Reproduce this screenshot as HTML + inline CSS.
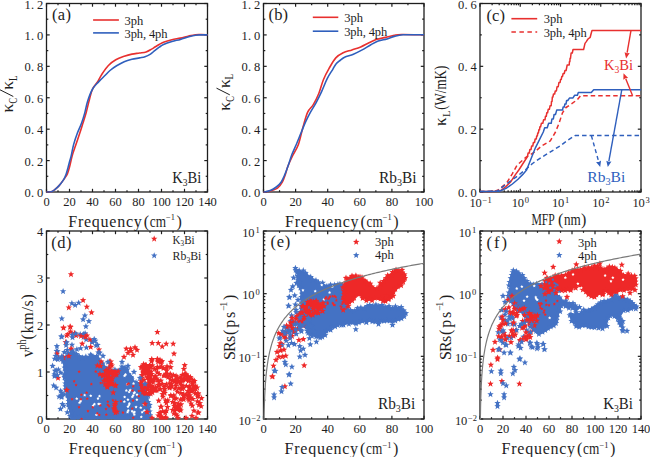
<!DOCTYPE html>
<html><head><meta charset="utf-8"><style>
html,body{margin:0;padding:0;background:#fff;overflow:hidden;}
svg{display:block;font-family:'Liberation Serif', serif;}
</style></head><body>
<svg width="650" height="457" viewBox="0 0 650 457">
<rect width="650" height="457" fill="#fff"/>
<defs>
<clipPath id="c00"><rect x="45.8" y="2.8" width="162.4" height="189.9"/></clipPath>
<clipPath id="c01"><rect x="45.8" y="230.3" width="162.4" height="189.4"/></clipPath>
<clipPath id="c10"><rect x="262.8" y="2.8" width="161.9" height="189.9"/></clipPath>
<clipPath id="c11"><rect x="262.8" y="230.3" width="161.9" height="189.4"/></clipPath>
<clipPath id="c20"><rect x="479.3" y="2.8" width="162.4" height="189.9"/></clipPath>
<clipPath id="c21"><rect x="479.3" y="230.3" width="162.4" height="189.4"/></clipPath>
</defs>
<rect x="46.5" y="3.5" width="161.0" height="188.5" fill="none" stroke="#1e1e1e" stroke-width="1.3"/>
<rect x="46.5" y="231.0" width="161.0" height="188.0" fill="none" stroke="#1e1e1e" stroke-width="1.3"/>
<rect x="263.5" y="3.5" width="160.5" height="188.5" fill="none" stroke="#1e1e1e" stroke-width="1.3"/>
<rect x="263.5" y="231.0" width="160.5" height="188.0" fill="none" stroke="#1e1e1e" stroke-width="1.3"/>
<rect x="480.0" y="3.5" width="161.0" height="188.5" fill="none" stroke="#1e1e1e" stroke-width="1.3"/>
<rect x="480.0" y="231.0" width="161.0" height="188.0" fill="none" stroke="#1e1e1e" stroke-width="1.3"/>
<line x1="46.50" y1="192.00" x2="46.50" y2="188.80" stroke="#1e1e1e" stroke-width="1.2" />
<line x1="46.50" y1="3.50" x2="46.50" y2="6.70" stroke="#1e1e1e" stroke-width="1.2" />
<text x="46.50" y="206.00" font-size="12.5" text-anchor="middle" fill="#1e1e1e">0</text>
<line x1="58.00" y1="192.00" x2="58.00" y2="190.20" stroke="#1e1e1e" stroke-width="1.2" />
<line x1="58.00" y1="3.50" x2="58.00" y2="5.30" stroke="#1e1e1e" stroke-width="1.2" />
<line x1="69.50" y1="192.00" x2="69.50" y2="188.80" stroke="#1e1e1e" stroke-width="1.2" />
<line x1="69.50" y1="3.50" x2="69.50" y2="6.70" stroke="#1e1e1e" stroke-width="1.2" />
<text x="66.40 72.60" y="206.00" font-size="12.5" text-anchor="middle" fill="#1e1e1e">20</text>
<line x1="81.00" y1="192.00" x2="81.00" y2="190.20" stroke="#1e1e1e" stroke-width="1.2" />
<line x1="81.00" y1="3.50" x2="81.00" y2="5.30" stroke="#1e1e1e" stroke-width="1.2" />
<line x1="92.50" y1="192.00" x2="92.50" y2="188.80" stroke="#1e1e1e" stroke-width="1.2" />
<line x1="92.50" y1="3.50" x2="92.50" y2="6.70" stroke="#1e1e1e" stroke-width="1.2" />
<text x="89.40 95.60" y="206.00" font-size="12.5" text-anchor="middle" fill="#1e1e1e">40</text>
<line x1="104.00" y1="192.00" x2="104.00" y2="190.20" stroke="#1e1e1e" stroke-width="1.2" />
<line x1="104.00" y1="3.50" x2="104.00" y2="5.30" stroke="#1e1e1e" stroke-width="1.2" />
<line x1="115.50" y1="192.00" x2="115.50" y2="188.80" stroke="#1e1e1e" stroke-width="1.2" />
<line x1="115.50" y1="3.50" x2="115.50" y2="6.70" stroke="#1e1e1e" stroke-width="1.2" />
<text x="112.40 118.60" y="206.00" font-size="12.5" text-anchor="middle" fill="#1e1e1e">60</text>
<line x1="127.00" y1="192.00" x2="127.00" y2="190.20" stroke="#1e1e1e" stroke-width="1.2" />
<line x1="127.00" y1="3.50" x2="127.00" y2="5.30" stroke="#1e1e1e" stroke-width="1.2" />
<line x1="138.50" y1="192.00" x2="138.50" y2="188.80" stroke="#1e1e1e" stroke-width="1.2" />
<line x1="138.50" y1="3.50" x2="138.50" y2="6.70" stroke="#1e1e1e" stroke-width="1.2" />
<text x="135.40 141.60" y="206.00" font-size="12.5" text-anchor="middle" fill="#1e1e1e">80</text>
<line x1="150.00" y1="192.00" x2="150.00" y2="190.20" stroke="#1e1e1e" stroke-width="1.2" />
<line x1="150.00" y1="3.50" x2="150.00" y2="5.30" stroke="#1e1e1e" stroke-width="1.2" />
<line x1="161.50" y1="192.00" x2="161.50" y2="188.80" stroke="#1e1e1e" stroke-width="1.2" />
<line x1="161.50" y1="3.50" x2="161.50" y2="6.70" stroke="#1e1e1e" stroke-width="1.2" />
<text x="155.30 161.50 167.70" y="206.00" font-size="12.5" text-anchor="middle" fill="#1e1e1e">100</text>
<line x1="173.00" y1="192.00" x2="173.00" y2="190.20" stroke="#1e1e1e" stroke-width="1.2" />
<line x1="173.00" y1="3.50" x2="173.00" y2="5.30" stroke="#1e1e1e" stroke-width="1.2" />
<line x1="184.50" y1="192.00" x2="184.50" y2="188.80" stroke="#1e1e1e" stroke-width="1.2" />
<line x1="184.50" y1="3.50" x2="184.50" y2="6.70" stroke="#1e1e1e" stroke-width="1.2" />
<text x="178.30 184.50 190.70" y="206.00" font-size="12.5" text-anchor="middle" fill="#1e1e1e">120</text>
<line x1="196.00" y1="192.00" x2="196.00" y2="190.20" stroke="#1e1e1e" stroke-width="1.2" />
<line x1="196.00" y1="3.50" x2="196.00" y2="5.30" stroke="#1e1e1e" stroke-width="1.2" />
<line x1="207.50" y1="192.00" x2="207.50" y2="188.80" stroke="#1e1e1e" stroke-width="1.2" />
<line x1="207.50" y1="3.50" x2="207.50" y2="6.70" stroke="#1e1e1e" stroke-width="1.2" />
<text x="201.30 207.50 213.70" y="206.00" font-size="12.5" text-anchor="middle" fill="#1e1e1e">140</text>
<line x1="46.50" y1="192.00" x2="49.70" y2="192.00" stroke="#1e1e1e" stroke-width="1.2" />
<line x1="207.50" y1="192.00" x2="204.30" y2="192.00" stroke="#1e1e1e" stroke-width="1.2" />
<text x="27.70 32.50 40.10" y="197.00" font-size="12.5" text-anchor="middle" fill="#1e1e1e">0.0</text>
<line x1="46.50" y1="176.29" x2="48.30" y2="176.29" stroke="#1e1e1e" stroke-width="1.2" />
<line x1="207.50" y1="176.29" x2="205.70" y2="176.29" stroke="#1e1e1e" stroke-width="1.2" />
<line x1="46.50" y1="160.58" x2="49.70" y2="160.58" stroke="#1e1e1e" stroke-width="1.2" />
<line x1="207.50" y1="160.58" x2="204.30" y2="160.58" stroke="#1e1e1e" stroke-width="1.2" />
<text x="27.70 32.50 40.10" y="165.58" font-size="12.5" text-anchor="middle" fill="#1e1e1e">0.2</text>
<line x1="46.50" y1="144.88" x2="48.30" y2="144.88" stroke="#1e1e1e" stroke-width="1.2" />
<line x1="207.50" y1="144.88" x2="205.70" y2="144.88" stroke="#1e1e1e" stroke-width="1.2" />
<line x1="46.50" y1="129.17" x2="49.70" y2="129.17" stroke="#1e1e1e" stroke-width="1.2" />
<line x1="207.50" y1="129.17" x2="204.30" y2="129.17" stroke="#1e1e1e" stroke-width="1.2" />
<text x="27.70 32.50 40.10" y="134.17" font-size="12.5" text-anchor="middle" fill="#1e1e1e">0.4</text>
<line x1="46.50" y1="113.46" x2="48.30" y2="113.46" stroke="#1e1e1e" stroke-width="1.2" />
<line x1="207.50" y1="113.46" x2="205.70" y2="113.46" stroke="#1e1e1e" stroke-width="1.2" />
<line x1="46.50" y1="97.75" x2="49.70" y2="97.75" stroke="#1e1e1e" stroke-width="1.2" />
<line x1="207.50" y1="97.75" x2="204.30" y2="97.75" stroke="#1e1e1e" stroke-width="1.2" />
<text x="27.70 32.50 40.10" y="102.75" font-size="12.5" text-anchor="middle" fill="#1e1e1e">0.6</text>
<line x1="46.50" y1="82.04" x2="48.30" y2="82.04" stroke="#1e1e1e" stroke-width="1.2" />
<line x1="207.50" y1="82.04" x2="205.70" y2="82.04" stroke="#1e1e1e" stroke-width="1.2" />
<line x1="46.50" y1="66.33" x2="49.70" y2="66.33" stroke="#1e1e1e" stroke-width="1.2" />
<line x1="207.50" y1="66.33" x2="204.30" y2="66.33" stroke="#1e1e1e" stroke-width="1.2" />
<text x="27.70 32.50 40.10" y="71.33" font-size="12.5" text-anchor="middle" fill="#1e1e1e">0.8</text>
<line x1="46.50" y1="50.62" x2="48.30" y2="50.62" stroke="#1e1e1e" stroke-width="1.2" />
<line x1="207.50" y1="50.62" x2="205.70" y2="50.62" stroke="#1e1e1e" stroke-width="1.2" />
<line x1="46.50" y1="34.92" x2="49.70" y2="34.92" stroke="#1e1e1e" stroke-width="1.2" />
<line x1="207.50" y1="34.92" x2="204.30" y2="34.92" stroke="#1e1e1e" stroke-width="1.2" />
<text x="27.70 32.50 40.10" y="39.92" font-size="12.5" text-anchor="middle" fill="#1e1e1e">1.0</text>
<line x1="46.50" y1="19.21" x2="48.30" y2="19.21" stroke="#1e1e1e" stroke-width="1.2" />
<line x1="207.50" y1="19.21" x2="205.70" y2="19.21" stroke="#1e1e1e" stroke-width="1.2" />
<line x1="46.50" y1="3.50" x2="49.70" y2="3.50" stroke="#1e1e1e" stroke-width="1.2" />
<line x1="207.50" y1="3.50" x2="204.30" y2="3.50" stroke="#1e1e1e" stroke-width="1.2" />
<text x="27.70 32.50 40.10" y="8.50" font-size="12.5" text-anchor="middle" fill="#1e1e1e">1.2</text>
<line x1="263.50" y1="192.00" x2="263.50" y2="188.80" stroke="#1e1e1e" stroke-width="1.2" />
<line x1="263.50" y1="3.50" x2="263.50" y2="6.70" stroke="#1e1e1e" stroke-width="1.2" />
<text x="263.50" y="206.00" font-size="12.5" text-anchor="middle" fill="#1e1e1e">0</text>
<line x1="279.55" y1="192.00" x2="279.55" y2="190.20" stroke="#1e1e1e" stroke-width="1.2" />
<line x1="279.55" y1="3.50" x2="279.55" y2="5.30" stroke="#1e1e1e" stroke-width="1.2" />
<line x1="295.60" y1="192.00" x2="295.60" y2="188.80" stroke="#1e1e1e" stroke-width="1.2" />
<line x1="295.60" y1="3.50" x2="295.60" y2="6.70" stroke="#1e1e1e" stroke-width="1.2" />
<text x="292.50 298.70" y="206.00" font-size="12.5" text-anchor="middle" fill="#1e1e1e">20</text>
<line x1="311.65" y1="192.00" x2="311.65" y2="190.20" stroke="#1e1e1e" stroke-width="1.2" />
<line x1="311.65" y1="3.50" x2="311.65" y2="5.30" stroke="#1e1e1e" stroke-width="1.2" />
<line x1="327.70" y1="192.00" x2="327.70" y2="188.80" stroke="#1e1e1e" stroke-width="1.2" />
<line x1="327.70" y1="3.50" x2="327.70" y2="6.70" stroke="#1e1e1e" stroke-width="1.2" />
<text x="324.60 330.80" y="206.00" font-size="12.5" text-anchor="middle" fill="#1e1e1e">40</text>
<line x1="343.75" y1="192.00" x2="343.75" y2="190.20" stroke="#1e1e1e" stroke-width="1.2" />
<line x1="343.75" y1="3.50" x2="343.75" y2="5.30" stroke="#1e1e1e" stroke-width="1.2" />
<line x1="359.80" y1="192.00" x2="359.80" y2="188.80" stroke="#1e1e1e" stroke-width="1.2" />
<line x1="359.80" y1="3.50" x2="359.80" y2="6.70" stroke="#1e1e1e" stroke-width="1.2" />
<text x="356.70 362.90" y="206.00" font-size="12.5" text-anchor="middle" fill="#1e1e1e">60</text>
<line x1="375.85" y1="192.00" x2="375.85" y2="190.20" stroke="#1e1e1e" stroke-width="1.2" />
<line x1="375.85" y1="3.50" x2="375.85" y2="5.30" stroke="#1e1e1e" stroke-width="1.2" />
<line x1="391.90" y1="192.00" x2="391.90" y2="188.80" stroke="#1e1e1e" stroke-width="1.2" />
<line x1="391.90" y1="3.50" x2="391.90" y2="6.70" stroke="#1e1e1e" stroke-width="1.2" />
<text x="388.80 395.00" y="206.00" font-size="12.5" text-anchor="middle" fill="#1e1e1e">80</text>
<line x1="407.95" y1="192.00" x2="407.95" y2="190.20" stroke="#1e1e1e" stroke-width="1.2" />
<line x1="407.95" y1="3.50" x2="407.95" y2="5.30" stroke="#1e1e1e" stroke-width="1.2" />
<line x1="424.00" y1="192.00" x2="424.00" y2="188.80" stroke="#1e1e1e" stroke-width="1.2" />
<line x1="424.00" y1="3.50" x2="424.00" y2="6.70" stroke="#1e1e1e" stroke-width="1.2" />
<text x="417.80 424.00 430.20" y="206.00" font-size="12.5" text-anchor="middle" fill="#1e1e1e">100</text>
<line x1="263.50" y1="192.00" x2="266.70" y2="192.00" stroke="#1e1e1e" stroke-width="1.2" />
<line x1="424.00" y1="192.00" x2="420.80" y2="192.00" stroke="#1e1e1e" stroke-width="1.2" />
<text x="244.70 249.50 257.10" y="197.00" font-size="12.5" text-anchor="middle" fill="#1e1e1e">0.0</text>
<line x1="263.50" y1="176.29" x2="265.30" y2="176.29" stroke="#1e1e1e" stroke-width="1.2" />
<line x1="424.00" y1="176.29" x2="422.20" y2="176.29" stroke="#1e1e1e" stroke-width="1.2" />
<line x1="263.50" y1="160.58" x2="266.70" y2="160.58" stroke="#1e1e1e" stroke-width="1.2" />
<line x1="424.00" y1="160.58" x2="420.80" y2="160.58" stroke="#1e1e1e" stroke-width="1.2" />
<text x="244.70 249.50 257.10" y="165.58" font-size="12.5" text-anchor="middle" fill="#1e1e1e">0.2</text>
<line x1="263.50" y1="144.88" x2="265.30" y2="144.88" stroke="#1e1e1e" stroke-width="1.2" />
<line x1="424.00" y1="144.88" x2="422.20" y2="144.88" stroke="#1e1e1e" stroke-width="1.2" />
<line x1="263.50" y1="129.17" x2="266.70" y2="129.17" stroke="#1e1e1e" stroke-width="1.2" />
<line x1="424.00" y1="129.17" x2="420.80" y2="129.17" stroke="#1e1e1e" stroke-width="1.2" />
<text x="244.70 249.50 257.10" y="134.17" font-size="12.5" text-anchor="middle" fill="#1e1e1e">0.4</text>
<line x1="263.50" y1="113.46" x2="265.30" y2="113.46" stroke="#1e1e1e" stroke-width="1.2" />
<line x1="424.00" y1="113.46" x2="422.20" y2="113.46" stroke="#1e1e1e" stroke-width="1.2" />
<line x1="263.50" y1="97.75" x2="266.70" y2="97.75" stroke="#1e1e1e" stroke-width="1.2" />
<line x1="424.00" y1="97.75" x2="420.80" y2="97.75" stroke="#1e1e1e" stroke-width="1.2" />
<text x="244.70 249.50 257.10" y="102.75" font-size="12.5" text-anchor="middle" fill="#1e1e1e">0.6</text>
<line x1="263.50" y1="82.04" x2="265.30" y2="82.04" stroke="#1e1e1e" stroke-width="1.2" />
<line x1="424.00" y1="82.04" x2="422.20" y2="82.04" stroke="#1e1e1e" stroke-width="1.2" />
<line x1="263.50" y1="66.33" x2="266.70" y2="66.33" stroke="#1e1e1e" stroke-width="1.2" />
<line x1="424.00" y1="66.33" x2="420.80" y2="66.33" stroke="#1e1e1e" stroke-width="1.2" />
<text x="244.70 249.50 257.10" y="71.33" font-size="12.5" text-anchor="middle" fill="#1e1e1e">0.8</text>
<line x1="263.50" y1="50.62" x2="265.30" y2="50.62" stroke="#1e1e1e" stroke-width="1.2" />
<line x1="424.00" y1="50.62" x2="422.20" y2="50.62" stroke="#1e1e1e" stroke-width="1.2" />
<line x1="263.50" y1="34.92" x2="266.70" y2="34.92" stroke="#1e1e1e" stroke-width="1.2" />
<line x1="424.00" y1="34.92" x2="420.80" y2="34.92" stroke="#1e1e1e" stroke-width="1.2" />
<text x="244.70 249.50 257.10" y="39.92" font-size="12.5" text-anchor="middle" fill="#1e1e1e">1.0</text>
<line x1="263.50" y1="19.21" x2="265.30" y2="19.21" stroke="#1e1e1e" stroke-width="1.2" />
<line x1="424.00" y1="19.21" x2="422.20" y2="19.21" stroke="#1e1e1e" stroke-width="1.2" />
<line x1="263.50" y1="3.50" x2="266.70" y2="3.50" stroke="#1e1e1e" stroke-width="1.2" />
<line x1="424.00" y1="3.50" x2="420.80" y2="3.50" stroke="#1e1e1e" stroke-width="1.2" />
<text x="244.70 249.50 257.10" y="8.50" font-size="12.5" text-anchor="middle" fill="#1e1e1e">1.2</text>
<line x1="480.00" y1="192.00" x2="480.00" y2="188.80" stroke="#1e1e1e" stroke-width="1.2" />
<line x1="480.00" y1="3.50" x2="480.00" y2="6.70" stroke="#1e1e1e" stroke-width="1.2" />
<text x="472.60 478.60" y="207.20" font-size="12.5" text-anchor="middle" fill="#1e1e1e">10</text>
<text x="482.60" y="202.80" font-size="8.5" fill="#1e1e1e">&#8722;1</text>
<line x1="492.12" y1="192.00" x2="492.12" y2="190.20" stroke="#1e1e1e" stroke-width="1.2" />
<line x1="492.12" y1="3.50" x2="492.12" y2="5.30" stroke="#1e1e1e" stroke-width="1.2" />
<line x1="499.20" y1="192.00" x2="499.20" y2="190.20" stroke="#1e1e1e" stroke-width="1.2" />
<line x1="499.20" y1="3.50" x2="499.20" y2="5.30" stroke="#1e1e1e" stroke-width="1.2" />
<line x1="504.23" y1="192.00" x2="504.23" y2="190.20" stroke="#1e1e1e" stroke-width="1.2" />
<line x1="504.23" y1="3.50" x2="504.23" y2="5.30" stroke="#1e1e1e" stroke-width="1.2" />
<line x1="508.13" y1="192.00" x2="508.13" y2="190.20" stroke="#1e1e1e" stroke-width="1.2" />
<line x1="508.13" y1="3.50" x2="508.13" y2="5.30" stroke="#1e1e1e" stroke-width="1.2" />
<line x1="511.32" y1="192.00" x2="511.32" y2="190.20" stroke="#1e1e1e" stroke-width="1.2" />
<line x1="511.32" y1="3.50" x2="511.32" y2="5.30" stroke="#1e1e1e" stroke-width="1.2" />
<line x1="514.02" y1="192.00" x2="514.02" y2="190.20" stroke="#1e1e1e" stroke-width="1.2" />
<line x1="514.02" y1="3.50" x2="514.02" y2="5.30" stroke="#1e1e1e" stroke-width="1.2" />
<line x1="516.35" y1="192.00" x2="516.35" y2="190.20" stroke="#1e1e1e" stroke-width="1.2" />
<line x1="516.35" y1="3.50" x2="516.35" y2="5.30" stroke="#1e1e1e" stroke-width="1.2" />
<line x1="518.41" y1="192.00" x2="518.41" y2="190.20" stroke="#1e1e1e" stroke-width="1.2" />
<line x1="518.41" y1="3.50" x2="518.41" y2="5.30" stroke="#1e1e1e" stroke-width="1.2" />
<line x1="520.25" y1="192.00" x2="520.25" y2="188.80" stroke="#1e1e1e" stroke-width="1.2" />
<line x1="520.25" y1="3.50" x2="520.25" y2="6.70" stroke="#1e1e1e" stroke-width="1.2" />
<text x="514.80 520.80" y="207.20" font-size="12.5" text-anchor="middle" fill="#1e1e1e">10</text>
<text x="524.80" y="202.80" font-size="8.5" fill="#1e1e1e">0</text>
<line x1="532.37" y1="192.00" x2="532.37" y2="190.20" stroke="#1e1e1e" stroke-width="1.2" />
<line x1="532.37" y1="3.50" x2="532.37" y2="5.30" stroke="#1e1e1e" stroke-width="1.2" />
<line x1="539.45" y1="192.00" x2="539.45" y2="190.20" stroke="#1e1e1e" stroke-width="1.2" />
<line x1="539.45" y1="3.50" x2="539.45" y2="5.30" stroke="#1e1e1e" stroke-width="1.2" />
<line x1="544.48" y1="192.00" x2="544.48" y2="190.20" stroke="#1e1e1e" stroke-width="1.2" />
<line x1="544.48" y1="3.50" x2="544.48" y2="5.30" stroke="#1e1e1e" stroke-width="1.2" />
<line x1="548.38" y1="192.00" x2="548.38" y2="190.20" stroke="#1e1e1e" stroke-width="1.2" />
<line x1="548.38" y1="3.50" x2="548.38" y2="5.30" stroke="#1e1e1e" stroke-width="1.2" />
<line x1="551.57" y1="192.00" x2="551.57" y2="190.20" stroke="#1e1e1e" stroke-width="1.2" />
<line x1="551.57" y1="3.50" x2="551.57" y2="5.30" stroke="#1e1e1e" stroke-width="1.2" />
<line x1="554.27" y1="192.00" x2="554.27" y2="190.20" stroke="#1e1e1e" stroke-width="1.2" />
<line x1="554.27" y1="3.50" x2="554.27" y2="5.30" stroke="#1e1e1e" stroke-width="1.2" />
<line x1="556.60" y1="192.00" x2="556.60" y2="190.20" stroke="#1e1e1e" stroke-width="1.2" />
<line x1="556.60" y1="3.50" x2="556.60" y2="5.30" stroke="#1e1e1e" stroke-width="1.2" />
<line x1="558.66" y1="192.00" x2="558.66" y2="190.20" stroke="#1e1e1e" stroke-width="1.2" />
<line x1="558.66" y1="3.50" x2="558.66" y2="5.30" stroke="#1e1e1e" stroke-width="1.2" />
<line x1="560.50" y1="192.00" x2="560.50" y2="188.80" stroke="#1e1e1e" stroke-width="1.2" />
<line x1="560.50" y1="3.50" x2="560.50" y2="6.70" stroke="#1e1e1e" stroke-width="1.2" />
<text x="555.05 561.05" y="207.20" font-size="12.5" text-anchor="middle" fill="#1e1e1e">10</text>
<text x="565.05" y="202.80" font-size="8.5" fill="#1e1e1e">1</text>
<line x1="572.62" y1="192.00" x2="572.62" y2="190.20" stroke="#1e1e1e" stroke-width="1.2" />
<line x1="572.62" y1="3.50" x2="572.62" y2="5.30" stroke="#1e1e1e" stroke-width="1.2" />
<line x1="579.70" y1="192.00" x2="579.70" y2="190.20" stroke="#1e1e1e" stroke-width="1.2" />
<line x1="579.70" y1="3.50" x2="579.70" y2="5.30" stroke="#1e1e1e" stroke-width="1.2" />
<line x1="584.73" y1="192.00" x2="584.73" y2="190.20" stroke="#1e1e1e" stroke-width="1.2" />
<line x1="584.73" y1="3.50" x2="584.73" y2="5.30" stroke="#1e1e1e" stroke-width="1.2" />
<line x1="588.63" y1="192.00" x2="588.63" y2="190.20" stroke="#1e1e1e" stroke-width="1.2" />
<line x1="588.63" y1="3.50" x2="588.63" y2="5.30" stroke="#1e1e1e" stroke-width="1.2" />
<line x1="591.82" y1="192.00" x2="591.82" y2="190.20" stroke="#1e1e1e" stroke-width="1.2" />
<line x1="591.82" y1="3.50" x2="591.82" y2="5.30" stroke="#1e1e1e" stroke-width="1.2" />
<line x1="594.52" y1="192.00" x2="594.52" y2="190.20" stroke="#1e1e1e" stroke-width="1.2" />
<line x1="594.52" y1="3.50" x2="594.52" y2="5.30" stroke="#1e1e1e" stroke-width="1.2" />
<line x1="596.85" y1="192.00" x2="596.85" y2="190.20" stroke="#1e1e1e" stroke-width="1.2" />
<line x1="596.85" y1="3.50" x2="596.85" y2="5.30" stroke="#1e1e1e" stroke-width="1.2" />
<line x1="598.91" y1="192.00" x2="598.91" y2="190.20" stroke="#1e1e1e" stroke-width="1.2" />
<line x1="598.91" y1="3.50" x2="598.91" y2="5.30" stroke="#1e1e1e" stroke-width="1.2" />
<line x1="600.75" y1="192.00" x2="600.75" y2="188.80" stroke="#1e1e1e" stroke-width="1.2" />
<line x1="600.75" y1="3.50" x2="600.75" y2="6.70" stroke="#1e1e1e" stroke-width="1.2" />
<text x="595.30 601.30" y="207.20" font-size="12.5" text-anchor="middle" fill="#1e1e1e">10</text>
<text x="605.30" y="202.80" font-size="8.5" fill="#1e1e1e">2</text>
<line x1="612.87" y1="192.00" x2="612.87" y2="190.20" stroke="#1e1e1e" stroke-width="1.2" />
<line x1="612.87" y1="3.50" x2="612.87" y2="5.30" stroke="#1e1e1e" stroke-width="1.2" />
<line x1="619.95" y1="192.00" x2="619.95" y2="190.20" stroke="#1e1e1e" stroke-width="1.2" />
<line x1="619.95" y1="3.50" x2="619.95" y2="5.30" stroke="#1e1e1e" stroke-width="1.2" />
<line x1="624.98" y1="192.00" x2="624.98" y2="190.20" stroke="#1e1e1e" stroke-width="1.2" />
<line x1="624.98" y1="3.50" x2="624.98" y2="5.30" stroke="#1e1e1e" stroke-width="1.2" />
<line x1="628.88" y1="192.00" x2="628.88" y2="190.20" stroke="#1e1e1e" stroke-width="1.2" />
<line x1="628.88" y1="3.50" x2="628.88" y2="5.30" stroke="#1e1e1e" stroke-width="1.2" />
<line x1="632.07" y1="192.00" x2="632.07" y2="190.20" stroke="#1e1e1e" stroke-width="1.2" />
<line x1="632.07" y1="3.50" x2="632.07" y2="5.30" stroke="#1e1e1e" stroke-width="1.2" />
<line x1="634.77" y1="192.00" x2="634.77" y2="190.20" stroke="#1e1e1e" stroke-width="1.2" />
<line x1="634.77" y1="3.50" x2="634.77" y2="5.30" stroke="#1e1e1e" stroke-width="1.2" />
<line x1="637.10" y1="192.00" x2="637.10" y2="190.20" stroke="#1e1e1e" stroke-width="1.2" />
<line x1="637.10" y1="3.50" x2="637.10" y2="5.30" stroke="#1e1e1e" stroke-width="1.2" />
<line x1="639.16" y1="192.00" x2="639.16" y2="190.20" stroke="#1e1e1e" stroke-width="1.2" />
<line x1="639.16" y1="3.50" x2="639.16" y2="5.30" stroke="#1e1e1e" stroke-width="1.2" />
<line x1="641.00" y1="192.00" x2="641.00" y2="188.80" stroke="#1e1e1e" stroke-width="1.2" />
<line x1="641.00" y1="3.50" x2="641.00" y2="6.70" stroke="#1e1e1e" stroke-width="1.2" />
<text x="635.55 641.55" y="207.20" font-size="12.5" text-anchor="middle" fill="#1e1e1e">10</text>
<text x="645.55" y="202.80" font-size="8.5" fill="#1e1e1e">3</text>
<line x1="480.00" y1="192.00" x2="483.20" y2="192.00" stroke="#1e1e1e" stroke-width="1.2" />
<line x1="641.00" y1="192.00" x2="637.80" y2="192.00" stroke="#1e1e1e" stroke-width="1.2" />
<text x="461.20 466.00 473.60" y="197.00" font-size="12.5" text-anchor="middle" fill="#1e1e1e">0.0</text>
<line x1="480.00" y1="160.58" x2="481.80" y2="160.58" stroke="#1e1e1e" stroke-width="1.2" />
<line x1="641.00" y1="160.58" x2="639.20" y2="160.58" stroke="#1e1e1e" stroke-width="1.2" />
<line x1="480.00" y1="129.17" x2="483.20" y2="129.17" stroke="#1e1e1e" stroke-width="1.2" />
<line x1="641.00" y1="129.17" x2="637.80" y2="129.17" stroke="#1e1e1e" stroke-width="1.2" />
<text x="461.20 466.00 473.60" y="134.17" font-size="12.5" text-anchor="middle" fill="#1e1e1e">0.2</text>
<line x1="480.00" y1="97.75" x2="481.80" y2="97.75" stroke="#1e1e1e" stroke-width="1.2" />
<line x1="641.00" y1="97.75" x2="639.20" y2="97.75" stroke="#1e1e1e" stroke-width="1.2" />
<line x1="480.00" y1="66.33" x2="483.20" y2="66.33" stroke="#1e1e1e" stroke-width="1.2" />
<line x1="641.00" y1="66.33" x2="637.80" y2="66.33" stroke="#1e1e1e" stroke-width="1.2" />
<text x="461.20 466.00 473.60" y="71.33" font-size="12.5" text-anchor="middle" fill="#1e1e1e">0.4</text>
<line x1="480.00" y1="34.92" x2="481.80" y2="34.92" stroke="#1e1e1e" stroke-width="1.2" />
<line x1="641.00" y1="34.92" x2="639.20" y2="34.92" stroke="#1e1e1e" stroke-width="1.2" />
<line x1="480.00" y1="3.50" x2="483.20" y2="3.50" stroke="#1e1e1e" stroke-width="1.2" />
<line x1="641.00" y1="3.50" x2="637.80" y2="3.50" stroke="#1e1e1e" stroke-width="1.2" />
<text x="461.20 466.00 473.60" y="8.50" font-size="12.5" text-anchor="middle" fill="#1e1e1e">0.6</text>
<line x1="46.50" y1="419.00" x2="46.50" y2="415.80" stroke="#1e1e1e" stroke-width="1.2" />
<line x1="46.50" y1="231.00" x2="46.50" y2="234.20" stroke="#1e1e1e" stroke-width="1.2" />
<text x="46.50" y="433.00" font-size="12.5" text-anchor="middle" fill="#1e1e1e">0</text>
<line x1="58.00" y1="419.00" x2="58.00" y2="417.20" stroke="#1e1e1e" stroke-width="1.2" />
<line x1="58.00" y1="231.00" x2="58.00" y2="232.80" stroke="#1e1e1e" stroke-width="1.2" />
<line x1="69.50" y1="419.00" x2="69.50" y2="415.80" stroke="#1e1e1e" stroke-width="1.2" />
<line x1="69.50" y1="231.00" x2="69.50" y2="234.20" stroke="#1e1e1e" stroke-width="1.2" />
<text x="66.40 72.60" y="433.00" font-size="12.5" text-anchor="middle" fill="#1e1e1e">20</text>
<line x1="81.00" y1="419.00" x2="81.00" y2="417.20" stroke="#1e1e1e" stroke-width="1.2" />
<line x1="81.00" y1="231.00" x2="81.00" y2="232.80" stroke="#1e1e1e" stroke-width="1.2" />
<line x1="92.50" y1="419.00" x2="92.50" y2="415.80" stroke="#1e1e1e" stroke-width="1.2" />
<line x1="92.50" y1="231.00" x2="92.50" y2="234.20" stroke="#1e1e1e" stroke-width="1.2" />
<text x="89.40 95.60" y="433.00" font-size="12.5" text-anchor="middle" fill="#1e1e1e">40</text>
<line x1="104.00" y1="419.00" x2="104.00" y2="417.20" stroke="#1e1e1e" stroke-width="1.2" />
<line x1="104.00" y1="231.00" x2="104.00" y2="232.80" stroke="#1e1e1e" stroke-width="1.2" />
<line x1="115.50" y1="419.00" x2="115.50" y2="415.80" stroke="#1e1e1e" stroke-width="1.2" />
<line x1="115.50" y1="231.00" x2="115.50" y2="234.20" stroke="#1e1e1e" stroke-width="1.2" />
<text x="112.40 118.60" y="433.00" font-size="12.5" text-anchor="middle" fill="#1e1e1e">60</text>
<line x1="127.00" y1="419.00" x2="127.00" y2="417.20" stroke="#1e1e1e" stroke-width="1.2" />
<line x1="127.00" y1="231.00" x2="127.00" y2="232.80" stroke="#1e1e1e" stroke-width="1.2" />
<line x1="138.50" y1="419.00" x2="138.50" y2="415.80" stroke="#1e1e1e" stroke-width="1.2" />
<line x1="138.50" y1="231.00" x2="138.50" y2="234.20" stroke="#1e1e1e" stroke-width="1.2" />
<text x="135.40 141.60" y="433.00" font-size="12.5" text-anchor="middle" fill="#1e1e1e">80</text>
<line x1="150.00" y1="419.00" x2="150.00" y2="417.20" stroke="#1e1e1e" stroke-width="1.2" />
<line x1="150.00" y1="231.00" x2="150.00" y2="232.80" stroke="#1e1e1e" stroke-width="1.2" />
<line x1="161.50" y1="419.00" x2="161.50" y2="415.80" stroke="#1e1e1e" stroke-width="1.2" />
<line x1="161.50" y1="231.00" x2="161.50" y2="234.20" stroke="#1e1e1e" stroke-width="1.2" />
<text x="155.30 161.50 167.70" y="433.00" font-size="12.5" text-anchor="middle" fill="#1e1e1e">100</text>
<line x1="173.00" y1="419.00" x2="173.00" y2="417.20" stroke="#1e1e1e" stroke-width="1.2" />
<line x1="173.00" y1="231.00" x2="173.00" y2="232.80" stroke="#1e1e1e" stroke-width="1.2" />
<line x1="184.50" y1="419.00" x2="184.50" y2="415.80" stroke="#1e1e1e" stroke-width="1.2" />
<line x1="184.50" y1="231.00" x2="184.50" y2="234.20" stroke="#1e1e1e" stroke-width="1.2" />
<text x="178.30 184.50 190.70" y="433.00" font-size="12.5" text-anchor="middle" fill="#1e1e1e">120</text>
<line x1="196.00" y1="419.00" x2="196.00" y2="417.20" stroke="#1e1e1e" stroke-width="1.2" />
<line x1="196.00" y1="231.00" x2="196.00" y2="232.80" stroke="#1e1e1e" stroke-width="1.2" />
<line x1="207.50" y1="419.00" x2="207.50" y2="415.80" stroke="#1e1e1e" stroke-width="1.2" />
<line x1="207.50" y1="231.00" x2="207.50" y2="234.20" stroke="#1e1e1e" stroke-width="1.2" />
<text x="201.30 207.50 213.70" y="433.00" font-size="12.5" text-anchor="middle" fill="#1e1e1e">140</text>
<line x1="46.50" y1="419.00" x2="49.70" y2="419.00" stroke="#1e1e1e" stroke-width="1.2" />
<line x1="207.50" y1="419.00" x2="204.30" y2="419.00" stroke="#1e1e1e" stroke-width="1.2" />
<text x="40.10" y="424.00" font-size="12.5" text-anchor="middle" fill="#1e1e1e">0</text>
<line x1="46.50" y1="395.50" x2="48.30" y2="395.50" stroke="#1e1e1e" stroke-width="1.2" />
<line x1="207.50" y1="395.50" x2="205.70" y2="395.50" stroke="#1e1e1e" stroke-width="1.2" />
<line x1="46.50" y1="372.00" x2="49.70" y2="372.00" stroke="#1e1e1e" stroke-width="1.2" />
<line x1="207.50" y1="372.00" x2="204.30" y2="372.00" stroke="#1e1e1e" stroke-width="1.2" />
<text x="40.10" y="377.00" font-size="12.5" text-anchor="middle" fill="#1e1e1e">1</text>
<line x1="46.50" y1="348.50" x2="48.30" y2="348.50" stroke="#1e1e1e" stroke-width="1.2" />
<line x1="207.50" y1="348.50" x2="205.70" y2="348.50" stroke="#1e1e1e" stroke-width="1.2" />
<line x1="46.50" y1="325.00" x2="49.70" y2="325.00" stroke="#1e1e1e" stroke-width="1.2" />
<line x1="207.50" y1="325.00" x2="204.30" y2="325.00" stroke="#1e1e1e" stroke-width="1.2" />
<text x="40.10" y="330.00" font-size="12.5" text-anchor="middle" fill="#1e1e1e">2</text>
<line x1="46.50" y1="301.50" x2="48.30" y2="301.50" stroke="#1e1e1e" stroke-width="1.2" />
<line x1="207.50" y1="301.50" x2="205.70" y2="301.50" stroke="#1e1e1e" stroke-width="1.2" />
<line x1="46.50" y1="278.00" x2="49.70" y2="278.00" stroke="#1e1e1e" stroke-width="1.2" />
<line x1="207.50" y1="278.00" x2="204.30" y2="278.00" stroke="#1e1e1e" stroke-width="1.2" />
<text x="40.10" y="283.00" font-size="12.5" text-anchor="middle" fill="#1e1e1e">3</text>
<line x1="46.50" y1="254.50" x2="48.30" y2="254.50" stroke="#1e1e1e" stroke-width="1.2" />
<line x1="207.50" y1="254.50" x2="205.70" y2="254.50" stroke="#1e1e1e" stroke-width="1.2" />
<line x1="46.50" y1="231.00" x2="49.70" y2="231.00" stroke="#1e1e1e" stroke-width="1.2" />
<line x1="207.50" y1="231.00" x2="204.30" y2="231.00" stroke="#1e1e1e" stroke-width="1.2" />
<text x="40.10" y="236.00" font-size="12.5" text-anchor="middle" fill="#1e1e1e">4</text>
<line x1="263.50" y1="419.00" x2="263.50" y2="415.80" stroke="#1e1e1e" stroke-width="1.2" />
<line x1="263.50" y1="231.00" x2="263.50" y2="234.20" stroke="#1e1e1e" stroke-width="1.2" />
<text x="263.50" y="433.00" font-size="12.5" text-anchor="middle" fill="#1e1e1e">0</text>
<line x1="279.55" y1="419.00" x2="279.55" y2="417.20" stroke="#1e1e1e" stroke-width="1.2" />
<line x1="279.55" y1="231.00" x2="279.55" y2="232.80" stroke="#1e1e1e" stroke-width="1.2" />
<line x1="295.60" y1="419.00" x2="295.60" y2="415.80" stroke="#1e1e1e" stroke-width="1.2" />
<line x1="295.60" y1="231.00" x2="295.60" y2="234.20" stroke="#1e1e1e" stroke-width="1.2" />
<text x="292.50 298.70" y="433.00" font-size="12.5" text-anchor="middle" fill="#1e1e1e">20</text>
<line x1="311.65" y1="419.00" x2="311.65" y2="417.20" stroke="#1e1e1e" stroke-width="1.2" />
<line x1="311.65" y1="231.00" x2="311.65" y2="232.80" stroke="#1e1e1e" stroke-width="1.2" />
<line x1="327.70" y1="419.00" x2="327.70" y2="415.80" stroke="#1e1e1e" stroke-width="1.2" />
<line x1="327.70" y1="231.00" x2="327.70" y2="234.20" stroke="#1e1e1e" stroke-width="1.2" />
<text x="324.60 330.80" y="433.00" font-size="12.5" text-anchor="middle" fill="#1e1e1e">40</text>
<line x1="343.75" y1="419.00" x2="343.75" y2="417.20" stroke="#1e1e1e" stroke-width="1.2" />
<line x1="343.75" y1="231.00" x2="343.75" y2="232.80" stroke="#1e1e1e" stroke-width="1.2" />
<line x1="359.80" y1="419.00" x2="359.80" y2="415.80" stroke="#1e1e1e" stroke-width="1.2" />
<line x1="359.80" y1="231.00" x2="359.80" y2="234.20" stroke="#1e1e1e" stroke-width="1.2" />
<text x="356.70 362.90" y="433.00" font-size="12.5" text-anchor="middle" fill="#1e1e1e">60</text>
<line x1="375.85" y1="419.00" x2="375.85" y2="417.20" stroke="#1e1e1e" stroke-width="1.2" />
<line x1="375.85" y1="231.00" x2="375.85" y2="232.80" stroke="#1e1e1e" stroke-width="1.2" />
<line x1="391.90" y1="419.00" x2="391.90" y2="415.80" stroke="#1e1e1e" stroke-width="1.2" />
<line x1="391.90" y1="231.00" x2="391.90" y2="234.20" stroke="#1e1e1e" stroke-width="1.2" />
<text x="388.80 395.00" y="433.00" font-size="12.5" text-anchor="middle" fill="#1e1e1e">80</text>
<line x1="407.95" y1="419.00" x2="407.95" y2="417.20" stroke="#1e1e1e" stroke-width="1.2" />
<line x1="407.95" y1="231.00" x2="407.95" y2="232.80" stroke="#1e1e1e" stroke-width="1.2" />
<line x1="424.00" y1="419.00" x2="424.00" y2="415.80" stroke="#1e1e1e" stroke-width="1.2" />
<line x1="424.00" y1="231.00" x2="424.00" y2="234.20" stroke="#1e1e1e" stroke-width="1.2" />
<text x="417.80 424.00 430.20" y="433.00" font-size="12.5" text-anchor="middle" fill="#1e1e1e">100</text>
<line x1="263.50" y1="419.00" x2="266.70" y2="419.00" stroke="#1e1e1e" stroke-width="1.2" />
<line x1="424.00" y1="419.00" x2="420.80" y2="419.00" stroke="#1e1e1e" stroke-width="1.2" />
<text x="241.50 247.50" y="424.50" font-size="12.5" text-anchor="middle" fill="#1e1e1e">10</text>
<text x="251.50" y="420.60" font-size="8.5" fill="#1e1e1e">&#8722;2</text>
<line x1="263.50" y1="400.14" x2="265.30" y2="400.14" stroke="#1e1e1e" stroke-width="1.2" />
<line x1="424.00" y1="400.14" x2="422.20" y2="400.14" stroke="#1e1e1e" stroke-width="1.2" />
<line x1="263.50" y1="389.10" x2="265.30" y2="389.10" stroke="#1e1e1e" stroke-width="1.2" />
<line x1="424.00" y1="389.10" x2="422.20" y2="389.10" stroke="#1e1e1e" stroke-width="1.2" />
<line x1="263.50" y1="381.27" x2="265.30" y2="381.27" stroke="#1e1e1e" stroke-width="1.2" />
<line x1="424.00" y1="381.27" x2="422.20" y2="381.27" stroke="#1e1e1e" stroke-width="1.2" />
<line x1="263.50" y1="375.20" x2="265.30" y2="375.20" stroke="#1e1e1e" stroke-width="1.2" />
<line x1="424.00" y1="375.20" x2="422.20" y2="375.20" stroke="#1e1e1e" stroke-width="1.2" />
<line x1="263.50" y1="370.24" x2="265.30" y2="370.24" stroke="#1e1e1e" stroke-width="1.2" />
<line x1="424.00" y1="370.24" x2="422.20" y2="370.24" stroke="#1e1e1e" stroke-width="1.2" />
<line x1="263.50" y1="366.04" x2="265.30" y2="366.04" stroke="#1e1e1e" stroke-width="1.2" />
<line x1="424.00" y1="366.04" x2="422.20" y2="366.04" stroke="#1e1e1e" stroke-width="1.2" />
<line x1="263.50" y1="362.41" x2="265.30" y2="362.41" stroke="#1e1e1e" stroke-width="1.2" />
<line x1="424.00" y1="362.41" x2="422.20" y2="362.41" stroke="#1e1e1e" stroke-width="1.2" />
<line x1="263.50" y1="359.20" x2="265.30" y2="359.20" stroke="#1e1e1e" stroke-width="1.2" />
<line x1="424.00" y1="359.20" x2="422.20" y2="359.20" stroke="#1e1e1e" stroke-width="1.2" />
<line x1="263.50" y1="356.33" x2="266.70" y2="356.33" stroke="#1e1e1e" stroke-width="1.2" />
<line x1="424.00" y1="356.33" x2="420.80" y2="356.33" stroke="#1e1e1e" stroke-width="1.2" />
<text x="241.50 247.50" y="361.83" font-size="12.5" text-anchor="middle" fill="#1e1e1e">10</text>
<text x="251.50" y="357.93" font-size="8.5" fill="#1e1e1e">&#8722;1</text>
<line x1="263.50" y1="337.47" x2="265.30" y2="337.47" stroke="#1e1e1e" stroke-width="1.2" />
<line x1="424.00" y1="337.47" x2="422.20" y2="337.47" stroke="#1e1e1e" stroke-width="1.2" />
<line x1="263.50" y1="326.43" x2="265.30" y2="326.43" stroke="#1e1e1e" stroke-width="1.2" />
<line x1="424.00" y1="326.43" x2="422.20" y2="326.43" stroke="#1e1e1e" stroke-width="1.2" />
<line x1="263.50" y1="318.60" x2="265.30" y2="318.60" stroke="#1e1e1e" stroke-width="1.2" />
<line x1="424.00" y1="318.60" x2="422.20" y2="318.60" stroke="#1e1e1e" stroke-width="1.2" />
<line x1="263.50" y1="312.53" x2="265.30" y2="312.53" stroke="#1e1e1e" stroke-width="1.2" />
<line x1="424.00" y1="312.53" x2="422.20" y2="312.53" stroke="#1e1e1e" stroke-width="1.2" />
<line x1="263.50" y1="307.57" x2="265.30" y2="307.57" stroke="#1e1e1e" stroke-width="1.2" />
<line x1="424.00" y1="307.57" x2="422.20" y2="307.57" stroke="#1e1e1e" stroke-width="1.2" />
<line x1="263.50" y1="303.37" x2="265.30" y2="303.37" stroke="#1e1e1e" stroke-width="1.2" />
<line x1="424.00" y1="303.37" x2="422.20" y2="303.37" stroke="#1e1e1e" stroke-width="1.2" />
<line x1="263.50" y1="299.74" x2="265.30" y2="299.74" stroke="#1e1e1e" stroke-width="1.2" />
<line x1="424.00" y1="299.74" x2="422.20" y2="299.74" stroke="#1e1e1e" stroke-width="1.2" />
<line x1="263.50" y1="296.53" x2="265.30" y2="296.53" stroke="#1e1e1e" stroke-width="1.2" />
<line x1="424.00" y1="296.53" x2="422.20" y2="296.53" stroke="#1e1e1e" stroke-width="1.2" />
<line x1="263.50" y1="293.67" x2="266.70" y2="293.67" stroke="#1e1e1e" stroke-width="1.2" />
<line x1="424.00" y1="293.67" x2="420.80" y2="293.67" stroke="#1e1e1e" stroke-width="1.2" />
<text x="245.40 251.40" y="299.17" font-size="12.5" text-anchor="middle" fill="#1e1e1e">10</text>
<text x="255.40" y="295.27" font-size="8.5" fill="#1e1e1e">0</text>
<line x1="263.50" y1="274.80" x2="265.30" y2="274.80" stroke="#1e1e1e" stroke-width="1.2" />
<line x1="424.00" y1="274.80" x2="422.20" y2="274.80" stroke="#1e1e1e" stroke-width="1.2" />
<line x1="263.50" y1="263.77" x2="265.30" y2="263.77" stroke="#1e1e1e" stroke-width="1.2" />
<line x1="424.00" y1="263.77" x2="422.20" y2="263.77" stroke="#1e1e1e" stroke-width="1.2" />
<line x1="263.50" y1="255.94" x2="265.30" y2="255.94" stroke="#1e1e1e" stroke-width="1.2" />
<line x1="424.00" y1="255.94" x2="422.20" y2="255.94" stroke="#1e1e1e" stroke-width="1.2" />
<line x1="263.50" y1="249.86" x2="265.30" y2="249.86" stroke="#1e1e1e" stroke-width="1.2" />
<line x1="424.00" y1="249.86" x2="422.20" y2="249.86" stroke="#1e1e1e" stroke-width="1.2" />
<line x1="263.50" y1="244.90" x2="265.30" y2="244.90" stroke="#1e1e1e" stroke-width="1.2" />
<line x1="424.00" y1="244.90" x2="422.20" y2="244.90" stroke="#1e1e1e" stroke-width="1.2" />
<line x1="263.50" y1="240.71" x2="265.30" y2="240.71" stroke="#1e1e1e" stroke-width="1.2" />
<line x1="424.00" y1="240.71" x2="422.20" y2="240.71" stroke="#1e1e1e" stroke-width="1.2" />
<line x1="263.50" y1="237.07" x2="265.30" y2="237.07" stroke="#1e1e1e" stroke-width="1.2" />
<line x1="424.00" y1="237.07" x2="422.20" y2="237.07" stroke="#1e1e1e" stroke-width="1.2" />
<line x1="263.50" y1="233.87" x2="265.30" y2="233.87" stroke="#1e1e1e" stroke-width="1.2" />
<line x1="424.00" y1="233.87" x2="422.20" y2="233.87" stroke="#1e1e1e" stroke-width="1.2" />
<line x1="263.50" y1="231.00" x2="266.70" y2="231.00" stroke="#1e1e1e" stroke-width="1.2" />
<line x1="424.00" y1="231.00" x2="420.80" y2="231.00" stroke="#1e1e1e" stroke-width="1.2" />
<text x="245.40 251.40" y="236.50" font-size="12.5" text-anchor="middle" fill="#1e1e1e">10</text>
<text x="255.40" y="232.60" font-size="8.5" fill="#1e1e1e">1</text>
<line x1="480.00" y1="419.00" x2="480.00" y2="415.80" stroke="#1e1e1e" stroke-width="1.2" />
<line x1="480.00" y1="231.00" x2="480.00" y2="234.20" stroke="#1e1e1e" stroke-width="1.2" />
<text x="480.00" y="433.00" font-size="12.5" text-anchor="middle" fill="#1e1e1e">0</text>
<line x1="491.50" y1="419.00" x2="491.50" y2="417.20" stroke="#1e1e1e" stroke-width="1.2" />
<line x1="491.50" y1="231.00" x2="491.50" y2="232.80" stroke="#1e1e1e" stroke-width="1.2" />
<line x1="503.00" y1="419.00" x2="503.00" y2="415.80" stroke="#1e1e1e" stroke-width="1.2" />
<line x1="503.00" y1="231.00" x2="503.00" y2="234.20" stroke="#1e1e1e" stroke-width="1.2" />
<text x="499.90 506.10" y="433.00" font-size="12.5" text-anchor="middle" fill="#1e1e1e">20</text>
<line x1="514.50" y1="419.00" x2="514.50" y2="417.20" stroke="#1e1e1e" stroke-width="1.2" />
<line x1="514.50" y1="231.00" x2="514.50" y2="232.80" stroke="#1e1e1e" stroke-width="1.2" />
<line x1="526.00" y1="419.00" x2="526.00" y2="415.80" stroke="#1e1e1e" stroke-width="1.2" />
<line x1="526.00" y1="231.00" x2="526.00" y2="234.20" stroke="#1e1e1e" stroke-width="1.2" />
<text x="522.90 529.10" y="433.00" font-size="12.5" text-anchor="middle" fill="#1e1e1e">40</text>
<line x1="537.50" y1="419.00" x2="537.50" y2="417.20" stroke="#1e1e1e" stroke-width="1.2" />
<line x1="537.50" y1="231.00" x2="537.50" y2="232.80" stroke="#1e1e1e" stroke-width="1.2" />
<line x1="549.00" y1="419.00" x2="549.00" y2="415.80" stroke="#1e1e1e" stroke-width="1.2" />
<line x1="549.00" y1="231.00" x2="549.00" y2="234.20" stroke="#1e1e1e" stroke-width="1.2" />
<text x="545.90 552.10" y="433.00" font-size="12.5" text-anchor="middle" fill="#1e1e1e">60</text>
<line x1="560.50" y1="419.00" x2="560.50" y2="417.20" stroke="#1e1e1e" stroke-width="1.2" />
<line x1="560.50" y1="231.00" x2="560.50" y2="232.80" stroke="#1e1e1e" stroke-width="1.2" />
<line x1="572.00" y1="419.00" x2="572.00" y2="415.80" stroke="#1e1e1e" stroke-width="1.2" />
<line x1="572.00" y1="231.00" x2="572.00" y2="234.20" stroke="#1e1e1e" stroke-width="1.2" />
<text x="568.90 575.10" y="433.00" font-size="12.5" text-anchor="middle" fill="#1e1e1e">80</text>
<line x1="583.50" y1="419.00" x2="583.50" y2="417.20" stroke="#1e1e1e" stroke-width="1.2" />
<line x1="583.50" y1="231.00" x2="583.50" y2="232.80" stroke="#1e1e1e" stroke-width="1.2" />
<line x1="595.00" y1="419.00" x2="595.00" y2="415.80" stroke="#1e1e1e" stroke-width="1.2" />
<line x1="595.00" y1="231.00" x2="595.00" y2="234.20" stroke="#1e1e1e" stroke-width="1.2" />
<text x="588.80 595.00 601.20" y="433.00" font-size="12.5" text-anchor="middle" fill="#1e1e1e">100</text>
<line x1="606.50" y1="419.00" x2="606.50" y2="417.20" stroke="#1e1e1e" stroke-width="1.2" />
<line x1="606.50" y1="231.00" x2="606.50" y2="232.80" stroke="#1e1e1e" stroke-width="1.2" />
<line x1="618.00" y1="419.00" x2="618.00" y2="415.80" stroke="#1e1e1e" stroke-width="1.2" />
<line x1="618.00" y1="231.00" x2="618.00" y2="234.20" stroke="#1e1e1e" stroke-width="1.2" />
<text x="611.80 618.00 624.20" y="433.00" font-size="12.5" text-anchor="middle" fill="#1e1e1e">120</text>
<line x1="629.50" y1="419.00" x2="629.50" y2="417.20" stroke="#1e1e1e" stroke-width="1.2" />
<line x1="629.50" y1="231.00" x2="629.50" y2="232.80" stroke="#1e1e1e" stroke-width="1.2" />
<line x1="641.00" y1="419.00" x2="641.00" y2="415.80" stroke="#1e1e1e" stroke-width="1.2" />
<line x1="641.00" y1="231.00" x2="641.00" y2="234.20" stroke="#1e1e1e" stroke-width="1.2" />
<text x="634.80 641.00 647.20" y="433.00" font-size="12.5" text-anchor="middle" fill="#1e1e1e">140</text>
<line x1="480.00" y1="419.00" x2="483.20" y2="419.00" stroke="#1e1e1e" stroke-width="1.2" />
<line x1="641.00" y1="419.00" x2="637.80" y2="419.00" stroke="#1e1e1e" stroke-width="1.2" />
<text x="458.00 464.00" y="424.50" font-size="12.5" text-anchor="middle" fill="#1e1e1e">10</text>
<text x="468.00" y="420.60" font-size="8.5" fill="#1e1e1e">&#8722;2</text>
<line x1="480.00" y1="400.14" x2="481.80" y2="400.14" stroke="#1e1e1e" stroke-width="1.2" />
<line x1="641.00" y1="400.14" x2="639.20" y2="400.14" stroke="#1e1e1e" stroke-width="1.2" />
<line x1="480.00" y1="389.10" x2="481.80" y2="389.10" stroke="#1e1e1e" stroke-width="1.2" />
<line x1="641.00" y1="389.10" x2="639.20" y2="389.10" stroke="#1e1e1e" stroke-width="1.2" />
<line x1="480.00" y1="381.27" x2="481.80" y2="381.27" stroke="#1e1e1e" stroke-width="1.2" />
<line x1="641.00" y1="381.27" x2="639.20" y2="381.27" stroke="#1e1e1e" stroke-width="1.2" />
<line x1="480.00" y1="375.20" x2="481.80" y2="375.20" stroke="#1e1e1e" stroke-width="1.2" />
<line x1="641.00" y1="375.20" x2="639.20" y2="375.20" stroke="#1e1e1e" stroke-width="1.2" />
<line x1="480.00" y1="370.24" x2="481.80" y2="370.24" stroke="#1e1e1e" stroke-width="1.2" />
<line x1="641.00" y1="370.24" x2="639.20" y2="370.24" stroke="#1e1e1e" stroke-width="1.2" />
<line x1="480.00" y1="366.04" x2="481.80" y2="366.04" stroke="#1e1e1e" stroke-width="1.2" />
<line x1="641.00" y1="366.04" x2="639.20" y2="366.04" stroke="#1e1e1e" stroke-width="1.2" />
<line x1="480.00" y1="362.41" x2="481.80" y2="362.41" stroke="#1e1e1e" stroke-width="1.2" />
<line x1="641.00" y1="362.41" x2="639.20" y2="362.41" stroke="#1e1e1e" stroke-width="1.2" />
<line x1="480.00" y1="359.20" x2="481.80" y2="359.20" stroke="#1e1e1e" stroke-width="1.2" />
<line x1="641.00" y1="359.20" x2="639.20" y2="359.20" stroke="#1e1e1e" stroke-width="1.2" />
<line x1="480.00" y1="356.33" x2="483.20" y2="356.33" stroke="#1e1e1e" stroke-width="1.2" />
<line x1="641.00" y1="356.33" x2="637.80" y2="356.33" stroke="#1e1e1e" stroke-width="1.2" />
<text x="458.00 464.00" y="361.83" font-size="12.5" text-anchor="middle" fill="#1e1e1e">10</text>
<text x="468.00" y="357.93" font-size="8.5" fill="#1e1e1e">&#8722;1</text>
<line x1="480.00" y1="337.47" x2="481.80" y2="337.47" stroke="#1e1e1e" stroke-width="1.2" />
<line x1="641.00" y1="337.47" x2="639.20" y2="337.47" stroke="#1e1e1e" stroke-width="1.2" />
<line x1="480.00" y1="326.43" x2="481.80" y2="326.43" stroke="#1e1e1e" stroke-width="1.2" />
<line x1="641.00" y1="326.43" x2="639.20" y2="326.43" stroke="#1e1e1e" stroke-width="1.2" />
<line x1="480.00" y1="318.60" x2="481.80" y2="318.60" stroke="#1e1e1e" stroke-width="1.2" />
<line x1="641.00" y1="318.60" x2="639.20" y2="318.60" stroke="#1e1e1e" stroke-width="1.2" />
<line x1="480.00" y1="312.53" x2="481.80" y2="312.53" stroke="#1e1e1e" stroke-width="1.2" />
<line x1="641.00" y1="312.53" x2="639.20" y2="312.53" stroke="#1e1e1e" stroke-width="1.2" />
<line x1="480.00" y1="307.57" x2="481.80" y2="307.57" stroke="#1e1e1e" stroke-width="1.2" />
<line x1="641.00" y1="307.57" x2="639.20" y2="307.57" stroke="#1e1e1e" stroke-width="1.2" />
<line x1="480.00" y1="303.37" x2="481.80" y2="303.37" stroke="#1e1e1e" stroke-width="1.2" />
<line x1="641.00" y1="303.37" x2="639.20" y2="303.37" stroke="#1e1e1e" stroke-width="1.2" />
<line x1="480.00" y1="299.74" x2="481.80" y2="299.74" stroke="#1e1e1e" stroke-width="1.2" />
<line x1="641.00" y1="299.74" x2="639.20" y2="299.74" stroke="#1e1e1e" stroke-width="1.2" />
<line x1="480.00" y1="296.53" x2="481.80" y2="296.53" stroke="#1e1e1e" stroke-width="1.2" />
<line x1="641.00" y1="296.53" x2="639.20" y2="296.53" stroke="#1e1e1e" stroke-width="1.2" />
<line x1="480.00" y1="293.67" x2="483.20" y2="293.67" stroke="#1e1e1e" stroke-width="1.2" />
<line x1="641.00" y1="293.67" x2="637.80" y2="293.67" stroke="#1e1e1e" stroke-width="1.2" />
<text x="461.90 467.90" y="299.17" font-size="12.5" text-anchor="middle" fill="#1e1e1e">10</text>
<text x="471.90" y="295.27" font-size="8.5" fill="#1e1e1e">0</text>
<line x1="480.00" y1="274.80" x2="481.80" y2="274.80" stroke="#1e1e1e" stroke-width="1.2" />
<line x1="641.00" y1="274.80" x2="639.20" y2="274.80" stroke="#1e1e1e" stroke-width="1.2" />
<line x1="480.00" y1="263.77" x2="481.80" y2="263.77" stroke="#1e1e1e" stroke-width="1.2" />
<line x1="641.00" y1="263.77" x2="639.20" y2="263.77" stroke="#1e1e1e" stroke-width="1.2" />
<line x1="480.00" y1="255.94" x2="481.80" y2="255.94" stroke="#1e1e1e" stroke-width="1.2" />
<line x1="641.00" y1="255.94" x2="639.20" y2="255.94" stroke="#1e1e1e" stroke-width="1.2" />
<line x1="480.00" y1="249.86" x2="481.80" y2="249.86" stroke="#1e1e1e" stroke-width="1.2" />
<line x1="641.00" y1="249.86" x2="639.20" y2="249.86" stroke="#1e1e1e" stroke-width="1.2" />
<line x1="480.00" y1="244.90" x2="481.80" y2="244.90" stroke="#1e1e1e" stroke-width="1.2" />
<line x1="641.00" y1="244.90" x2="639.20" y2="244.90" stroke="#1e1e1e" stroke-width="1.2" />
<line x1="480.00" y1="240.71" x2="481.80" y2="240.71" stroke="#1e1e1e" stroke-width="1.2" />
<line x1="641.00" y1="240.71" x2="639.20" y2="240.71" stroke="#1e1e1e" stroke-width="1.2" />
<line x1="480.00" y1="237.07" x2="481.80" y2="237.07" stroke="#1e1e1e" stroke-width="1.2" />
<line x1="641.00" y1="237.07" x2="639.20" y2="237.07" stroke="#1e1e1e" stroke-width="1.2" />
<line x1="480.00" y1="233.87" x2="481.80" y2="233.87" stroke="#1e1e1e" stroke-width="1.2" />
<line x1="641.00" y1="233.87" x2="639.20" y2="233.87" stroke="#1e1e1e" stroke-width="1.2" />
<line x1="480.00" y1="231.00" x2="483.20" y2="231.00" stroke="#1e1e1e" stroke-width="1.2" />
<line x1="641.00" y1="231.00" x2="637.80" y2="231.00" stroke="#1e1e1e" stroke-width="1.2" />
<text x="461.90 467.90" y="236.50" font-size="12.5" text-anchor="middle" fill="#1e1e1e">10</text>
<text x="471.90" y="232.60" font-size="8.5" fill="#1e1e1e">1</text>
<path d="M46.50,192.00 C47.30,191.97 49.92,192.20 51.30,191.80 C52.68,191.40 53.50,190.63 54.80,189.60 C56.10,188.57 57.65,187.22 59.10,185.60 C60.55,183.98 62.12,181.87 63.50,179.90 C64.88,177.93 66.33,176.20 67.40,173.80 C68.47,171.40 69.07,168.63 69.90,165.50 C70.73,162.37 71.45,158.32 72.40,155.00 C73.35,151.68 74.35,149.30 75.60,145.60 C76.85,141.90 78.70,136.47 79.90,132.80 C81.10,129.13 81.75,126.98 82.80,123.60 C83.85,120.22 85.12,116.43 86.20,112.50 C87.28,108.57 88.23,103.92 89.30,100.00 C90.37,96.08 91.23,92.02 92.60,89.00 C93.97,85.98 95.95,84.37 97.50,81.90 C99.05,79.43 100.08,76.93 101.90,74.20 C103.72,71.47 106.08,67.90 108.40,65.50 C110.72,63.10 113.17,61.33 115.80,59.80 C118.43,58.27 121.52,57.25 124.20,56.30 C126.88,55.35 129.35,54.65 131.90,54.10 C134.45,53.55 137.13,53.37 139.50,53.00 C141.87,52.63 144.08,52.55 146.10,51.90 C148.12,51.25 150.12,49.92 151.60,49.10 C153.08,48.28 153.73,47.77 155.00,47.00 C156.27,46.23 157.78,45.28 159.20,44.50 C160.62,43.72 161.38,43.08 163.50,42.30 C165.62,41.52 169.08,40.50 171.90,39.80 C174.72,39.10 177.58,38.73 180.40,38.10 C183.22,37.47 186.27,36.57 188.80,36.00 C191.33,35.43 193.48,34.93 195.60,34.70 C197.72,34.47 199.52,34.58 201.50,34.60 C203.48,34.62 206.50,34.77 207.50,34.80" fill="none" stroke="#e8302f" stroke-width="1.6" stroke-linejoin="round" clip-path="url(#c00)"/>
<path d="M46.50,192.00 C47.30,191.97 49.92,192.20 51.30,191.80 C52.68,191.40 53.50,190.63 54.80,189.60 C56.10,188.57 57.65,187.22 59.10,185.60 C60.55,183.98 62.33,181.78 63.50,179.90 C64.67,178.02 65.37,176.27 66.10,174.30 C66.83,172.33 67.32,170.23 67.90,168.10 C68.48,165.97 69.02,163.68 69.60,161.50 C70.18,159.32 70.73,157.82 71.40,155.00 C72.07,152.18 72.58,148.30 73.60,144.60 C74.62,140.90 76.20,136.30 77.50,132.80 C78.80,129.30 80.20,126.88 81.40,123.60 C82.60,120.32 83.65,116.87 84.70,113.10 C85.75,109.33 86.38,105.02 87.70,101.00 C89.02,96.98 90.78,92.18 92.60,89.00 C94.42,85.82 96.50,84.18 98.60,81.90 C100.70,79.62 103.30,77.20 105.20,75.30 C107.10,73.40 108.10,72.08 110.00,70.50 C111.90,68.92 114.23,67.27 116.60,65.80 C118.97,64.33 121.65,62.78 124.20,61.70 C126.75,60.62 129.35,59.93 131.90,59.30 C134.45,58.67 137.32,58.32 139.50,57.90 C141.68,57.48 143.17,57.43 145.00,56.80 C146.83,56.17 148.83,55.17 150.50,54.10 C152.17,53.03 153.55,51.55 155.00,50.40 C156.45,49.25 157.78,48.18 159.20,47.20 C160.62,46.22 161.38,45.45 163.50,44.50 C165.62,43.55 169.08,42.35 171.90,41.50 C174.72,40.65 177.58,40.18 180.40,39.40 C183.22,38.62 186.27,37.50 188.80,36.80 C191.33,36.10 193.48,35.52 195.60,35.20 C197.72,34.88 199.52,34.95 201.50,34.90 C203.48,34.85 206.50,34.90 207.50,34.90" fill="none" stroke="#2f5fbd" stroke-width="1.6" stroke-linejoin="round" clip-path="url(#c00)"/>
<path d="M263.50,192.00 C263.67,192.00 263.38,192.17 264.50,192.00 C265.62,191.83 268.03,191.63 270.20,191.00 C272.37,190.37 275.48,189.67 277.50,188.20 C279.52,186.73 280.97,184.57 282.30,182.20 C283.63,179.83 284.55,176.70 285.50,174.00 C286.45,171.30 286.83,169.00 288.00,166.00 C289.17,163.00 290.77,159.58 292.50,156.00 C294.23,152.42 296.65,149.33 298.40,144.50 C300.15,139.67 301.45,132.40 303.00,127.00 C304.55,121.60 305.98,115.83 307.70,112.10 C309.42,108.37 311.45,107.70 313.30,104.60 C315.15,101.50 317.10,97.68 318.80,93.50 C320.50,89.32 321.78,83.68 323.50,79.50 C325.22,75.32 327.05,72.00 329.10,68.40 C331.15,64.80 333.45,60.50 335.80,57.90 C338.15,55.30 340.52,54.13 343.20,52.80 C345.88,51.47 348.98,50.88 351.90,49.90 C354.82,48.92 357.77,48.13 360.70,46.90 C363.63,45.67 366.82,43.77 369.50,42.50 C372.18,41.23 374.12,40.15 376.80,39.30 C379.48,38.45 382.68,38.08 385.60,37.40 C388.52,36.72 391.63,35.68 394.30,35.20 C396.97,34.72 396.65,34.57 401.60,34.50 C406.55,34.43 420.27,34.75 424.00,34.80" fill="none" stroke="#e8302f" stroke-width="1.6" stroke-linejoin="round" clip-path="url(#c10)"/>
<path d="M263.50,192.00 C263.67,192.00 263.38,192.23 264.50,192.00 C265.62,191.77 268.23,191.43 270.20,190.60 C272.17,189.77 274.48,188.40 276.30,187.00 C278.12,185.60 279.70,184.22 281.10,182.20 C282.50,180.18 283.50,177.72 284.70,174.90 C285.90,172.08 287.10,168.70 288.30,165.30 C289.50,161.90 290.57,157.97 291.90,154.50 C293.23,151.03 294.75,148.17 296.30,144.50 C297.85,140.83 299.62,136.35 301.20,132.50 C302.78,128.65 304.25,124.80 305.80,121.40 C307.35,118.00 308.80,115.20 310.50,112.10 C312.20,109.00 314.15,106.22 316.00,102.80 C317.85,99.38 319.73,95.63 321.60,91.60 C323.47,87.57 325.33,82.32 327.20,78.60 C329.07,74.88 331.33,71.73 332.80,69.30 C334.27,66.87 334.80,65.47 336.00,64.00 C337.20,62.53 338.57,61.63 340.00,60.50 C341.43,59.37 342.37,58.25 344.60,57.20 C346.83,56.15 350.47,55.42 353.40,54.20 C356.33,52.98 359.28,51.48 362.20,49.90 C365.12,48.32 368.23,46.17 370.90,44.70 C373.57,43.23 375.52,42.07 378.20,41.10 C380.88,40.13 384.32,39.68 387.00,38.90 C389.68,38.12 391.62,37.08 394.30,36.40 C396.98,35.72 398.15,35.07 403.10,34.80 C408.05,34.53 420.52,34.80 424.00,34.80" fill="none" stroke="#2f5fbd" stroke-width="1.6" stroke-linejoin="round" clip-path="url(#c10)"/>
<path d="M480.00,191.60 L496.00,191.40 L500.40,190.80 L505.20,187.20 L510.80,181.60 L515.60,174.40 L518.80,170.00 L527.50,156.50 L528.12,153.00 L529.26,153.00 L529.88,149.50 L531.02,149.50 L531.64,146.00 L532.78,146.00 L533.40,142.50 L534.54,142.50 L535.16,139.00 L536.30,139.00 L536.30,139.00 L536.68,135.95 L537.38,135.95 L537.75,132.90 L538.45,132.90 L538.83,129.85 L539.52,129.85 L539.90,126.80 L540.60,126.80 L540.60,126.80 L541.37,123.30 L542.80,123.30 L543.57,119.80 L545.00,119.80 L545.00,119.80 L545.45,116.30 L546.30,116.30 L546.75,112.80 L547.60,112.80 L547.60,112.80 L548.23,109.30 L549.40,109.30 L550.03,105.80 L551.20,105.80 L551.20,105.80 L551.50,101.40 L552.05,101.40 L552.35,97.00 L552.90,97.00 L552.90,97.00 L553.51,94.00 L554.65,94.00 L555.26,91.00 L556.40,91.00 L556.40,91.00 L557.05,86.75 L558.25,86.75 L558.90,82.50 L560.10,82.50 L560.10,82.50 L560.52,79.50 L561.30,79.50 L561.72,76.50 L562.50,76.50 L562.50,76.50 L563.13,73.50 L564.30,73.50 L564.93,70.50 L566.10,70.50 L566.10,70.50 L567.19,65.00 L569.20,65.00 L569.20,65.00 L569.43,61.65 L569.85,61.65 L570.08,58.30 L570.50,58.30 L570.50,58.30 L571.13,53.00 L572.30,53.00 L572.30,53.00 L573.03,49.50 L574.40,49.50 L574.40,49.50 L583.60,49.50 L585.00,43.40 L586.30,41.60 L588.00,39.00 L590.20,37.30 L591.10,33.80 L592.00,30.40 L641.00,30.40" fill="none" stroke="#e8302f" stroke-width="1.5" stroke-linejoin="round" clip-path="url(#c20)"/>
<path d="M480.00,191.60 L495.00,191.20 L498.80,189.60 L506.80,182.80 L512.40,173.60 L517.00,165.30 L525.80,157.40 L534.50,152.20 L541.50,146.00 L550.30,140.80 L555.50,132.00 L559.00,123.30 L562.50,112.80 L566.00,107.50 L571.30,104.00 L577.40,99.60 L580.50,95.70 L641.00,95.70" fill="none" stroke="#e8302f" stroke-width="1.5" stroke-linejoin="round" stroke-dasharray="4.5,3" clip-path="url(#c20)"/>
<path d="M480.00,191.60 L499.60,191.20 L506.00,188.40 L512.40,184.00 L518.00,179.20 L522.80,174.40 L526.60,170.00 L535.40,147.80 L543.30,132.00 L544.68,127.65 L547.25,127.65 L548.63,123.30 L551.20,123.30 L551.20,123.30 L551.95,118.90 L553.35,118.90 L554.10,114.50 L555.50,114.50 L555.50,114.50 L556.73,110.10 L559.00,110.10 L559.00,110.10 L562.50,110.10 L563.11,107.05 L564.25,107.05 L564.86,104.00 L566.00,104.00 L566.00,104.00 L566.63,100.50 L567.80,100.50 L567.80,100.50 L569.62,97.90 L573.00,97.90 L573.00,97.90 L574.54,95.30 L577.40,95.30 L577.40,95.30 L578.31,92.60 L580.00,92.60 L580.00,92.60 L591.30,92.60 L593.70,89.70 L641.00,89.70" fill="none" stroke="#2f5fbd" stroke-width="1.5" stroke-linejoin="round" clip-path="url(#c20)"/>
<path d="M480.00,191.60 L497.00,191.20 L499.70,189.50 L501.20,188.00 L508.70,182.40 L517.80,175.80 L526.00,169.30 L532.50,163.50 L540.80,157.80 L549.00,152.80 L560.00,145.90 L567.50,140.40 L575.10,135.60 L641.00,135.60" fill="none" stroke="#2f5fbd" stroke-width="1.5" stroke-linejoin="round" stroke-dasharray="4.5,3" clip-path="url(#c20)"/>
<path d="M62.00,358.00 L68.00,354.00 L74.00,352.00 L80.00,355.00 L86.00,357.00 L92.00,354.00 L97.00,356.00 L101.00,361.00 L105.00,366.00 L111.60,370.00 L118.20,369.00 L122.60,366.00 L127.00,370.00 L132.40,376.00 L137.90,382.30 L142.30,386.60 L146.00,389.00 L148.00,396.00 L149.50,408.00 L149.50,419.00 L71.00,419.00 L67.50,404.20 L65.40,386.60 L64.30,371.30Z" fill="#4472c4" clip-path="url(#c01)"/>
<path d="M62.0,354.6 62.9,356.9 65.3,357.0 63.4,358.5 64.0,360.8 62.0,359.5 60.0,360.8 60.6,358.5 58.8,357.0 61.2,356.9ZM65.9,353.9 66.8,356.2 69.1,356.3 67.3,357.8 67.9,360.1 65.9,358.8 63.9,360.1 64.5,357.8 62.7,356.3 65.0,356.2ZM67.8,350.1 68.7,352.3 71.1,352.4 69.2,353.9 69.8,356.2 67.8,354.9 65.8,356.2 66.4,353.9 64.6,352.4 67.0,352.3ZM71.0,349.5 71.8,351.7 74.2,351.8 72.3,353.3 73.0,355.6 71.0,354.3 69.0,355.6 69.6,353.3 67.7,351.8 70.1,351.7ZM73.6,349.3 74.5,351.6 76.9,351.7 75.0,353.2 75.6,355.5 73.6,354.2 71.6,355.5 72.2,353.2 70.4,351.7 72.8,351.6ZM76.6,350.9 77.5,353.1 79.8,353.2 78.0,354.7 78.6,357.0 76.6,355.7 74.6,357.0 75.2,354.7 73.4,353.2 75.8,353.1ZM79.4,353.3 80.3,355.5 82.7,355.6 80.8,357.1 81.4,359.4 79.4,358.1 77.4,359.4 78.1,357.1 76.2,355.6 78.6,355.5ZM82.5,354.2 83.3,356.4 85.7,356.6 83.8,358.1 84.5,360.4 82.5,359.1 80.5,360.4 81.1,358.1 79.2,356.6 81.6,356.4ZM85.9,353.3 86.7,355.5 89.1,355.7 87.2,357.2 87.9,359.5 85.9,358.2 83.9,359.5 84.5,357.2 82.6,355.7 85.0,355.5ZM89.8,353.7 90.7,355.9 93.0,356.1 91.2,357.6 91.8,359.9 89.8,358.6 87.8,359.9 88.4,357.6 86.6,356.1 89.0,355.9ZM91.4,352.2 92.2,354.4 94.6,354.5 92.7,356.0 93.4,358.3 91.4,357.0 89.4,358.3 90.0,356.0 88.1,354.5 90.5,354.4ZM96.7,352.9 97.5,355.1 99.9,355.2 98.1,356.7 98.7,359.0 96.7,357.7 94.7,359.0 95.3,356.7 93.4,355.2 95.8,355.1ZM98.6,355.4 99.4,357.7 101.8,357.8 100.0,359.3 100.6,361.6 98.6,360.3 96.6,361.6 97.2,359.3 95.3,357.8 97.7,357.7ZM100.1,358.3 101.0,360.5 103.3,360.7 101.5,362.2 102.1,364.5 100.1,363.2 98.1,364.5 98.7,362.2 96.9,360.7 99.2,360.5ZM102.9,360.2 103.8,362.4 106.1,362.5 104.3,364.0 104.9,366.3 102.9,365.0 100.9,366.3 101.5,364.0 99.7,362.5 102.0,362.4ZM104.4,363.5 105.3,365.8 107.7,365.9 105.8,367.4 106.4,369.7 104.4,368.4 102.4,369.7 103.1,367.4 101.2,365.9 103.6,365.8ZM108.2,364.7 109.1,366.9 111.5,367.1 109.6,368.6 110.2,370.9 108.2,369.6 106.2,370.9 106.9,368.6 105.0,367.1 107.4,366.9ZM111.8,368.1 112.7,370.4 115.1,370.5 113.2,372.0 113.8,374.3 111.8,373.0 109.8,374.3 110.5,372.0 108.6,370.5 111.0,370.4ZM114.9,366.3 115.8,368.5 118.2,368.7 116.3,370.2 116.9,372.5 114.9,371.2 112.9,372.5 113.6,370.2 111.7,368.7 114.1,368.5ZM119.1,367.0 120.0,369.2 122.4,369.3 120.5,370.8 121.1,373.1 119.1,371.8 117.1,373.1 117.8,370.8 115.9,369.3 118.3,369.2ZM122.0,363.3 122.8,365.5 125.2,365.6 123.4,367.1 124.0,369.4 122.0,368.1 120.0,369.4 120.6,367.1 118.8,365.6 121.1,365.5ZM125.1,364.3 125.9,366.5 128.3,366.6 126.5,368.1 127.1,370.4 125.1,369.1 123.1,370.4 123.7,368.1 121.9,366.6 124.2,366.5ZM127.4,366.2 128.3,368.4 130.7,368.6 128.8,370.1 129.4,372.4 127.4,371.1 125.4,372.4 126.0,370.1 124.2,368.6 126.6,368.4ZM128.5,370.7 129.3,372.9 131.7,373.1 129.8,374.6 130.5,376.9 128.5,375.6 126.5,376.9 127.1,374.6 125.2,373.1 127.6,372.9ZM131.0,373.8 131.8,376.1 134.2,376.2 132.4,377.7 133.0,380.0 131.0,378.7 129.0,380.0 129.6,377.7 127.7,376.2 130.1,376.1ZM133.8,377.0 134.6,379.2 137.0,379.3 135.1,380.8 135.8,383.1 133.8,381.8 131.8,383.1 132.4,380.8 130.5,379.3 132.9,379.2ZM137.1,379.7 137.9,382.0 140.3,382.1 138.5,383.6 139.1,385.9 137.1,384.6 135.1,385.9 135.7,383.6 133.9,382.1 136.2,382.0ZM138.8,382.3 139.7,384.6 142.1,384.7 140.2,386.2 140.8,388.5 138.8,387.2 136.8,388.5 137.5,386.2 135.6,384.7 138.0,384.6ZM142.1,383.5 142.9,385.7 145.3,385.9 143.5,387.4 144.1,389.7 142.1,388.4 140.1,389.7 140.7,387.4 138.9,385.9 141.2,385.7ZM144.4,386.0 145.3,388.3 147.7,388.4 145.8,389.9 146.4,392.2 144.4,390.9 142.4,392.2 143.1,389.9 141.2,388.4 143.6,388.3ZM145.4,389.6 146.2,391.8 148.6,391.9 146.8,393.4 147.4,395.7 145.4,394.4 143.4,395.7 144.0,393.4 142.2,391.9 144.5,391.8ZM148.2,392.6 149.1,394.8 151.5,394.9 149.6,396.4 150.2,398.7 148.2,397.4 146.2,398.7 146.8,396.4 145.0,394.9 147.4,394.8ZM146.4,395.8 147.3,398.1 149.6,398.2 147.8,399.7 148.4,402.0 146.4,400.7 144.4,402.0 145.0,399.7 143.2,398.2 145.5,398.1ZM148.2,398.7 149.0,400.9 151.4,401.0 149.5,402.5 150.2,404.8 148.2,403.5 146.2,404.8 146.8,402.5 144.9,401.0 147.3,400.9ZM149.6,401.5 150.5,403.8 152.8,403.9 151.0,405.4 151.6,407.7 149.6,406.4 147.6,407.7 148.2,405.4 146.4,403.9 148.7,403.8ZM148.8,404.6 149.7,406.8 152.0,406.9 150.2,408.4 150.8,410.8 148.8,409.4 146.8,410.8 147.4,408.4 145.6,406.9 148.0,406.8ZM149.5,408.3 150.4,410.5 152.8,410.6 150.9,412.1 151.5,414.4 149.5,413.1 147.5,414.4 148.2,412.1 146.3,410.6 148.7,410.5ZM150.1,411.9 150.9,414.2 153.3,414.3 151.4,415.8 152.1,418.1 150.1,416.8 148.1,418.1 148.7,415.8 146.8,414.3 149.2,414.2ZM149.5,413.8 150.4,416.0 152.7,416.1 150.9,417.6 151.5,419.9 149.5,418.6 147.5,419.9 148.1,417.6 146.3,416.1 148.6,416.0ZM146.7,414.9 147.5,417.2 149.9,417.3 148.1,418.8 148.7,421.1 146.7,419.8 144.7,421.1 145.3,418.8 143.5,417.3 145.8,417.2ZM143.9,414.8 144.7,417.0 147.1,417.2 145.3,418.7 145.9,421.0 143.9,419.7 141.9,421.0 142.5,418.7 140.7,417.2 143.0,417.0ZM141.1,413.8 141.9,416.0 144.3,416.1 142.5,417.6 143.1,419.9 141.1,418.6 139.1,419.9 139.7,417.6 137.9,416.1 140.2,416.0ZM138.3,416.2 139.1,418.4 141.5,418.5 139.7,420.0 140.3,422.3 138.3,421.0 136.3,422.3 136.9,420.0 135.1,418.5 137.4,418.4ZM135.5,415.8 136.3,418.0 138.7,418.2 136.9,419.7 137.5,422.0 135.5,420.7 133.5,422.0 134.1,419.7 132.2,418.2 134.6,418.0ZM132.7,414.5 133.5,416.7 135.9,416.9 134.1,418.4 134.7,420.7 132.7,419.4 130.7,420.7 131.3,418.4 129.4,416.9 131.8,416.7ZM129.9,414.2 130.7,416.4 133.1,416.5 131.3,418.0 131.9,420.3 129.9,419.0 127.9,420.3 128.5,418.0 126.6,416.5 129.0,416.4ZM127.1,414.8 127.9,417.0 130.3,417.2 128.5,418.7 129.1,421.0 127.1,419.7 125.1,421.0 125.7,418.7 123.8,417.2 126.2,417.0ZM124.3,415.0 125.1,417.2 127.5,417.3 125.6,418.8 126.3,421.1 124.3,419.8 122.3,421.1 122.9,418.8 121.0,417.3 123.4,417.2ZM121.5,415.2 122.3,417.4 124.7,417.6 122.8,419.1 123.5,421.4 121.5,420.1 119.5,421.4 120.1,419.1 118.2,417.6 120.6,417.4ZM118.7,416.1 119.5,418.3 121.9,418.4 120.0,419.9 120.7,422.2 118.7,420.9 116.7,422.2 117.3,419.9 115.4,418.4 117.8,418.3ZM115.9,416.0 116.7,418.2 119.1,418.4 117.2,419.9 117.9,422.2 115.9,420.9 113.9,422.2 114.5,419.9 112.6,418.4 115.0,418.2ZM113.1,413.6 113.9,415.8 116.3,416.0 114.4,417.5 115.1,419.8 113.1,418.5 111.1,419.8 111.7,417.5 109.8,416.0 112.2,415.8ZM110.2,413.9 111.1,416.2 113.5,416.3 111.6,417.8 112.2,420.1 110.2,418.8 108.3,420.1 108.9,417.8 107.0,416.3 109.4,416.2ZM107.4,413.7 108.3,415.9 110.7,416.0 108.8,417.5 109.4,419.8 107.4,418.5 105.4,419.8 106.1,417.5 104.2,416.0 106.6,415.9ZM104.6,416.1 105.5,418.3 107.9,418.5 106.0,420.0 106.6,422.3 104.6,421.0 102.6,422.3 103.3,420.0 101.4,418.5 103.8,418.3ZM101.8,415.2 102.7,417.4 105.1,417.5 103.2,419.0 103.8,421.3 101.8,420.0 99.8,421.3 100.5,419.0 98.6,417.5 101.0,417.4ZM99.0,414.0 99.9,416.2 102.3,416.3 100.4,417.8 101.0,420.1 99.0,418.8 97.0,420.1 97.7,417.8 95.8,416.3 98.2,416.2ZM96.2,414.0 97.1,416.3 99.5,416.4 97.6,417.9 98.2,420.2 96.2,418.9 94.2,420.2 94.9,417.9 93.0,416.4 95.4,416.3ZM93.4,414.6 94.3,416.8 96.7,416.9 94.8,418.4 95.4,420.7 93.4,419.4 91.4,420.7 92.0,418.4 90.2,416.9 92.6,416.8ZM90.6,415.0 91.5,417.2 93.9,417.3 92.0,418.8 92.6,421.1 90.6,419.8 88.6,421.1 89.2,418.8 87.4,417.3 89.8,417.2ZM87.8,415.7 88.7,417.9 91.1,418.0 89.2,419.5 89.8,421.8 87.8,420.5 85.8,421.8 86.4,419.5 84.6,418.0 87.0,417.9ZM85.0,415.0 85.9,417.2 88.3,417.3 86.4,418.8 87.0,421.1 85.0,419.8 83.0,421.1 83.6,418.8 81.8,417.3 84.2,417.2ZM82.2,416.0 83.1,418.2 85.4,418.3 83.6,419.8 84.2,422.1 82.2,420.8 80.2,422.1 80.8,419.8 79.0,418.3 81.4,418.2ZM79.4,414.2 80.3,416.4 82.6,416.6 80.8,418.1 81.4,420.4 79.4,419.1 77.4,420.4 78.0,418.1 76.2,416.6 78.6,416.4ZM76.6,414.3 77.5,416.6 79.8,416.7 78.0,418.2 78.6,420.5 76.6,419.2 74.6,420.5 75.2,418.2 73.4,416.7 75.8,416.6ZM73.8,415.4 74.7,417.6 77.0,417.8 75.2,419.3 75.8,421.6 73.8,420.3 71.8,421.6 72.4,419.3 70.6,417.8 73.0,417.6ZM71.9,415.4 72.8,417.6 75.2,417.7 73.3,419.2 73.9,421.5 71.9,420.2 69.9,421.5 70.6,419.2 68.7,417.7 71.1,417.6ZM70.1,412.7 70.9,414.9 73.3,415.0 71.5,416.5 72.1,418.8 70.1,417.5 68.1,418.8 68.7,416.5 66.8,415.0 69.2,414.9ZM71.5,409.2 72.3,411.5 74.7,411.6 72.9,413.1 73.5,415.4 71.5,414.1 69.5,415.4 70.1,413.1 68.2,411.6 70.6,411.5ZM70.7,406.3 71.6,408.5 74.0,408.6 72.1,410.1 72.7,412.4 70.7,411.1 68.7,412.4 69.4,410.1 67.5,408.6 69.9,408.5ZM69.2,403.5 70.1,405.8 72.4,405.9 70.6,407.4 71.2,409.7 69.2,408.4 67.2,409.7 67.8,407.4 66.0,405.9 68.3,405.8ZM68.3,400.7 69.1,402.9 71.5,403.1 69.7,404.6 70.3,406.9 68.3,405.6 66.3,406.9 66.9,404.6 65.1,403.1 67.4,402.9ZM68.8,397.7 69.6,399.9 72.0,400.0 70.2,401.5 70.8,403.8 68.8,402.5 66.8,403.8 67.4,401.5 65.6,400.0 67.9,399.9ZM68.6,394.7 69.5,396.9 71.9,397.1 70.0,398.6 70.6,400.9 68.6,399.6 66.6,400.9 67.2,398.6 65.4,397.1 67.8,396.9ZM67.5,391.9 68.3,394.1 70.7,394.2 68.8,395.7 69.5,398.0 67.5,396.7 65.5,398.0 66.1,395.7 64.2,394.2 66.6,394.1ZM67.3,388.9 68.2,391.1 70.6,391.3 68.7,392.8 69.3,395.1 67.3,393.8 65.3,395.1 66.0,392.8 64.1,391.3 66.5,391.1ZM65.6,386.1 66.5,388.4 68.9,388.5 67.0,390.0 67.6,392.3 65.6,391.0 63.6,392.3 64.3,390.0 62.4,388.5 64.8,388.4ZM65.6,383.2 66.5,385.4 68.9,385.5 67.0,387.0 67.6,389.3 65.6,388.0 63.6,389.3 64.2,387.0 62.4,385.5 64.8,385.4ZM65.3,380.1 66.2,382.4 68.6,382.5 66.7,384.0 67.3,386.3 65.3,385.0 63.3,386.3 64.0,384.0 62.1,382.5 64.5,382.4ZM65.7,377.0 66.5,379.3 68.9,379.4 67.1,380.9 67.7,383.2 65.7,381.9 63.7,383.2 64.3,380.9 62.5,379.4 64.8,379.3ZM64.5,374.0 65.4,376.3 67.8,376.4 65.9,377.9 66.5,380.2 64.5,378.9 62.5,380.2 63.1,377.9 61.3,376.4 63.7,376.3ZM64.2,371.0 65.0,373.2 67.4,373.3 65.5,374.8 66.2,377.1 64.2,375.8 62.2,377.1 62.8,374.8 60.9,373.3 63.3,373.2ZM65.5,367.7 66.3,369.9 68.7,370.0 66.9,371.5 67.5,373.8 65.5,372.5 63.5,373.8 64.1,371.5 62.2,370.0 64.6,369.9ZM64.7,364.4 65.6,366.6 68.0,366.8 66.1,368.2 66.7,370.6 64.7,369.3 62.7,370.6 63.3,368.2 61.5,366.8 63.9,366.6ZM65.0,360.9 65.9,363.2 68.2,363.3 66.4,364.8 67.0,367.1 65.0,365.8 63.0,367.1 63.6,364.8 61.8,363.3 64.2,363.2ZM62.9,357.9 63.7,360.1 66.1,360.2 64.3,361.7 64.9,364.0 62.9,362.7 60.9,364.0 61.5,361.7 59.7,360.2 62.0,360.1Z" fill="#4472c4" clip-path="url(#c01)"/>
<path d="M63.1,353.7 64.0,355.9 66.4,356.0 64.5,357.5 65.1,359.8 63.1,358.5 61.1,359.8 61.8,357.5 59.9,356.0 62.3,355.9Z" fill="#ee2828" clip-path="url(#c01)"/>
<path d="M76.9,346.0 77.7,348.2 80.1,348.3 78.3,349.8 78.9,352.1 76.9,350.8 74.9,352.1 75.5,349.8 73.6,348.3 76.0,348.2ZM72.5,334.1 73.3,336.3 75.7,336.4 73.9,337.9 74.5,340.2 72.5,338.9 70.5,340.2 71.1,337.9 69.3,336.4 71.6,336.3ZM86.4,344.2 87.2,346.5 89.6,346.6 87.8,348.1 88.4,350.4 86.4,349.1 84.4,350.4 85.0,348.1 83.2,346.6 85.5,346.5ZM85.1,330.1 86.0,332.3 88.3,332.5 86.5,334.0 87.1,336.3 85.1,335.0 83.1,336.3 83.7,334.0 81.9,332.5 84.2,332.3ZM86.2,336.0 87.1,338.3 89.5,338.4 87.6,339.9 88.2,342.2 86.2,340.9 84.2,342.2 84.8,339.9 83.0,338.4 85.4,338.3Z" fill="#4472c4" clip-path="url(#c01)"/>
<path d="M74.6,329.8 75.5,332.0 77.9,332.1 76.0,333.6 76.6,335.9 74.6,334.6 72.6,335.9 73.2,333.6 71.4,332.1 73.8,332.0ZM82.2,340.4 83.1,342.6 85.5,342.7 83.6,344.2 84.2,346.5 82.2,345.2 80.2,346.5 80.8,344.2 79.0,342.7 81.4,342.6Z" fill="#ee2828" clip-path="url(#c01)"/>
<path d="M58.7,354.0 59.5,356.2 61.9,356.3 60.1,357.8 60.7,360.1 58.7,358.8 56.7,360.1 57.3,357.8 55.4,356.3 57.8,356.2ZM83.3,330.7 84.2,332.9 86.6,333.0 84.7,334.5 85.3,336.8 83.3,335.5 81.3,336.8 82.0,334.5 80.1,333.0 82.5,332.9ZM91.9,338.0 92.7,340.2 95.1,340.4 93.3,341.9 93.9,344.2 91.9,342.9 89.9,344.2 90.5,341.9 88.7,340.4 91.0,340.2ZM57.3,348.1 58.2,350.3 60.6,350.5 58.7,352.0 59.3,354.3 57.3,353.0 55.3,354.3 56.0,352.0 54.1,350.5 56.5,350.3Z" fill="#4472c4" clip-path="url(#c01)"/>
<path d="M99.0,346.2 99.8,348.4 102.2,348.5 100.3,350.0 101.0,352.3 99.0,351.0 97.0,352.3 97.6,350.0 95.7,348.5 98.1,348.4ZM65.8,338.8 66.6,341.1 69.0,341.2 67.2,342.7 67.8,345.0 65.8,343.7 63.8,345.0 64.4,342.7 62.5,341.2 64.9,341.1Z" fill="#ee2828" clip-path="url(#c01)"/>
<path d="M72.0,347.0 72.8,349.2 75.2,349.3 73.4,350.8 74.0,353.1 72.0,351.8 70.0,353.1 70.6,350.8 68.7,349.3 71.1,349.2ZM72.0,341.5 72.8,343.7 75.2,343.8 73.4,345.3 74.0,347.6 72.0,346.3 70.0,347.6 70.6,345.3 68.8,343.8 71.1,343.7ZM92.2,338.9 93.0,341.2 95.4,341.3 93.6,342.8 94.2,345.1 92.2,343.8 90.2,345.1 90.8,342.8 89.0,341.3 91.3,341.2ZM80.2,331.1 81.1,333.3 83.4,333.5 81.6,335.0 82.2,337.3 80.2,336.0 78.2,337.3 78.8,335.0 77.0,333.5 79.3,333.3Z" fill="#4472c4" clip-path="url(#c01)"/>
<path d="M71.1,345.3 72.0,347.6 74.4,347.7 72.5,349.2 73.1,351.5 71.1,350.2 69.1,351.5 69.8,349.2 67.9,347.7 70.3,347.6ZM76.2,332.1 77.1,334.3 79.4,334.4 77.6,335.9 78.2,338.2 76.2,336.9 74.2,338.2 74.8,335.9 73.0,334.4 75.4,334.3ZM63.4,354.3 64.2,356.5 66.6,356.6 64.8,358.1 65.4,360.4 63.4,359.1 61.4,360.4 62.0,358.1 60.1,356.6 62.5,356.5ZM89.9,336.2 90.8,338.4 93.1,338.5 91.3,340.0 91.9,342.3 89.9,341.0 87.9,342.3 88.5,340.0 86.7,338.5 89.1,338.4Z" fill="#ee2828" clip-path="url(#c01)"/>
<path d="M64.3,348.8 65.2,351.0 67.6,351.2 65.7,352.7 66.3,355.0 64.3,353.7 62.3,355.0 62.9,352.7 61.1,351.2 63.5,351.0ZM90.6,351.4 91.5,353.6 93.9,353.7 92.0,355.2 92.6,357.5 90.6,356.2 88.6,357.5 89.3,355.2 87.4,353.7 89.8,353.6Z" fill="#4472c4" clip-path="url(#c01)"/>
<path d="M68.8,352.7 69.7,354.9 72.1,355.0 70.2,356.5 70.8,358.8 68.8,357.5 66.8,358.8 67.4,356.5 65.6,355.0 68.0,354.9ZM87.0,332.2 87.9,334.5 90.2,334.6 88.4,336.1 89.0,338.4 87.0,337.1 85.0,338.4 85.6,336.1 83.8,334.6 86.2,334.5Z" fill="#ee2828" clip-path="url(#c01)"/>
<path d="M66.1,341.9 67.0,344.2 69.3,344.3 67.5,345.8 68.1,348.1 66.1,346.8 64.1,348.1 64.7,345.8 62.9,344.3 65.2,344.2ZM83.6,333.7 84.4,336.0 86.8,336.1 85.0,337.6 85.6,339.9 83.6,338.6 81.6,339.9 82.2,337.6 80.4,336.1 82.7,336.0ZM97.5,341.6 98.4,343.8 100.8,343.9 98.9,345.4 99.5,347.7 97.5,346.4 95.5,347.7 96.2,345.4 94.3,343.9 96.7,343.8ZM67.2,346.8 68.1,349.0 70.5,349.1 68.6,350.6 69.2,352.9 67.2,351.6 65.2,352.9 65.8,350.6 64.0,349.1 66.4,349.0Z" fill="#4472c4" clip-path="url(#c01)"/>
<path d="M90.7,343.6 91.6,345.8 94.0,345.9 92.1,347.4 92.7,349.7 90.7,348.4 88.7,349.7 89.3,347.4 87.5,345.9 89.9,345.8Z" fill="#ee2828" clip-path="url(#c01)"/>
<path d="M61.8,353.1 62.6,355.3 65.0,355.4 63.2,356.9 63.8,359.2 61.8,357.9 59.8,359.2 60.4,356.9 58.6,355.4 60.9,355.3ZM66.6,339.1 67.5,341.3 69.8,341.4 68.0,342.9 68.6,345.2 66.6,343.9 64.6,345.2 65.2,342.9 63.4,341.4 65.8,341.3ZM80.6,345.0 81.5,347.2 83.9,347.3 82.0,348.8 82.6,351.1 80.6,349.8 78.6,351.1 79.3,348.8 77.4,347.3 79.8,347.2ZM98.3,349.2 99.2,351.4 101.6,351.5 99.7,353.0 100.3,355.3 98.3,354.0 96.3,355.3 96.9,353.0 95.1,351.5 97.5,351.4ZM72.2,348.4 73.1,350.6 75.4,350.8 73.6,352.3 74.2,354.6 72.2,353.3 70.2,354.6 70.8,352.3 69.0,350.8 71.4,350.6Z" fill="#4472c4" clip-path="url(#c01)"/>
<path d="M56.8,347.6 57.6,349.8 60.0,350.0 58.1,351.5 58.8,353.8 56.8,352.5 54.8,353.8 55.4,351.5 53.5,350.0 55.9,349.8ZM96.1,342.2 96.9,344.4 99.3,344.5 97.4,346.0 98.1,348.3 96.1,347.0 94.1,348.3 94.7,346.0 92.8,344.5 95.2,344.4Z" fill="#4472c4" clip-path="url(#c01)"/>
<path d="M132.3,395.3 132.9,396.2 133.9,396.4 133.2,397.2 133.3,398.2 132.3,397.8 131.4,398.2 131.5,397.2 130.8,396.4 131.8,396.2ZM129.1,390.3 129.7,391.2 130.7,391.4 130.0,392.2 130.1,393.2 129.1,392.8 128.2,393.2 128.3,392.2 127.6,391.4 128.6,391.2ZM134.7,390.8 135.2,391.7 136.2,391.9 135.5,392.7 135.6,393.7 134.7,393.3 133.7,393.7 133.8,392.7 133.2,391.9 134.1,391.7ZM134.9,377.7 135.5,378.6 136.5,378.8 135.8,379.6 135.9,380.6 134.9,380.2 134.0,380.6 134.1,379.6 133.4,378.8 134.4,378.6ZM127.2,382.7 127.7,383.6 128.7,383.9 128.1,384.6 128.1,385.6 127.2,385.2 126.3,385.6 126.3,384.6 125.7,383.9 126.7,383.6ZM124.6,374.3 125.1,375.1 126.1,375.4 125.4,376.1 125.5,377.2 124.6,376.8 123.6,377.2 123.7,376.1 123.1,375.4 124.0,375.1ZM130.2,388.5 130.7,389.4 131.7,389.6 131.0,390.4 131.1,391.4 130.2,391.0 129.2,391.4 129.3,390.4 128.6,389.6 129.6,389.4ZM126.4,388.9 126.9,389.8 127.9,390.0 127.2,390.8 127.3,391.8 126.4,391.4 125.4,391.8 125.5,390.8 124.8,390.0 125.8,389.8ZM125.6,372.9 126.1,373.8 127.1,374.0 126.4,374.8 126.5,375.8 125.6,375.4 124.6,375.8 124.7,374.8 124.0,374.0 125.0,373.8ZM133.5,382.0 134.1,382.8 135.1,383.1 134.4,383.8 134.5,384.8 133.5,384.5 132.6,384.8 132.7,383.8 132.0,383.1 133.0,382.8Z" fill="#ffffff" clip-path="url(#c01)"/>
<path d="M129.4,402.0 129.9,402.8 130.9,403.1 130.2,403.8 130.3,404.9 129.4,404.5 128.4,404.9 128.5,403.8 127.8,403.1 128.8,402.8ZM127.6,410.6 128.1,411.4 129.1,411.7 128.4,412.5 128.5,413.5 127.6,413.1 126.6,413.5 126.7,412.5 126.0,411.7 127.0,411.4ZM129.1,403.3 129.6,404.2 130.6,404.4 129.9,405.2 130.0,406.2 129.1,405.8 128.2,406.2 128.2,405.2 127.6,404.4 128.6,404.2ZM136.1,405.4 136.6,406.3 137.6,406.5 136.9,407.3 137.0,408.3 136.1,407.9 135.1,408.3 135.2,407.3 134.5,406.5 135.5,406.3ZM136.9,398.1 137.4,399.0 138.4,399.2 137.7,400.0 137.8,401.0 136.9,400.6 136.0,401.0 136.0,400.0 135.4,399.2 136.4,399.0ZM124.6,395.4 125.2,396.2 126.1,396.5 125.5,397.2 125.6,398.3 124.6,397.9 123.7,398.3 123.8,397.2 123.1,396.5 124.1,396.2ZM134.5,410.4 135.0,411.3 136.0,411.5 135.4,412.3 135.5,413.3 134.5,412.9 133.6,413.3 133.7,412.3 133.0,411.5 134.0,411.3ZM127.9,405.0 128.4,405.9 129.4,406.1 128.8,406.9 128.8,407.9 127.9,407.5 127.0,407.9 127.1,406.9 126.4,406.1 127.4,405.9ZM132.1,409.6 132.6,410.5 133.6,410.7 132.9,411.5 133.0,412.5 132.1,412.1 131.1,412.5 131.2,411.5 130.6,410.7 131.5,410.5ZM144.4,409.0 144.9,409.8 145.9,410.1 145.2,410.9 145.3,411.9 144.4,411.5 143.4,411.9 143.5,410.9 142.9,410.1 143.9,409.8ZM128.3,408.9 128.8,409.8 129.8,410.0 129.1,410.8 129.2,411.8 128.3,411.4 127.3,411.8 127.4,410.8 126.7,410.0 127.7,409.8ZM133.6,411.0 134.2,411.9 135.2,412.1 134.5,412.9 134.6,413.9 133.6,413.5 132.7,413.9 132.8,412.9 132.1,412.1 133.1,411.9ZM134.3,412.9 134.9,413.8 135.9,414.0 135.2,414.8 135.3,415.8 134.3,415.4 133.4,415.8 133.5,414.8 132.8,414.0 133.8,413.8ZM142.2,410.5 142.7,411.4 143.7,411.6 143.0,412.4 143.1,413.4 142.2,413.0 141.2,413.4 141.3,412.4 140.7,411.6 141.6,411.4ZM137.0,393.1 137.6,394.0 138.5,394.2 137.9,395.0 138.0,396.0 137.0,395.6 136.1,396.0 136.2,395.0 135.5,394.2 136.5,394.0ZM124.4,400.1 124.9,401.0 125.9,401.2 125.2,402.0 125.3,403.0 124.4,402.6 123.4,403.0 123.5,402.0 122.8,401.2 123.8,401.0ZM133.1,393.8 133.7,394.7 134.7,394.9 134.0,395.7 134.1,396.7 133.1,396.3 132.2,396.7 132.3,395.7 131.6,394.9 132.6,394.7ZM143.9,403.2 144.4,404.1 145.4,404.3 144.7,405.1 144.8,406.1 143.9,405.7 143.0,406.1 143.0,405.1 142.4,404.3 143.4,404.1ZM127.9,398.1 128.5,398.9 129.5,399.2 128.8,400.0 128.9,401.0 127.9,400.6 127.0,401.0 127.1,400.0 126.4,399.2 127.4,398.9ZM133.9,391.6 134.4,392.4 135.4,392.7 134.8,393.5 134.8,394.5 133.9,394.1 133.0,394.5 133.1,393.5 132.4,392.7 133.4,392.4ZM140.8,406.0 141.3,406.9 142.3,407.1 141.6,407.9 141.7,408.9 140.8,408.5 139.8,408.9 139.9,407.9 139.3,407.1 140.3,406.9ZM141.3,415.3 141.8,416.2 142.8,416.4 142.1,417.2 142.2,418.2 141.3,417.8 140.4,418.2 140.4,417.2 139.8,416.4 140.8,416.2Z" fill="#ffffff" clip-path="url(#c01)"/>
<path d="M99.5,394.6 100.0,395.5 101.0,395.7 100.3,396.5 100.4,397.5 99.5,397.1 98.5,397.5 98.6,396.5 97.9,395.7 98.9,395.5ZM93.1,404.0 93.7,404.9 94.7,405.2 94.0,405.9 94.1,406.9 93.1,406.5 92.2,406.9 92.3,405.9 91.6,405.2 92.6,404.9ZM98.5,402.4 99.1,403.2 100.1,403.5 99.4,404.2 99.5,405.2 98.5,404.9 97.6,405.2 97.7,404.2 97.0,403.5 98.0,403.2ZM98.0,396.9 98.5,397.8 99.5,398.0 98.8,398.8 98.9,399.8 98.0,399.4 97.0,399.8 97.1,398.8 96.5,398.0 97.5,397.8ZM99.9,402.5 100.4,403.4 101.4,403.6 100.7,404.4 100.8,405.4 99.9,405.0 98.9,405.4 99.0,404.4 98.3,403.6 99.3,403.4ZM79.6,401.0 80.1,401.9 81.1,402.1 80.4,402.9 80.5,403.9 79.6,403.5 78.6,403.9 78.7,402.9 78.1,402.1 79.0,401.9ZM90.8,394.2 91.3,395.0 92.3,395.3 91.6,396.0 91.7,397.0 90.8,396.7 89.8,397.0 89.9,396.0 89.2,395.3 90.2,395.0ZM84.7,393.6 85.2,394.5 86.2,394.7 85.5,395.5 85.6,396.5 84.7,396.1 83.7,396.5 83.8,395.5 83.2,394.7 84.2,394.5ZM76.7,397.1 77.3,398.0 78.3,398.3 77.6,399.0 77.7,400.0 76.7,399.6 75.8,400.0 75.9,399.0 75.2,398.3 76.2,398.0ZM80.8,399.4 81.3,400.3 82.3,400.5 81.6,401.3 81.7,402.3 80.8,401.9 79.8,402.3 79.9,401.3 79.2,400.5 80.2,400.3ZM94.5,402.6 95.0,403.4 96.0,403.7 95.3,404.4 95.4,405.4 94.5,405.1 93.5,405.4 93.6,404.4 92.9,403.7 93.9,403.4ZM96.4,413.2 97.0,414.0 98.0,414.3 97.3,415.0 97.4,416.1 96.4,415.7 95.5,416.1 95.6,415.0 94.9,414.3 95.9,414.0Z" fill="#ffffff" clip-path="url(#c01)"/>
<path d="M71.0,271.0 71.9,273.2 74.2,273.3 72.4,274.8 73.0,277.2 71.0,275.8 69.0,277.2 69.6,274.8 67.8,273.3 70.1,273.2ZM83.1,296.9 84.0,299.1 86.3,299.2 84.5,300.7 85.1,303.1 83.1,301.8 81.1,303.1 81.7,300.7 79.9,299.2 82.2,299.1ZM68.8,304.2 69.7,306.4 72.0,306.5 70.2,308.0 70.8,310.4 68.8,309.1 66.8,310.4 67.4,308.0 65.6,306.5 67.9,306.4ZM86.8,303.5 87.7,305.7 90.0,305.8 88.2,307.3 88.8,309.7 86.8,308.3 84.8,309.7 85.4,307.3 83.6,305.8 85.9,305.7ZM91.5,309.1 92.4,311.3 94.7,311.4 92.9,312.9 93.5,315.3 91.5,313.9 89.5,315.3 90.1,312.9 88.3,311.4 90.6,311.3ZM63.5,324.6 64.4,326.8 66.7,326.9 64.9,328.4 65.5,330.8 63.5,329.4 61.5,330.8 62.1,328.4 60.3,326.9 62.6,326.8ZM70.5,323.7 71.4,325.9 73.7,326.0 71.9,327.5 72.5,329.9 70.5,328.6 68.5,329.9 69.1,327.5 67.3,326.0 69.6,325.9ZM70.5,328.4 71.4,330.6 73.7,330.7 71.9,332.2 72.5,334.6 70.5,333.2 68.5,334.6 69.1,332.2 67.3,330.7 69.6,330.6ZM66.7,332.3 67.6,334.5 69.9,334.6 68.1,336.1 68.7,338.5 66.7,337.1 64.7,338.5 65.3,336.1 63.5,334.6 65.8,334.5ZM81.0,332.8 81.9,335.0 84.2,335.1 82.4,336.6 83.0,339.0 81.0,337.6 79.0,339.0 79.6,336.6 77.8,335.1 80.1,335.0ZM85.4,333.6 86.3,335.8 88.6,335.9 86.8,337.4 87.4,339.8 85.4,338.4 83.4,339.8 84.0,337.4 82.2,335.9 84.5,335.8ZM63.5,324.3 64.4,326.5 66.7,326.6 64.9,328.1 65.5,330.5 63.5,329.1 61.5,330.5 62.1,328.1 60.3,326.6 62.6,326.5ZM70.1,323.2 71.0,325.4 73.3,325.5 71.5,327.0 72.1,329.4 70.1,328.1 68.1,329.4 68.7,327.0 66.9,325.5 69.2,325.4ZM67.9,330.8 68.8,333.0 71.1,333.1 69.3,334.6 69.9,337.0 67.9,335.6 65.9,337.0 66.5,334.6 64.7,333.1 67.0,333.0ZM56.9,350.5 57.8,352.7 60.1,352.8 58.3,354.3 58.9,356.7 56.9,355.3 54.9,356.7 55.5,354.3 53.7,352.8 56.0,352.7ZM58.0,374.6 58.9,376.8 61.2,376.9 59.4,378.4 60.0,380.8 58.0,379.4 56.0,380.8 56.6,378.4 54.8,376.9 57.1,376.8ZM66.8,386.6 67.7,388.8 70.0,388.9 68.2,390.4 68.8,392.8 66.8,391.4 64.8,392.8 65.4,390.4 63.6,388.9 65.9,388.8ZM126.3,345.4 127.2,347.6 129.5,347.7 127.7,349.2 128.3,351.6 126.3,350.2 124.3,351.6 124.9,349.2 123.1,347.7 125.4,347.6ZM130.6,345.4 131.5,347.6 133.8,347.7 132.0,349.2 132.6,351.6 130.6,350.2 128.6,351.6 129.2,349.2 127.4,347.7 129.7,347.6ZM135.0,344.0 135.9,346.2 138.2,346.3 136.4,347.8 137.0,350.2 135.0,348.8 133.0,350.2 133.6,347.8 131.8,346.3 134.1,346.2ZM128.0,349.6 128.9,351.8 131.2,351.9 129.4,353.4 130.0,355.8 128.0,354.4 126.0,355.8 126.6,353.4 124.8,351.9 127.1,351.8ZM133.0,351.6 133.9,353.8 136.2,353.9 134.4,355.4 135.0,357.8 133.0,356.4 131.0,357.8 131.6,355.4 129.8,353.9 132.1,353.8ZM124.0,353.6 124.9,355.8 127.2,355.9 125.4,357.4 126.0,359.8 124.0,358.4 122.0,359.8 122.6,357.4 120.8,355.9 123.1,355.8ZM131.0,347.6 131.9,349.8 134.2,349.9 132.4,351.4 133.0,353.8 131.0,352.4 129.0,353.8 129.6,351.4 127.8,349.9 130.1,349.8ZM137.0,346.6 137.9,348.8 140.2,348.9 138.4,350.4 139.0,352.8 137.0,351.4 135.0,352.8 135.6,350.4 133.8,348.9 136.1,348.8ZM157.4,328.8 158.3,331.0 160.6,331.1 158.8,332.6 159.4,335.0 157.4,333.6 155.4,335.0 156.0,332.6 154.2,331.1 156.5,331.0ZM152.2,339.8 153.1,342.0 155.4,342.1 153.6,343.6 154.2,346.0 152.2,344.6 150.2,346.0 150.8,343.6 149.0,342.1 151.3,342.0ZM158.3,339.8 159.2,342.0 161.5,342.1 159.7,343.6 160.3,346.0 158.3,344.6 156.3,346.0 156.9,343.6 155.1,342.1 157.4,342.0ZM162.2,343.3 163.1,345.5 165.4,345.6 163.6,347.1 164.2,349.5 162.2,348.1 160.2,349.5 160.8,347.1 159.0,345.6 161.3,345.5ZM166.2,340.5 167.1,342.7 169.4,342.8 167.6,344.3 168.2,346.7 166.2,345.3 164.2,346.7 164.8,344.3 163.0,342.8 165.3,342.7ZM173.2,340.5 174.1,342.7 176.4,342.8 174.6,344.3 175.2,346.7 173.2,345.3 171.2,346.7 171.8,344.3 170.0,342.8 172.3,342.7ZM174.0,350.4 174.9,352.6 177.2,352.7 175.4,354.2 176.0,356.6 174.0,355.2 172.0,356.6 172.6,354.2 170.8,352.7 173.1,352.6ZM170.9,358.6 171.8,360.8 174.1,360.9 172.3,362.4 172.9,364.8 170.9,363.4 168.9,364.8 169.5,362.4 167.7,360.9 170.0,360.8ZM184.7,361.9 185.6,364.1 187.9,364.2 186.1,365.7 186.7,368.1 184.7,366.8 182.7,368.1 183.3,365.7 181.5,364.2 183.8,364.1ZM183.9,365.7 184.8,367.9 187.1,368.0 185.3,369.5 185.9,371.9 183.9,370.6 181.9,371.9 182.5,369.5 180.7,368.0 183.0,367.9ZM99.9,370.7 100.8,373.0 103.2,373.1 101.3,374.6 101.9,376.9 99.9,375.6 98.0,376.9 98.6,374.6 96.7,373.1 99.1,373.0ZM103.2,372.3 104.1,374.5 106.5,374.7 104.6,376.1 105.2,378.5 103.2,377.2 101.3,378.5 101.9,376.1 100.0,374.7 102.4,374.5ZM109.6,358.3 110.5,360.5 112.9,360.7 111.0,362.2 111.6,364.5 109.6,363.2 107.6,364.5 108.3,362.2 106.4,360.7 108.8,360.5ZM100.5,362.7 101.3,364.9 103.7,365.0 101.9,366.5 102.5,368.8 100.5,367.5 98.5,368.8 99.1,366.5 97.3,365.0 99.6,364.9ZM114.9,369.0 115.8,371.2 118.1,371.3 116.3,372.8 116.9,375.1 114.9,373.8 112.9,375.1 113.5,372.8 111.7,371.3 114.1,371.2ZM110.0,360.5 110.8,362.7 113.2,362.9 111.4,364.4 112.0,366.7 110.0,365.4 108.0,366.7 108.6,364.4 106.7,362.9 109.1,362.7ZM109.9,379.2 110.7,381.4 113.1,381.5 111.3,383.0 111.9,385.3 109.9,384.0 107.9,385.3 108.5,383.0 106.6,381.5 109.0,381.4ZM107.1,375.9 107.9,378.1 110.3,378.2 108.5,379.7 109.1,382.0 107.1,380.7 105.1,382.0 105.7,379.7 103.8,378.2 106.2,378.1ZM110.8,358.3 111.6,360.5 114.0,360.6 112.2,362.1 112.8,364.4 110.8,363.1 108.8,364.4 109.4,362.1 107.6,360.6 109.9,360.5ZM113.0,372.0 113.8,374.2 116.2,374.3 114.3,375.8 115.0,378.1 113.0,376.8 111.0,378.1 111.6,375.8 109.7,374.3 112.1,374.2ZM115.6,368.9 116.5,371.1 118.9,371.2 117.0,372.7 117.6,375.0 115.6,373.7 113.6,375.0 114.3,372.7 112.4,371.2 114.8,371.1ZM112.0,379.4 112.8,381.7 115.2,381.8 113.3,383.3 114.0,385.6 112.0,384.3 110.0,385.6 110.6,383.3 108.7,381.8 111.1,381.7ZM111.9,380.5 112.7,382.8 115.1,382.9 113.2,384.4 113.9,386.7 111.9,385.4 109.9,386.7 110.5,384.4 108.6,382.9 111.0,382.8ZM103.9,377.4 104.7,379.7 107.1,379.8 105.3,381.3 105.9,383.6 103.9,382.3 101.9,383.6 102.5,381.3 100.6,379.8 103.0,379.7ZM105.1,380.9 106.0,383.2 108.3,383.3 106.5,384.8 107.1,387.1 105.1,385.8 103.1,387.1 103.7,384.8 101.9,383.3 104.3,383.2ZM97.4,362.2 98.3,364.5 100.6,364.6 98.8,366.1 99.4,368.4 97.4,367.1 95.4,368.4 96.0,366.1 94.2,364.6 96.5,364.5ZM118.1,367.9 119.0,370.2 121.4,370.3 119.5,371.8 120.1,374.1 118.1,372.8 116.1,374.1 116.8,371.8 114.9,370.3 117.3,370.2ZM109.7,364.4 110.5,366.7 112.9,366.8 111.0,368.3 111.7,370.6 109.7,369.3 107.7,370.6 108.3,368.3 106.4,366.8 108.8,366.7ZM106.7,366.6 107.5,368.9 109.9,369.0 108.1,370.5 108.7,372.8 106.7,371.5 104.7,372.8 105.3,370.5 103.4,369.0 105.8,368.9ZM102.8,371.8 103.6,374.0 106.0,374.2 104.2,375.7 104.8,378.0 102.8,376.7 100.8,378.0 101.4,375.7 99.5,374.2 101.9,374.0ZM108.6,380.1 109.5,382.3 111.8,382.5 110.0,384.0 110.6,386.3 108.6,385.0 106.6,386.3 107.2,384.0 105.4,382.5 107.8,382.3ZM111.0,380.8 111.9,383.0 114.3,383.1 112.4,384.6 113.0,386.9 111.0,385.6 109.1,386.9 109.7,384.6 107.8,383.1 110.2,383.0ZM115.4,382.4 116.3,384.6 118.6,384.7 116.8,386.2 117.4,388.5 115.4,387.2 113.4,388.5 114.0,386.2 112.2,384.7 114.6,384.6ZM110.8,360.8 111.6,363.1 114.0,363.2 112.2,364.7 112.8,367.0 110.8,365.7 108.8,367.0 109.4,364.7 107.5,363.2 109.9,363.1ZM115.5,381.7 116.4,383.9 118.7,384.0 116.9,385.5 117.5,387.8 115.5,386.5 113.5,387.8 114.1,385.5 112.3,384.0 114.7,383.9ZM116.6,371.4 117.5,373.6 119.9,373.7 118.0,375.2 118.6,377.5 116.6,376.2 114.6,377.5 115.2,375.2 113.4,373.7 115.8,373.6ZM111.8,362.1 112.7,364.3 115.1,364.4 113.2,365.9 113.8,368.2 111.8,366.9 109.8,368.2 110.5,365.9 108.6,364.4 111.0,364.3ZM114.8,371.5 115.6,373.7 118.0,373.9 116.2,375.4 116.8,377.7 114.8,376.4 112.8,377.7 113.4,375.4 111.6,373.9 113.9,373.7ZM101.1,358.2 102.0,360.5 104.4,360.6 102.5,362.1 103.1,364.4 101.1,363.1 99.1,364.4 99.7,362.1 97.9,360.6 100.3,360.5ZM115.3,382.3 116.2,384.6 118.6,384.7 116.7,386.2 117.3,388.5 115.3,387.2 113.4,388.5 114.0,386.2 112.1,384.7 114.5,384.6ZM106.1,367.7 107.0,370.0 109.4,370.1 107.5,371.6 108.1,373.9 106.1,372.6 104.1,373.9 104.7,371.6 102.9,370.1 105.3,370.0ZM107.6,368.3 108.4,370.5 110.8,370.7 108.9,372.2 109.6,374.5 107.6,373.2 105.6,374.5 106.2,372.2 104.3,370.7 106.7,370.5ZM104.6,371.0 105.5,373.2 107.8,373.4 106.0,374.9 106.6,377.2 104.6,375.9 102.6,377.2 103.2,374.9 101.4,373.4 103.7,373.2ZM112.3,375.4 113.1,377.6 115.5,377.8 113.6,379.3 114.3,381.6 112.3,380.3 110.3,381.6 110.9,379.3 109.0,377.8 111.4,377.6ZM110.9,369.0 111.7,371.3 114.1,371.4 112.3,372.9 112.9,375.2 110.9,373.9 108.9,375.2 109.5,372.9 107.7,371.4 110.0,371.3ZM108.8,369.6 109.7,371.9 112.1,372.0 110.2,373.5 110.8,375.8 108.8,374.5 106.8,375.8 107.5,373.5 105.6,372.0 108.0,371.9ZM105.6,367.8 106.4,370.0 108.8,370.1 106.9,371.6 107.6,373.9 105.6,372.6 103.6,373.9 104.2,371.6 102.3,370.1 104.7,370.0ZM105.9,376.8 106.8,379.0 109.2,379.2 107.3,380.7 107.9,383.0 105.9,381.7 103.9,383.0 104.6,380.7 102.7,379.2 105.1,379.0ZM111.5,375.5 112.3,377.7 114.7,377.8 112.8,379.3 113.5,381.6 111.5,380.3 109.5,381.6 110.1,379.3 108.2,377.8 110.6,377.7ZM111.2,368.7 112.1,371.0 114.4,371.1 112.6,372.6 113.2,374.9 111.2,373.6 109.2,374.9 109.8,372.6 108.0,371.1 110.4,371.0ZM106.8,373.5 107.6,375.7 110.0,375.8 108.2,377.3 108.8,379.6 106.8,378.3 104.8,379.6 105.4,377.3 103.6,375.8 105.9,375.7ZM110.6,376.0 111.4,378.2 113.8,378.4 112.0,379.8 112.6,382.2 110.6,380.9 108.6,382.2 109.2,379.8 107.4,378.4 109.7,378.2ZM111.9,367.6 112.8,369.8 115.2,369.9 113.3,371.4 113.9,373.7 111.9,372.4 109.9,373.7 110.5,371.4 108.7,369.9 111.1,369.8ZM109.5,374.0 110.3,376.2 112.7,376.3 110.8,377.8 111.5,380.1 109.5,378.8 107.5,380.1 108.1,377.8 106.2,376.3 108.6,376.2ZM132.3,406.9 132.8,407.8 133.8,408.0 133.1,408.8 133.2,409.8 132.3,409.4 131.4,409.8 131.4,408.8 130.8,408.0 131.8,407.8ZM108.9,373.8 109.4,374.7 110.4,374.9 109.7,375.7 109.8,376.7 108.9,376.3 107.9,376.7 108.0,375.7 107.3,374.9 108.3,374.7ZM72.0,397.5 72.6,398.4 73.6,398.6 72.9,399.4 73.0,400.4 72.0,400.0 71.1,400.4 71.2,399.4 70.5,398.6 71.5,398.4ZM107.7,403.2 108.3,404.1 109.3,404.3 108.6,405.1 108.7,406.1 107.7,405.7 106.8,406.1 106.9,405.1 106.2,404.3 107.2,404.1ZM100.4,403.8 100.9,404.7 101.9,404.9 101.2,405.7 101.3,406.7 100.4,406.3 99.4,406.7 99.5,405.7 98.8,404.9 99.8,404.7ZM92.7,405.7 93.3,406.6 94.2,406.8 93.6,407.6 93.7,408.6 92.7,408.2 91.8,408.6 91.9,407.6 91.2,406.8 92.2,406.6ZM127.5,382.8 128.0,383.7 129.0,383.9 128.3,384.7 128.4,385.7 127.5,385.3 126.5,385.7 126.6,384.7 125.9,383.9 126.9,383.7ZM112.9,398.6 113.4,399.5 114.4,399.7 113.8,400.5 113.9,401.5 112.9,401.1 112.0,401.5 112.1,400.5 111.4,399.7 112.4,399.5ZM86.7,391.1 87.2,391.9 88.2,392.2 87.5,392.9 87.6,394.0 86.7,393.6 85.7,394.0 85.8,392.9 85.1,392.2 86.1,391.9ZM133.1,398.9 133.6,399.7 134.6,400.0 133.9,400.7 134.0,401.8 133.1,401.4 132.1,401.8 132.2,400.7 131.5,400.0 132.5,399.7ZM79.1,405.6 79.6,406.5 80.6,406.7 79.9,407.5 80.0,408.5 79.1,408.1 78.1,408.5 78.2,407.5 77.6,406.7 78.5,406.5ZM133.2,384.7 133.7,385.5 134.7,385.8 134.0,386.5 134.1,387.6 133.2,387.2 132.2,387.6 132.3,386.5 131.6,385.8 132.6,385.5ZM79.1,370.0 79.7,370.9 80.6,371.1 80.0,371.9 80.1,372.9 79.1,372.5 78.2,372.9 78.3,371.9 77.6,371.1 78.6,370.9ZM144.3,393.1 144.8,394.0 145.8,394.2 145.2,395.0 145.2,396.0 144.3,395.6 143.4,396.0 143.4,395.0 142.8,394.2 143.8,394.0ZM87.3,397.1 87.8,397.9 88.8,398.2 88.1,398.9 88.2,400.0 87.3,399.6 86.3,400.0 86.4,398.9 85.7,398.2 86.7,397.9ZM99.4,413.4 99.9,414.3 100.9,414.5 100.2,415.3 100.3,416.3 99.4,415.9 98.4,416.3 98.5,415.3 97.9,414.5 98.9,414.3ZM141.1,388.8 141.7,389.6 142.6,389.9 142.0,390.6 142.1,391.7 141.1,391.3 140.2,391.7 140.3,390.6 139.6,389.9 140.6,389.6ZM121.0,399.6 121.5,400.4 122.5,400.7 121.8,401.5 121.9,402.5 121.0,402.1 120.0,402.5 120.1,401.5 119.5,400.7 120.5,400.4ZM133.2,416.0 133.7,416.9 134.7,417.1 134.1,417.9 134.2,418.9 133.2,418.5 132.3,418.9 132.4,417.9 131.7,417.1 132.7,416.9ZM74.2,379.7 74.7,380.6 75.7,380.8 75.0,381.6 75.1,382.6 74.2,382.2 73.2,382.6 73.3,381.6 72.6,380.8 73.6,380.6ZM138.9,389.4 139.4,390.3 140.4,390.5 139.7,391.3 139.8,392.3 138.9,391.9 137.9,392.3 138.0,391.3 137.4,390.5 138.4,390.3ZM80.9,397.5 81.4,398.4 82.4,398.6 81.7,399.4 81.8,400.4 80.9,400.0 79.9,400.4 80.0,399.4 79.4,398.6 80.3,398.4ZM95.7,370.0 96.3,370.8 97.3,371.1 96.6,371.9 96.7,372.9 95.7,372.5 94.8,372.9 94.9,371.9 94.2,371.1 95.2,370.8ZM88.0,409.5 88.5,410.3 89.5,410.6 88.8,411.3 88.9,412.4 88.0,412.0 87.0,412.4 87.1,411.3 86.4,410.6 87.4,410.3ZM97.3,411.8 97.8,412.6 98.8,412.9 98.2,413.6 98.2,414.7 97.3,414.3 96.4,414.7 96.4,413.6 95.8,412.9 96.8,412.6ZM100.7,381.4 101.2,382.2 102.2,382.5 101.5,383.2 101.6,384.3 100.7,383.9 99.7,384.3 99.8,383.2 99.2,382.5 100.2,382.2ZM81.6,417.4 82.2,418.3 83.2,418.5 82.5,419.3 82.6,420.3 81.6,419.9 80.7,420.3 80.8,419.3 80.1,418.5 81.1,418.3ZM76.1,383.4 76.6,384.2 77.6,384.5 76.9,385.2 77.0,386.2 76.1,385.9 75.2,386.2 75.2,385.2 74.6,384.5 75.6,384.2ZM128.7,381.9 129.2,382.7 130.2,383.0 129.6,383.7 129.7,384.8 128.7,384.4 127.8,384.8 127.9,383.7 127.2,383.0 128.2,382.7ZM146.4,411.0 147.0,411.9 147.9,412.1 147.3,412.9 147.4,413.9 146.4,413.5 145.5,413.9 145.6,412.9 144.9,412.1 145.9,411.9ZM122.9,410.9 123.5,411.8 124.5,412.0 123.8,412.8 123.9,413.8 122.9,413.4 122.0,413.8 122.1,412.8 121.4,412.0 122.4,411.8ZM106.0,407.4 106.5,408.3 107.5,408.5 106.8,409.3 106.9,410.3 106.0,409.9 105.0,410.3 105.1,409.3 104.5,408.5 105.5,408.3ZM132.5,388.9 133.0,389.8 134.0,390.0 133.4,390.8 133.4,391.8 132.5,391.4 131.6,391.8 131.6,390.8 131.0,390.0 132.0,389.8ZM107.8,400.0 108.3,400.9 109.3,401.1 108.6,401.9 108.7,402.9 107.8,402.5 106.9,402.9 106.9,401.9 106.3,401.1 107.3,400.9ZM109.1,404.7 109.6,405.5 110.6,405.8 109.9,406.5 110.0,407.6 109.1,407.2 108.1,407.6 108.2,406.5 107.5,405.8 108.5,405.5ZM81.4,393.2 81.9,394.0 82.9,394.3 82.2,395.1 82.3,396.1 81.4,395.7 80.4,396.1 80.5,395.1 79.9,394.3 80.9,394.0ZM99.4,373.5 100.0,374.4 101.0,374.6 100.3,375.4 100.4,376.4 99.4,376.0 98.5,376.4 98.6,375.4 97.9,374.6 98.9,374.4ZM106.3,413.1 106.8,414.0 107.8,414.2 107.2,415.0 107.3,416.0 106.3,415.6 105.4,416.0 105.5,415.0 104.8,414.2 105.8,414.0ZM91.4,382.6 91.9,383.5 92.9,383.7 92.2,384.5 92.3,385.5 91.4,385.1 90.4,385.5 90.5,384.5 89.8,383.7 90.8,383.5ZM138.8,394.5 139.4,395.4 140.3,395.6 139.7,396.4 139.8,397.4 138.8,397.0 137.9,397.4 138.0,396.4 137.3,395.6 138.3,395.4ZM114.6,402.3 115.4,404.5 117.8,404.7 116.0,406.2 116.6,408.5 114.6,407.2 112.6,408.5 113.2,406.2 111.3,404.7 113.7,404.5ZM114.3,406.2 115.2,408.4 117.5,408.5 115.7,410.0 116.3,412.3 114.3,411.0 112.3,412.3 112.9,410.0 111.1,408.5 113.4,408.4ZM114.3,404.9 115.1,407.2 117.5,407.3 115.6,408.8 116.3,411.1 114.3,409.8 112.3,411.1 112.9,408.8 111.0,407.3 113.4,407.2ZM113.2,389.2 114.1,391.4 116.5,391.6 114.6,393.1 115.2,395.4 113.2,394.1 111.2,395.4 111.8,393.1 110.0,391.6 112.4,391.4ZM115.5,409.4 116.3,411.6 118.7,411.7 116.8,413.2 117.4,415.5 115.5,414.2 113.5,415.5 114.1,413.2 112.2,411.7 114.6,411.6ZM117.0,408.3 117.8,410.5 120.2,410.7 118.4,412.2 119.0,414.5 117.0,413.2 115.0,414.5 115.6,412.2 113.7,410.7 116.1,410.5ZM115.8,398.8 116.6,401.0 119.0,401.1 117.2,402.6 117.8,404.9 115.8,403.6 113.8,404.9 114.4,402.6 112.5,401.1 114.9,401.0ZM114.9,400.5 115.8,402.7 118.2,402.9 116.3,404.4 116.9,406.7 114.9,405.4 112.9,406.7 113.6,404.4 111.7,402.9 114.1,402.7ZM106.1,375.8 106.9,378.0 109.3,378.1 107.4,379.6 108.1,381.9 106.1,380.6 104.1,381.9 104.7,379.6 102.8,378.1 105.2,378.0ZM106.7,376.3 107.5,378.6 109.9,378.7 108.1,380.2 108.7,382.5 106.7,381.2 104.7,382.5 105.3,380.2 103.4,378.7 105.8,378.6ZM107.4,383.8 108.2,386.1 110.6,386.2 108.8,387.7 109.4,390.0 107.4,388.7 105.4,390.0 106.0,387.7 104.1,386.2 106.5,386.1ZM107.9,377.8 108.8,380.1 111.1,380.2 109.3,381.7 109.9,384.0 107.9,382.7 105.9,384.0 106.5,381.7 104.7,380.2 107.1,380.1ZM106.8,382.5 107.7,384.7 110.1,384.9 108.2,386.4 108.8,388.7 106.8,387.4 104.8,388.7 105.5,386.4 103.6,384.9 106.0,384.7ZM151.0,363.8 151.9,366.0 154.3,366.2 152.4,367.6 153.0,370.0 151.0,368.7 149.0,370.0 149.7,367.6 147.8,366.2 150.2,366.0ZM161.2,359.0 162.0,361.2 164.4,361.4 162.6,362.9 163.2,365.2 161.2,363.9 159.2,365.2 159.8,362.9 157.9,361.4 160.3,361.2ZM157.6,376.9 158.5,379.1 160.8,379.3 159.0,380.8 159.6,383.1 157.6,381.8 155.6,383.1 156.2,380.8 154.4,379.3 156.8,379.1ZM142.8,385.6 143.7,387.8 146.0,387.9 144.2,389.4 144.8,391.7 142.8,390.4 140.8,391.7 141.4,389.4 139.6,387.9 141.9,387.8ZM142.2,381.1 143.0,383.3 145.4,383.4 143.5,384.9 144.2,387.2 142.2,385.9 140.2,387.2 140.8,384.9 138.9,383.4 141.3,383.3ZM144.8,368.2 145.7,370.4 148.1,370.6 146.2,372.1 146.8,374.4 144.8,373.1 142.8,374.4 143.5,372.1 141.6,370.6 144.0,370.4ZM160.5,412.4 161.3,414.6 163.7,414.8 161.8,416.3 162.4,418.6 160.5,417.3 158.5,418.6 159.1,416.3 157.2,414.8 159.6,414.6ZM158.9,378.8 159.7,381.0 162.1,381.1 160.3,382.6 160.9,384.9 158.9,383.6 156.9,384.9 157.5,382.6 155.7,381.1 158.0,381.0ZM167.6,372.3 168.5,374.5 170.8,374.6 169.0,376.1 169.6,378.4 167.6,377.1 165.6,378.4 166.2,376.1 164.4,374.6 166.8,374.5ZM145.5,361.8 146.3,364.0 148.7,364.1 146.9,365.6 147.5,367.9 145.5,366.6 143.5,367.9 144.1,365.6 142.2,364.1 144.6,364.0ZM146.6,390.1 147.5,392.3 149.8,392.4 148.0,393.9 148.6,396.2 146.6,394.9 144.6,396.2 145.2,393.9 143.4,392.4 145.8,392.3ZM160.8,377.3 161.7,379.5 164.0,379.7 162.2,381.2 162.8,383.5 160.8,382.2 158.8,383.5 159.4,381.2 157.6,379.7 160.0,379.5ZM158.0,358.4 158.8,360.7 161.2,360.8 159.4,362.3 160.0,364.6 158.0,363.3 156.0,364.6 156.6,362.3 154.7,360.8 157.1,360.7ZM142.8,367.2 143.7,369.4 146.1,369.5 144.2,371.0 144.8,373.3 142.8,372.0 140.8,373.3 141.5,371.0 139.6,369.5 142.0,369.4ZM162.1,380.7 162.9,382.9 165.3,383.0 163.5,384.5 164.1,386.8 162.1,385.5 160.1,386.8 160.7,384.5 158.9,383.0 161.2,382.9ZM150.7,390.3 151.6,392.5 154.0,392.7 152.1,394.2 152.7,396.5 150.7,395.2 148.7,396.5 149.4,394.2 147.5,392.7 149.9,392.5ZM155.0,372.9 155.9,375.1 158.3,375.2 156.4,376.7 157.0,379.0 155.0,377.7 153.1,379.0 153.7,376.7 151.8,375.2 154.2,375.1ZM165.6,397.2 166.5,399.5 168.9,399.6 167.0,401.1 167.6,403.4 165.6,402.1 163.6,403.4 164.2,401.1 162.4,399.6 164.8,399.5ZM148.6,389.6 149.4,391.9 151.8,392.0 149.9,393.5 150.6,395.8 148.6,394.5 146.6,395.8 147.2,393.5 145.3,392.0 147.7,391.9ZM163.6,372.2 164.5,374.4 166.8,374.5 165.0,376.0 165.6,378.3 163.6,377.0 161.6,378.3 162.2,376.0 160.4,374.5 162.8,374.4ZM145.7,384.4 146.6,386.7 148.9,386.8 147.1,388.3 147.7,390.6 145.7,389.3 143.7,390.6 144.3,388.3 142.5,386.8 144.9,386.7ZM164.7,389.6 165.6,391.8 167.9,391.9 166.1,393.4 166.7,395.7 164.7,394.4 162.7,395.7 163.3,393.4 161.5,391.9 163.8,391.8ZM168.1,373.7 169.0,376.0 171.4,376.1 169.5,377.6 170.1,379.9 168.1,378.6 166.1,379.9 166.8,377.6 164.9,376.1 167.3,376.0ZM162.6,390.9 163.4,393.1 165.8,393.2 163.9,394.7 164.6,397.0 162.6,395.7 160.6,397.0 161.2,394.7 159.3,393.2 161.7,393.1ZM159.0,382.4 159.8,384.7 162.2,384.8 160.4,386.3 161.0,388.6 159.0,387.3 157.0,388.6 157.6,386.3 155.7,384.8 158.1,384.7ZM161.1,415.2 161.9,417.4 164.3,417.5 162.4,419.0 163.1,421.3 161.1,420.0 159.1,421.3 159.7,419.0 157.8,417.5 160.2,417.4ZM166.5,372.0 167.3,374.2 169.7,374.3 167.9,375.8 168.5,378.1 166.5,376.8 164.5,378.1 165.1,375.8 163.2,374.3 165.6,374.2ZM141.7,382.8 142.6,385.0 144.9,385.1 143.1,386.6 143.7,388.9 141.7,387.6 139.7,388.9 140.3,386.6 138.5,385.1 140.8,385.0ZM146.2,361.7 147.1,364.0 149.4,364.1 147.6,365.6 148.2,367.9 146.2,366.6 144.2,367.9 144.8,365.6 143.0,364.1 145.4,364.0ZM145.0,369.7 145.9,371.9 148.2,372.1 146.4,373.6 147.0,375.9 145.0,374.6 143.0,375.9 143.6,373.6 141.8,372.1 144.2,371.9ZM143.5,382.0 144.4,384.2 146.7,384.3 144.9,385.8 145.5,388.2 143.5,386.9 141.5,388.2 142.1,385.8 140.3,384.3 142.6,384.2ZM166.4,407.3 167.2,409.5 169.6,409.7 167.8,411.2 168.4,413.5 166.4,412.2 164.4,413.5 165.0,411.2 163.2,409.7 165.5,409.5ZM149.6,379.9 150.5,382.2 152.9,382.3 151.0,383.8 151.6,386.1 149.6,384.8 147.6,386.1 148.3,383.8 146.4,382.3 148.8,382.2ZM170.7,363.8 171.5,366.0 173.9,366.2 172.1,367.7 172.7,370.0 170.7,368.7 168.7,370.0 169.3,367.7 167.5,366.2 169.8,366.0ZM146.5,368.7 147.3,371.0 149.7,371.1 147.8,372.6 148.5,374.9 146.5,373.6 144.5,374.9 145.1,372.6 143.2,371.1 145.6,371.0ZM148.2,384.2 149.1,386.4 151.5,386.5 149.6,388.0 150.2,390.3 148.2,389.0 146.2,390.3 146.9,388.0 145.0,386.5 147.4,386.4ZM159.3,370.6 160.1,372.9 162.5,373.0 160.6,374.5 161.3,376.8 159.3,375.5 157.3,376.8 157.9,374.5 156.0,373.0 158.4,372.9ZM141.1,380.2 142.0,382.4 144.4,382.5 142.5,384.0 143.1,386.3 141.1,385.0 139.1,386.3 139.7,384.0 137.9,382.5 140.3,382.4ZM152.4,389.1 153.3,391.4 155.7,391.5 153.8,393.0 154.4,395.3 152.4,394.0 150.4,395.3 151.1,393.0 149.2,391.5 151.6,391.4ZM162.0,357.9 162.8,360.1 165.2,360.2 163.3,361.7 164.0,364.0 162.0,362.7 160.0,364.0 160.6,361.7 158.7,360.2 161.1,360.1ZM153.2,378.9 154.0,381.2 156.4,381.3 154.5,382.8 155.2,385.1 153.2,383.8 151.2,385.1 151.8,382.8 149.9,381.3 152.3,381.2ZM147.5,364.5 148.3,366.7 150.7,366.8 148.9,368.3 149.5,370.7 147.5,369.4 145.5,370.7 146.1,368.3 144.2,366.8 146.6,366.7ZM151.5,357.8 152.4,360.0 154.8,360.2 152.9,361.7 153.5,364.0 151.5,362.7 149.5,364.0 150.2,361.7 148.3,360.2 150.7,360.0ZM141.0,363.8 141.9,366.1 144.2,366.2 142.4,367.7 143.0,370.0 141.0,368.7 139.0,370.0 139.6,367.7 137.8,366.2 140.2,366.1ZM144.1,376.8 145.0,379.0 147.4,379.1 145.5,380.6 146.1,382.9 144.1,381.6 142.1,382.9 142.8,380.6 140.9,379.1 143.3,379.0ZM160.0,363.7 160.9,365.9 163.3,366.0 161.4,367.5 162.0,369.8 160.0,368.5 158.0,369.8 158.7,367.5 156.8,366.0 159.2,365.9ZM148.8,375.8 149.7,378.0 152.1,378.1 150.2,379.6 150.8,381.9 148.8,380.6 146.8,381.9 147.4,379.6 145.6,378.1 148.0,378.0ZM152.3,362.1 153.1,364.3 155.5,364.4 153.7,365.9 154.3,368.2 152.3,366.9 150.3,368.2 150.9,365.9 149.1,364.4 151.4,364.3ZM155.4,384.1 156.3,386.3 158.7,386.5 156.8,388.0 157.4,390.3 155.4,389.0 153.4,390.3 154.1,388.0 152.2,386.5 154.6,386.3ZM143.7,360.8 144.5,363.1 146.9,363.2 145.0,364.7 145.7,367.0 143.7,365.7 141.7,367.0 142.3,364.7 140.4,363.2 142.8,363.1ZM151.6,370.8 152.5,373.0 154.9,373.1 153.0,374.6 153.6,376.9 151.6,375.6 149.6,376.9 150.2,374.6 148.4,373.1 150.8,373.0ZM166.7,364.4 167.5,366.7 169.9,366.8 168.1,368.3 168.7,370.6 166.7,369.3 164.7,370.6 165.3,368.3 163.5,366.8 165.8,366.7ZM157.4,363.5 158.2,365.8 160.6,365.9 158.8,367.4 159.4,369.7 157.4,368.4 155.4,369.7 156.0,367.4 154.1,365.9 156.5,365.8ZM157.8,356.2 158.7,358.5 161.1,358.6 159.2,360.1 159.8,362.4 157.8,361.1 155.8,362.4 156.5,360.1 154.6,358.6 157.0,358.5ZM167.8,397.1 168.6,399.3 171.0,399.4 169.1,400.9 169.8,403.2 167.8,401.9 165.8,403.2 166.4,400.9 164.5,399.4 166.9,399.3ZM149.1,377.0 149.9,379.2 152.3,379.3 150.5,380.8 151.1,383.1 149.1,381.8 147.1,383.1 147.7,380.8 145.9,379.3 148.2,379.2ZM151.2,368.2 152.1,370.4 154.5,370.6 152.6,372.1 153.2,374.4 151.2,373.1 149.2,374.4 149.8,372.1 148.0,370.6 150.4,370.4ZM166.2,414.7 167.0,416.9 169.4,417.0 167.5,418.5 168.2,420.8 166.2,419.5 164.2,420.8 164.8,418.5 162.9,417.0 165.3,416.9ZM167.4,403.8 168.3,406.0 170.7,406.1 168.8,407.6 169.4,409.9 167.4,408.6 165.4,409.9 166.1,407.6 164.2,406.1 166.6,406.0ZM166.4,399.7 167.2,402.0 169.6,402.1 167.7,403.6 168.4,405.9 166.4,404.6 164.4,405.9 165.0,403.6 163.1,402.1 165.5,402.0ZM148.0,386.2 148.9,388.4 151.3,388.5 149.4,390.0 150.0,392.3 148.0,391.0 146.0,392.3 146.6,390.0 144.8,388.5 147.2,388.4ZM152.0,356.4 152.9,358.6 155.3,358.7 153.4,360.2 154.0,362.5 152.0,361.2 150.0,362.5 150.6,360.2 148.8,358.7 151.2,358.6ZM141.9,371.6 142.7,373.9 145.1,374.0 143.2,375.5 143.9,377.8 141.9,376.5 139.9,377.8 140.5,375.5 138.6,374.0 141.0,373.9ZM147.8,368.4 148.7,370.7 151.1,370.8 149.2,372.3 149.8,374.6 147.8,373.3 145.8,374.6 146.5,372.3 144.6,370.8 147.0,370.7ZM147.1,367.1 148.0,369.3 150.3,369.4 148.5,370.9 149.1,373.2 147.1,371.9 145.1,373.2 145.7,370.9 143.9,369.4 146.2,369.3ZM160.3,409.5 161.2,411.7 163.6,411.9 161.7,413.4 162.3,415.7 160.3,414.4 158.3,415.7 159.0,413.4 157.1,411.9 159.5,411.7ZM161.2,403.4 162.1,405.6 164.5,405.7 162.6,407.2 163.2,409.5 161.2,408.2 159.2,409.5 159.9,407.2 158.0,405.7 160.4,405.6ZM164.3,383.8 165.1,386.0 167.5,386.1 165.6,387.6 166.3,389.9 164.3,388.6 162.3,389.9 162.9,387.6 161.0,386.1 163.4,386.0ZM163.5,365.0 164.3,367.2 166.7,367.3 164.8,368.8 165.5,371.1 163.5,369.8 161.5,371.1 162.1,368.8 160.2,367.3 162.6,367.2ZM144.9,363.8 145.8,366.0 148.2,366.2 146.3,367.7 146.9,370.0 144.9,368.7 142.9,370.0 143.6,367.7 141.7,366.2 144.1,366.0ZM151.9,388.1 152.7,390.3 155.1,390.4 153.2,391.9 153.9,394.2 151.9,392.9 149.9,394.2 150.5,391.9 148.6,390.4 151.0,390.3ZM166.6,367.5 167.5,369.7 169.8,369.8 168.0,371.3 168.6,373.6 166.6,372.3 164.6,373.6 165.2,371.3 163.4,369.8 165.8,369.7ZM148.8,372.5 149.7,374.7 152.0,374.8 150.2,376.3 150.8,378.6 148.8,377.3 146.8,378.6 147.4,376.3 145.6,374.8 148.0,374.7ZM148.5,390.4 149.3,392.6 151.7,392.7 149.8,394.2 150.5,396.5 148.5,395.2 146.5,396.5 147.1,394.2 145.2,392.7 147.6,392.6ZM149.0,380.2 149.9,382.4 152.3,382.5 150.4,384.0 151.0,386.3 149.0,385.0 147.0,386.3 147.7,384.0 145.8,382.5 148.2,382.4ZM152.0,382.5 152.8,384.8 155.2,384.9 153.3,386.4 154.0,388.7 152.0,387.4 150.0,388.7 150.6,386.4 148.7,384.9 151.1,384.8ZM159.1,409.8 159.9,412.0 162.3,412.1 160.5,413.6 161.1,415.9 159.1,414.6 157.1,415.9 157.7,413.6 155.9,412.1 158.2,412.0ZM156.6,387.0 157.4,389.3 159.8,389.4 157.9,390.9 158.5,393.2 156.6,391.9 154.6,393.2 155.2,390.9 153.3,389.4 155.7,389.3ZM157.2,355.7 158.1,358.0 160.5,358.1 158.6,359.6 159.2,361.9 157.2,360.6 155.2,361.9 155.8,359.6 154.0,358.1 156.4,358.0ZM154.6,365.8 155.5,368.0 157.9,368.1 156.0,369.6 156.6,371.9 154.6,370.6 152.6,371.9 153.3,369.6 151.4,368.1 153.8,368.0ZM146.3,383.5 147.2,385.7 149.6,385.8 147.7,387.3 148.3,389.6 146.3,388.3 144.3,389.6 145.0,387.3 143.1,385.8 145.5,385.7ZM163.5,388.5 164.3,390.8 166.7,390.9 164.9,392.4 165.5,394.7 163.5,393.4 161.5,394.7 162.1,392.4 160.2,390.9 162.6,390.8ZM151.1,386.2 152.0,388.4 154.3,388.6 152.5,390.1 153.1,392.4 151.1,391.1 149.1,392.4 149.7,390.1 147.9,388.6 150.3,388.4ZM144.3,388.8 145.1,391.0 147.5,391.1 145.7,392.6 146.3,394.9 144.3,393.6 142.3,394.9 142.9,392.6 141.1,391.1 143.4,391.0ZM148.7,371.5 149.6,373.7 151.9,373.8 150.1,375.3 150.7,377.6 148.7,376.3 146.7,377.6 147.3,375.3 145.5,373.8 147.9,373.7ZM164.9,385.6 165.8,387.8 168.2,387.9 166.3,389.4 166.9,391.7 164.9,390.4 162.9,391.7 163.6,389.4 161.7,387.9 164.1,387.8ZM160.0,385.4 160.8,387.7 163.2,387.8 161.4,389.3 162.0,391.6 160.0,390.3 158.0,391.6 158.6,389.3 156.8,387.8 159.1,387.7ZM155.0,387.1 155.9,389.4 158.3,389.5 156.4,391.0 157.0,393.3 155.0,392.0 153.0,393.3 153.6,391.0 151.8,389.5 154.2,389.4ZM162.7,408.1 163.5,410.3 165.9,410.4 164.1,411.9 164.7,414.2 162.7,412.9 160.7,414.2 161.3,411.9 159.4,410.4 161.8,410.3ZM170.2,370.4 171.1,372.7 173.4,372.8 171.6,374.3 172.2,376.6 170.2,375.3 168.2,376.6 168.8,374.3 167.0,372.8 169.4,372.7ZM158.3,412.1 159.2,414.4 161.6,414.5 159.7,416.0 160.3,418.3 158.3,417.0 156.3,418.3 157.0,416.0 155.1,414.5 157.5,414.4ZM167.0,363.0 167.9,365.2 170.3,365.3 168.4,366.8 169.0,369.1 167.0,367.8 165.0,369.1 165.7,366.8 163.8,365.3 166.2,365.2ZM144.8,381.6 145.6,383.8 148.0,383.9 146.1,385.4 146.8,387.7 144.8,386.4 142.8,387.7 143.4,385.4 141.5,383.9 143.9,383.8ZM143.2,369.3 144.1,371.5 146.5,371.6 144.6,373.1 145.2,375.4 143.2,374.1 141.3,375.4 141.9,373.1 140.0,371.6 142.4,371.5ZM165.3,409.3 166.2,411.5 168.5,411.7 166.7,413.2 167.3,415.5 165.3,414.2 163.3,415.5 163.9,413.2 162.1,411.7 164.4,411.5ZM161.5,363.3 162.3,365.5 164.7,365.7 162.8,367.2 163.5,369.5 161.5,368.2 159.5,369.5 160.1,367.2 158.2,365.7 160.6,365.5ZM153.3,384.3 154.2,386.5 156.6,386.7 154.7,388.2 155.3,390.5 153.3,389.2 151.3,390.5 152.0,388.2 150.1,386.7 152.5,386.5ZM146.0,380.9 146.9,383.1 149.2,383.3 147.4,384.8 148.0,387.1 146.0,385.8 144.0,387.1 144.6,384.8 142.8,383.3 145.2,383.1ZM157.0,375.3 157.8,377.5 160.2,377.6 158.4,379.1 159.0,381.4 157.0,380.1 155.0,381.4 155.6,379.1 153.8,377.6 156.1,377.5ZM147.1,374.0 147.9,376.3 150.3,376.4 148.4,377.9 149.1,380.2 147.1,378.9 145.1,380.2 145.7,377.9 143.8,376.4 146.2,376.3ZM158.2,381.5 159.0,383.7 161.4,383.8 159.6,385.3 160.2,387.6 158.2,386.3 156.2,387.6 156.8,385.3 154.9,383.8 157.3,383.7ZM141.6,374.8 142.4,377.0 144.8,377.2 142.9,378.7 143.6,381.0 141.6,379.7 139.6,381.0 140.2,378.7 138.3,377.2 140.7,377.0ZM160.3,385.8 161.2,388.1 163.6,388.2 161.7,389.7 162.3,392.0 160.3,390.7 158.3,392.0 159.0,389.7 157.1,388.2 159.5,388.1ZM165.4,413.9 166.3,416.1 168.7,416.2 166.8,417.7 167.4,420.0 165.4,418.7 163.4,420.0 164.1,417.7 162.2,416.2 164.6,416.1ZM144.2,370.8 145.1,373.0 147.5,373.1 145.6,374.6 146.2,377.0 144.2,375.6 142.2,377.0 142.9,374.6 141.0,373.1 143.4,373.0ZM149.4,362.5 150.2,364.7 152.6,364.9 150.8,366.4 151.4,368.7 149.4,367.4 147.4,368.7 148.0,366.4 146.2,364.9 148.5,364.7ZM166.4,370.4 167.2,372.6 169.6,372.7 167.8,374.2 168.4,376.5 166.4,375.2 164.4,376.5 165.0,374.2 163.2,372.7 165.5,372.6ZM158.7,397.3 159.5,399.6 161.9,399.7 160.1,401.2 160.7,403.5 158.7,402.2 156.7,403.5 157.3,401.2 155.5,399.7 157.8,399.6ZM162.3,380.5 163.2,382.8 165.6,382.9 163.7,384.4 164.3,386.7 162.3,385.4 160.3,386.7 161.0,384.4 159.1,382.9 161.5,382.8ZM160.7,403.5 161.5,405.7 163.9,405.8 162.0,407.3 162.7,409.7 160.7,408.3 158.7,409.7 159.3,407.3 157.4,405.8 159.8,405.7ZM155.1,375.3 155.9,377.5 158.3,377.6 156.4,379.1 157.1,381.4 155.1,380.1 153.1,381.4 153.7,379.1 151.8,377.6 154.2,377.5ZM149.3,362.5 150.2,364.7 152.5,364.8 150.7,366.3 151.3,368.6 149.3,367.3 147.3,368.6 147.9,366.3 146.1,364.8 148.5,364.7ZM157.3,369.1 158.2,371.4 160.6,371.5 158.7,373.0 159.3,375.3 157.3,374.0 155.3,375.3 156.0,373.0 154.1,371.5 156.5,371.4ZM144.4,364.4 145.2,366.7 147.6,366.8 145.8,368.3 146.4,370.6 144.4,369.3 142.4,370.6 143.0,368.3 141.2,366.8 143.5,366.7ZM142.6,366.9 143.4,369.1 145.8,369.3 143.9,370.8 144.6,373.1 142.6,371.8 140.6,373.1 141.2,370.8 139.3,369.3 141.7,369.1ZM150.7,373.2 151.5,375.4 153.9,375.6 152.1,377.1 152.7,379.4 150.7,378.1 148.7,379.4 149.3,377.1 147.4,375.6 149.8,375.4ZM164.5,372.3 165.4,374.5 167.8,374.6 165.9,376.1 166.5,378.4 164.5,377.1 162.5,378.4 163.2,376.1 161.3,374.6 163.7,374.5ZM156.5,365.5 157.4,367.7 159.7,367.8 157.9,369.3 158.5,371.6 156.5,370.3 154.5,371.6 155.1,369.3 153.3,367.8 155.7,367.7ZM151.8,355.7 152.6,357.9 155.0,358.1 153.1,359.6 153.8,361.9 151.8,360.6 149.8,361.9 150.4,359.6 148.5,358.1 150.9,357.9ZM163.7,388.2 164.6,390.4 167.0,390.6 165.1,392.1 165.7,394.4 163.7,393.1 161.7,394.4 162.3,392.1 160.5,390.6 162.9,390.4ZM146.9,383.6 147.7,385.8 150.1,385.9 148.3,387.4 148.9,389.7 146.9,388.4 144.9,389.7 145.5,387.4 143.6,385.9 146.0,385.8ZM166.4,381.0 167.2,383.2 169.6,383.3 167.8,384.8 168.4,387.1 166.4,385.8 164.4,387.1 165.0,384.8 163.2,383.3 165.5,383.2ZM153.2,385.5 154.0,387.7 156.4,387.9 154.6,389.4 155.2,391.7 153.2,390.4 151.2,391.7 151.8,389.4 150.0,387.9 152.3,387.7ZM162.3,414.5 163.2,416.8 165.6,416.9 163.7,418.4 164.3,420.7 162.3,419.4 160.3,420.7 160.9,418.4 159.1,416.9 161.5,416.8ZM162.9,393.4 163.8,395.6 166.1,395.7 164.3,397.2 164.9,399.5 162.9,398.2 160.9,399.5 161.5,397.2 159.7,395.7 162.1,395.6ZM153.5,375.8 154.4,378.0 156.8,378.2 154.9,379.6 155.5,382.0 153.5,380.7 151.5,382.0 152.2,379.6 150.3,378.2 152.7,378.0ZM142.7,362.5 143.5,364.7 145.9,364.9 144.1,366.4 144.7,368.7 142.7,367.4 140.7,368.7 141.3,366.4 139.5,364.9 141.8,364.7ZM148.9,364.6 149.8,366.8 152.2,366.9 150.3,368.4 150.9,370.7 148.9,369.4 146.9,370.7 147.5,368.4 145.7,366.9 148.1,366.8ZM149.7,369.4 150.6,371.6 153.0,371.7 151.1,373.2 151.7,375.5 149.7,374.2 147.7,375.5 148.4,373.2 146.5,371.7 148.9,371.6ZM150.1,382.6 150.9,384.9 153.3,385.0 151.5,386.5 152.1,388.8 150.1,387.5 148.1,388.8 148.7,386.5 146.9,385.0 149.2,384.9ZM145.9,381.8 146.7,384.0 149.1,384.1 147.3,385.6 147.9,387.9 145.9,386.6 143.9,387.9 144.5,385.6 142.6,384.1 145.0,384.0ZM150.6,376.4 151.4,378.6 153.8,378.7 152.0,380.2 152.6,382.5 150.6,381.2 148.6,382.5 149.2,380.2 147.4,378.7 149.7,378.6ZM141.0,377.9 141.9,380.1 144.3,380.2 142.4,381.7 143.0,384.0 141.0,382.7 139.0,384.0 139.7,381.7 137.8,380.2 140.2,380.1ZM155.7,385.3 156.6,387.5 158.9,387.6 157.1,389.1 157.7,391.4 155.7,390.1 153.7,391.4 154.3,389.1 152.5,387.6 154.9,387.5ZM147.2,385.4 148.1,387.6 150.5,387.7 148.6,389.2 149.2,391.5 147.2,390.2 145.2,391.5 145.9,389.2 144.0,387.7 146.4,387.6ZM183.7,384.4 184.6,386.6 187.0,386.7 185.1,388.2 185.7,390.5 183.7,389.2 181.7,390.5 182.4,388.2 180.5,386.7 182.9,386.6ZM172.7,406.6 173.6,408.8 175.9,408.9 174.1,410.4 174.7,412.7 172.7,411.4 170.7,412.7 171.3,410.4 169.5,408.9 171.9,408.8ZM169.4,384.7 170.2,386.9 172.6,387.0 170.8,388.5 171.4,390.8 169.4,389.5 167.4,390.8 168.0,388.5 166.2,387.0 168.5,386.9ZM191.9,387.9 192.8,390.2 195.2,390.3 193.3,391.8 193.9,394.1 191.9,392.8 189.9,394.1 190.5,391.8 188.7,390.3 191.1,390.2ZM176.1,372.6 176.9,374.8 179.3,374.9 177.5,376.4 178.1,378.7 176.1,377.4 174.1,378.7 174.7,376.4 172.9,374.9 175.2,374.8ZM181.0,401.2 181.9,403.4 184.3,403.5 182.4,405.0 183.0,407.3 181.0,406.0 179.0,407.3 179.7,405.0 177.8,403.5 180.2,403.4ZM171.5,380.7 172.3,382.9 174.7,383.1 172.8,384.6 173.5,386.9 171.5,385.6 169.5,386.9 170.1,384.6 168.2,383.1 170.6,382.9ZM190.9,400.3 191.8,402.5 194.2,402.6 192.3,404.1 192.9,406.4 190.9,405.1 188.9,406.4 189.5,404.1 187.7,402.6 190.1,402.5ZM182.3,371.5 183.2,373.8 185.6,373.9 183.7,375.4 184.3,377.7 182.3,376.4 180.3,377.7 181.0,375.4 179.1,373.9 181.5,373.8ZM177.1,377.0 177.9,379.3 180.3,379.4 178.4,380.9 179.1,383.2 177.1,381.9 175.1,383.2 175.7,380.9 173.8,379.4 176.2,379.3ZM177.6,404.0 178.4,406.3 180.8,406.4 178.9,407.9 179.6,410.2 177.6,408.9 175.6,410.2 176.2,407.9 174.3,406.4 176.7,406.3ZM174.8,407.5 175.6,409.7 178.0,409.8 176.2,411.3 176.8,413.6 174.8,412.3 172.8,413.6 173.4,411.3 171.5,409.8 173.9,409.7ZM180.9,389.7 181.7,392.0 184.1,392.1 182.3,393.6 182.9,395.9 180.9,394.6 178.9,395.9 179.5,393.6 177.6,392.1 180.0,392.0ZM188.3,373.1 189.1,375.3 191.5,375.4 189.7,376.9 190.3,379.2 188.3,377.9 186.3,379.2 186.9,376.9 185.1,375.4 187.4,375.3ZM170.8,391.9 171.7,394.1 174.1,394.2 172.2,395.7 172.8,398.0 170.8,396.7 168.8,398.0 169.5,395.7 167.6,394.2 170.0,394.1ZM182.3,385.5 183.1,387.7 185.5,387.9 183.7,389.4 184.3,391.7 182.3,390.4 180.3,391.7 180.9,389.4 179.1,387.9 181.4,387.7ZM187.7,375.4 188.6,377.6 190.9,377.7 189.1,379.2 189.7,381.5 187.7,380.2 185.7,381.5 186.3,379.2 184.5,377.7 186.9,377.6ZM188.6,374.3 189.5,376.5 191.9,376.7 190.0,378.2 190.6,380.5 188.6,379.2 186.6,380.5 187.2,378.2 185.4,376.7 187.8,376.5ZM177.1,412.4 178.0,414.6 180.4,414.7 178.5,416.2 179.1,418.5 177.1,417.2 175.1,418.5 175.7,416.2 173.9,414.7 176.3,414.6ZM176.1,395.1 176.9,397.3 179.3,397.5 177.4,398.9 178.0,401.3 176.1,400.0 174.1,401.3 174.7,398.9 172.8,397.5 175.2,397.3ZM169.5,384.1 170.3,386.3 172.7,386.4 170.8,387.9 171.5,390.2 169.5,388.9 167.5,390.2 168.1,387.9 166.2,386.4 168.6,386.3ZM190.9,394.2 191.8,396.4 194.2,396.5 192.3,398.0 192.9,400.3 190.9,399.0 188.9,400.3 189.5,398.0 187.7,396.5 190.1,396.4ZM179.8,406.5 180.7,408.7 183.0,408.8 181.2,410.3 181.8,412.6 179.8,411.3 177.8,412.6 178.4,410.3 176.6,408.8 179.0,408.7ZM187.9,387.9 188.7,390.1 191.1,390.3 189.2,391.8 189.9,394.1 187.9,392.8 185.9,394.1 186.5,391.8 184.6,390.3 187.0,390.1ZM195.2,382.4 196.0,384.6 198.4,384.7 196.6,386.2 197.2,388.5 195.2,387.2 193.2,388.5 193.8,386.2 191.9,384.7 194.3,384.6ZM182.7,377.2 183.6,379.4 186.0,379.6 184.1,381.1 184.7,383.4 182.7,382.1 180.7,383.4 181.4,381.1 179.5,379.6 181.9,379.4ZM183.1,382.2 183.9,384.4 186.3,384.6 184.5,386.1 185.1,388.4 183.1,387.1 181.1,388.4 181.7,386.1 179.9,384.6 182.2,384.4ZM195.5,390.0 196.3,392.2 198.7,392.3 196.8,393.8 197.5,396.1 195.5,394.8 193.5,396.1 194.1,393.8 192.2,392.3 194.6,392.2ZM192.1,378.8 193.0,381.0 195.4,381.1 193.5,382.6 194.1,384.9 192.1,383.6 190.1,384.9 190.7,382.6 188.9,381.1 191.3,381.0ZM193.1,386.7 193.9,389.0 196.3,389.1 194.5,390.6 195.1,392.9 193.1,391.6 191.1,392.9 191.7,390.6 189.8,389.1 192.2,389.0ZM175.9,411.0 176.7,413.2 179.1,413.3 177.2,414.8 177.9,417.1 175.9,415.8 173.9,417.1 174.5,414.8 172.6,413.3 175.0,413.2ZM181.6,384.4 182.5,386.6 184.9,386.7 183.0,388.2 183.6,390.5 181.6,389.2 179.6,390.5 180.3,388.2 178.4,386.7 180.8,386.6ZM197.2,384.2 198.1,386.4 200.5,386.6 198.6,388.1 199.2,390.4 197.2,389.1 195.2,390.4 195.9,388.1 194.0,386.6 196.4,386.4ZM190.7,375.3 191.5,377.5 193.9,377.6 192.1,379.1 192.7,381.4 190.7,380.1 188.7,381.4 189.3,379.1 187.5,377.6 189.8,377.5ZM173.9,410.2 174.7,412.4 177.1,412.5 175.3,414.0 175.9,416.3 173.9,415.0 171.9,416.3 172.5,414.0 170.6,412.5 173.0,412.4ZM201.5,394.9 202.4,397.1 204.8,397.2 202.9,398.7 203.5,401.0 201.5,399.7 199.5,401.0 200.2,398.7 198.3,397.2 200.7,397.1ZM175.1,385.1 175.9,387.3 178.3,387.4 176.5,388.9 177.1,391.3 175.1,389.9 173.1,391.3 173.7,388.9 171.9,387.4 174.2,387.3ZM180.1,373.9 180.9,376.2 183.3,376.3 181.4,377.8 182.1,380.1 180.1,378.8 178.1,380.1 178.7,377.8 176.8,376.3 179.2,376.2ZM187.1,373.8 188.0,376.0 190.3,376.1 188.5,377.6 189.1,379.9 187.1,378.6 185.1,379.9 185.7,377.6 183.9,376.1 186.3,376.0ZM170.9,392.6 171.8,394.8 174.2,395.0 172.3,396.5 172.9,398.8 170.9,397.5 168.9,398.8 169.6,396.5 167.7,395.0 170.1,394.8ZM194.0,384.8 194.8,387.1 197.2,387.2 195.4,388.7 196.0,391.0 194.0,389.7 192.0,391.0 192.6,388.7 190.7,387.2 193.1,387.1ZM192.3,402.3 193.2,404.6 195.6,404.7 193.7,406.2 194.3,408.5 192.3,407.2 190.3,408.5 190.9,406.2 189.1,404.7 191.5,404.6ZM197.9,389.8 198.8,392.1 201.2,392.2 199.3,393.7 199.9,396.0 197.9,394.7 195.9,396.0 196.5,393.7 194.7,392.2 197.1,392.1ZM186.0,375.4 186.8,377.6 189.2,377.7 187.4,379.2 188.0,381.6 186.0,380.2 184.0,381.6 184.6,379.2 182.7,377.7 185.1,377.6ZM194.5,377.6 195.4,379.8 197.8,380.0 195.9,381.5 196.5,383.8 194.5,382.5 192.5,383.8 193.1,381.5 191.3,380.0 193.7,379.8ZM183.5,392.8 184.4,395.0 186.8,395.1 184.9,396.6 185.5,398.9 183.5,397.6 181.5,398.9 182.1,396.6 180.3,395.1 182.7,395.0ZM181.2,375.4 182.1,377.6 184.4,377.7 182.6,379.2 183.2,381.5 181.2,380.2 179.2,381.5 179.8,379.2 178.0,377.7 180.3,377.6ZM198.2,392.1 199.1,394.3 201.5,394.4 199.6,395.9 200.2,398.2 198.2,396.9 196.2,398.2 196.8,395.9 195.0,394.4 197.4,394.3ZM185.8,391.8 186.7,394.0 189.0,394.1 187.2,395.6 187.8,397.9 185.8,396.6 183.8,397.9 184.4,395.6 182.6,394.1 184.9,394.0ZM189.9,392.0 190.7,394.2 193.1,394.3 191.2,395.8 191.9,398.1 189.9,396.8 187.9,398.1 188.5,395.8 186.6,394.3 189.0,394.2ZM178.2,400.2 179.1,402.4 181.4,402.6 179.6,404.1 180.2,406.4 178.2,405.1 176.2,406.4 176.8,404.1 175.0,402.6 177.4,402.4ZM191.8,388.0 192.6,390.2 195.0,390.4 193.2,391.9 193.8,394.2 191.8,392.9 189.8,394.2 190.4,391.9 188.6,390.4 190.9,390.2ZM180.7,407.1 181.5,409.4 183.9,409.5 182.1,411.0 182.7,413.3 180.7,412.0 178.7,413.3 179.3,411.0 177.5,409.5 179.8,409.4ZM175.9,404.6 176.7,406.9 179.1,407.0 177.2,408.5 177.9,410.8 175.9,409.5 173.9,410.8 174.5,408.5 172.6,407.0 175.0,406.9ZM192.8,395.7 193.7,398.0 196.0,398.1 194.2,399.6 194.8,401.9 192.8,400.6 190.8,401.9 191.4,399.6 189.6,398.1 192.0,398.0ZM188.3,395.2 189.1,397.4 191.5,397.5 189.7,399.0 190.3,401.3 188.3,400.0 186.3,401.3 186.9,399.0 185.1,397.5 187.4,397.4ZM191.1,385.9 191.9,388.1 194.3,388.2 192.4,389.7 193.1,392.1 191.1,390.8 189.1,392.1 189.7,389.7 187.8,388.2 190.2,388.1ZM170.3,376.1 171.2,378.3 173.6,378.5 171.7,380.0 172.3,382.3 170.3,381.0 168.3,382.3 169.0,380.0 167.1,378.5 169.5,378.3ZM188.7,375.8 189.5,378.0 191.9,378.1 190.1,379.6 190.7,381.9 188.7,380.6 186.7,381.9 187.3,379.6 185.4,378.1 187.8,378.0ZM170.2,383.6 171.1,385.8 173.4,385.9 171.6,387.4 172.2,389.7 170.2,388.4 168.2,389.7 168.8,387.4 167.0,385.9 169.4,385.8ZM184.0,391.7 184.8,393.9 187.2,394.0 185.4,395.5 186.0,397.9 184.0,396.6 182.0,397.9 182.6,395.5 180.8,394.0 183.1,393.9ZM179.4,402.8 180.2,405.1 182.6,405.2 180.7,406.7 181.3,409.0 179.4,407.7 177.4,409.0 178.0,406.7 176.1,405.2 178.5,405.1ZM171.6,383.3 172.5,385.5 174.8,385.6 173.0,387.1 173.6,389.4 171.6,388.1 169.6,389.4 170.2,387.1 168.4,385.6 170.8,385.5ZM175.9,402.7 176.7,404.9 179.1,405.0 177.2,406.5 177.9,408.8 175.9,407.5 173.9,408.8 174.5,406.5 172.6,405.0 175.0,404.9ZM174.5,377.6 175.4,379.8 177.8,379.9 175.9,381.4 176.5,383.7 174.5,382.4 172.5,383.7 173.2,381.4 171.3,379.9 173.7,379.8ZM171.8,373.0 172.6,375.2 175.0,375.4 173.1,376.9 173.8,379.2 171.8,377.9 169.8,379.2 170.4,376.9 168.5,375.4 170.9,375.2ZM180.7,400.9 181.5,403.2 183.9,403.3 182.0,404.8 182.7,407.1 180.7,405.8 178.7,407.1 179.3,404.8 177.4,403.3 179.8,403.2ZM183.9,391.1 184.7,393.3 187.1,393.4 185.3,394.9 185.9,397.2 183.9,395.9 181.9,397.2 182.5,394.9 180.7,393.4 183.0,393.3ZM180.6,396.2 181.4,398.4 183.8,398.5 181.9,400.0 182.6,402.3 180.6,401.0 178.6,402.3 179.2,400.0 177.3,398.5 179.7,398.4ZM176.0,379.1 176.9,381.4 179.3,381.5 177.4,383.0 178.0,385.3 176.0,384.0 174.0,385.3 174.7,383.0 172.8,381.5 175.2,381.4ZM185.6,376.5 186.5,378.7 188.8,378.8 187.0,380.3 187.6,382.6 185.6,381.3 183.6,382.6 184.2,380.3 182.4,378.8 184.8,378.7ZM176.5,405.9 177.4,408.2 179.8,408.3 177.9,409.8 178.5,412.1 176.5,410.8 174.5,412.1 175.2,409.8 173.3,408.3 175.7,408.2ZM188.6,377.5 189.4,379.8 191.8,379.9 190.0,381.4 190.6,383.7 188.6,382.4 186.6,383.7 187.2,381.4 185.3,379.9 187.7,379.8ZM170.0,380.0 170.8,382.2 173.2,382.3 171.4,383.8 172.0,386.1 170.0,384.8 168.0,386.1 168.6,383.8 166.8,382.3 169.1,382.2ZM178.2,403.6 179.1,405.8 181.4,406.0 179.6,407.5 180.2,409.8 178.2,408.5 176.2,409.8 176.8,407.5 175.0,406.0 177.4,405.8ZM201.2,403.0 202.0,405.2 204.4,405.3 202.5,406.8 203.2,409.1 201.2,407.8 199.2,409.1 199.8,406.8 197.9,405.3 200.3,405.2ZM198.7,409.5 199.5,411.7 201.9,411.8 200.0,413.3 200.7,415.6 198.7,414.3 196.7,415.6 197.3,413.3 195.4,411.8 197.8,411.7ZM197.8,409.0 198.7,411.2 201.0,411.3 199.2,412.8 199.8,415.1 197.8,413.8 195.8,415.1 196.4,412.8 194.6,411.3 197.0,411.2ZM178.8,378.7 179.7,381.0 182.0,381.1 180.2,382.6 180.8,384.9 178.8,383.6 176.8,384.9 177.4,382.6 175.6,381.1 177.9,381.0ZM188.5,389.7 189.4,392.0 191.8,392.1 189.9,393.6 190.5,395.9 188.5,394.6 186.5,395.9 187.2,393.6 185.3,392.1 187.7,392.0ZM179.8,405.3 180.6,407.5 183.0,407.6 181.2,409.1 181.8,411.4 179.8,410.1 177.8,411.4 178.4,409.1 176.6,407.6 178.9,407.5ZM181.6,377.0 182.4,379.2 184.8,379.4 182.9,380.9 183.6,383.2 181.6,381.9 179.6,383.2 180.2,380.9 178.3,379.4 180.7,379.2ZM177.4,388.4 178.2,390.6 180.6,390.7 178.8,392.2 179.4,394.5 177.4,393.2 175.4,394.5 176.0,392.2 174.2,390.7 176.5,390.6ZM188.8,393.2 189.6,395.4 192.0,395.5 190.1,397.0 190.8,399.3 188.8,398.0 186.8,399.3 187.4,397.0 185.5,395.5 187.9,395.4ZM183.0,376.0 183.8,378.2 186.2,378.3 184.3,379.8 185.0,382.1 183.0,380.8 181.0,382.1 181.6,379.8 179.7,378.3 182.1,378.2ZM181.7,382.2 182.5,384.5 184.9,384.6 183.1,386.1 183.7,388.4 181.7,387.1 179.7,388.4 180.3,386.1 178.4,384.6 180.8,384.5ZM173.8,392.1 174.7,394.3 177.0,394.4 175.2,395.9 175.8,398.2 173.8,396.9 171.8,398.2 172.4,395.9 170.6,394.4 172.9,394.3ZM174.4,399.6 175.3,401.8 177.6,402.0 175.8,403.5 176.4,405.8 174.4,404.5 172.4,405.8 173.0,403.5 171.2,402.0 173.6,401.8ZM190.4,373.8 191.3,376.0 193.6,376.1 191.8,377.6 192.4,379.9 190.4,378.6 188.4,379.9 189.0,377.6 187.2,376.1 189.5,376.0ZM189.3,382.8 190.1,385.0 192.5,385.2 190.6,386.7 191.3,389.0 189.3,387.7 187.3,389.0 187.9,386.7 186.0,385.2 188.4,385.0ZM183.2,394.9 184.1,397.1 186.4,397.2 184.6,398.7 185.2,401.0 183.2,399.7 181.2,401.0 181.8,398.7 180.0,397.2 182.3,397.1ZM193.9,407.4 194.7,409.6 197.1,409.7 195.3,411.2 195.9,413.5 193.9,412.2 191.9,413.5 192.5,411.2 190.7,409.7 193.0,409.6ZM192.9,377.1 193.8,379.3 196.2,379.5 194.3,381.0 194.9,383.3 192.9,382.0 190.9,383.3 191.6,381.0 189.7,379.5 192.1,379.3ZM186.4,382.7 187.3,384.9 189.7,385.0 187.8,386.5 188.4,388.8 186.4,387.5 184.4,388.8 185.0,386.5 183.2,385.0 185.6,384.9ZM179.0,405.1 179.9,407.3 182.2,407.5 180.4,409.0 181.0,411.3 179.0,410.0 177.0,411.3 177.6,409.0 175.8,407.5 178.2,407.3ZM185.5,372.1 186.3,374.3 188.7,374.4 186.9,375.9 187.5,378.2 185.5,376.9 183.5,378.2 184.1,375.9 182.2,374.4 184.6,374.3ZM192.4,380.4 193.2,382.6 195.6,382.8 193.8,384.3 194.4,386.6 192.4,385.3 190.4,386.6 191.0,384.3 189.1,382.8 191.5,382.6ZM186.1,370.8 187.0,373.0 189.4,373.2 187.5,374.7 188.1,377.0 186.1,375.7 184.1,377.0 184.8,374.7 182.9,373.2 185.3,373.0ZM173.6,371.9 174.4,374.1 176.8,374.3 174.9,375.8 175.6,378.1 173.6,376.8 171.6,378.1 172.2,375.8 170.3,374.3 172.7,374.1ZM190.1,385.4 190.9,387.6 193.3,387.7 191.5,389.2 192.1,391.5 190.1,390.2 188.1,391.5 188.7,389.2 186.8,387.7 189.2,387.6ZM198.2,390.4 199.1,392.6 201.4,392.7 199.6,394.2 200.2,396.5 198.2,395.2 196.2,396.5 196.8,394.2 195.0,392.7 197.4,392.6ZM172.6,398.7 173.4,400.9 175.8,401.0 174.0,402.5 174.6,404.8 172.6,403.5 170.6,404.8 171.2,402.5 169.4,401.0 171.7,400.9ZM180.2,379.7 181.1,382.0 183.4,382.1 181.6,383.6 182.2,385.9 180.2,384.6 178.2,385.9 178.8,383.6 177.0,382.1 179.4,382.0ZM178.9,384.9 179.7,387.2 182.1,387.3 180.3,388.8 180.9,391.1 178.9,389.8 176.9,391.1 177.5,388.8 175.7,387.3 178.0,387.2ZM174.2,395.2 175.1,397.4 177.4,397.5 175.6,399.0 176.2,401.3 174.2,400.0 172.2,401.3 172.8,399.0 171.0,397.5 173.4,397.4ZM197.5,393.3 198.4,395.5 200.8,395.6 198.9,397.1 199.5,399.4 197.5,398.1 195.5,399.4 196.1,397.1 194.3,395.6 196.7,395.5ZM197.4,398.1 198.3,400.3 200.7,400.4 198.8,401.9 199.4,404.2 197.4,402.9 195.4,404.2 196.1,401.9 194.2,400.4 196.6,400.3ZM198.9,401.6 199.7,403.8 202.1,403.9 200.3,405.4 200.9,407.7 198.9,406.4 196.9,407.7 197.5,405.4 195.6,403.9 198.0,403.8ZM177.3,374.1 178.1,376.3 180.5,376.4 178.7,377.9 179.3,380.2 177.3,378.9 175.3,380.2 175.9,377.9 174.0,376.4 176.4,376.3ZM175.9,382.5 176.7,384.7 179.1,384.8 177.3,386.3 177.9,388.6 175.9,387.3 173.9,388.6 174.5,386.3 172.7,384.8 175.0,384.7ZM193.4,383.2 194.3,385.5 196.7,385.6 194.8,387.1 195.4,389.4 193.4,388.1 191.4,389.4 192.1,387.1 190.2,385.6 192.6,385.5ZM188.4,392.1 189.3,394.4 191.7,394.5 189.8,396.0 190.4,398.3 188.4,397.0 186.4,398.3 187.1,396.0 185.2,394.5 187.6,394.4ZM174.3,402.6 175.2,404.9 177.6,405.0 175.7,406.5 176.3,408.8 174.3,407.5 172.3,408.8 173.0,406.5 171.1,405.0 173.5,404.9ZM172.6,377.1 173.4,379.3 175.8,379.4 174.0,380.9 174.6,383.2 172.6,381.9 170.6,383.2 171.2,380.9 169.3,379.4 171.7,379.3ZM175.4,376.7 176.2,379.0 178.6,379.1 176.7,380.6 177.4,382.9 175.4,381.6 173.4,382.9 174.0,380.6 172.1,379.1 174.5,379.0ZM191.3,386.6 192.2,388.9 194.6,389.0 192.7,390.5 193.3,392.8 191.3,391.5 189.3,392.8 189.9,390.5 188.1,389.0 190.5,388.9ZM199.8,399.8 200.7,402.0 203.1,402.2 201.2,403.7 201.8,406.0 199.8,404.7 197.8,406.0 198.5,403.7 196.6,402.2 199.0,402.0ZM184.9,370.3 185.7,372.6 188.1,372.7 186.2,374.2 186.9,376.5 184.9,375.2 182.9,376.5 183.5,374.2 181.6,372.7 184.0,372.6ZM195.5,385.5 196.3,387.8 198.7,387.9 196.9,389.4 197.5,391.7 195.5,390.4 193.5,391.7 194.1,389.4 192.2,387.9 194.6,387.8ZM183.8,396.0 184.6,398.3 187.0,398.4 185.1,399.9 185.8,402.2 183.8,400.9 181.8,402.2 182.4,399.9 180.5,398.4 182.9,398.3ZM152.0,414.6 152.9,416.8 155.2,416.9 153.4,418.4 154.0,420.8 152.0,419.4 150.0,420.8 150.6,418.4 148.8,416.9 151.1,416.8ZM147.0,408.6 147.9,410.8 150.2,410.9 148.4,412.4 149.0,414.8 147.0,413.4 145.0,414.8 145.6,412.4 143.8,410.9 146.1,410.8ZM145.0,400.6 145.9,402.8 148.2,402.9 146.4,404.4 147.0,406.8 145.0,405.4 143.0,406.8 143.6,404.4 141.8,402.9 144.1,402.8ZM186.0,414.6 186.9,416.8 189.2,416.9 187.4,418.4 188.0,420.8 186.0,419.4 184.0,420.8 184.6,418.4 182.8,416.9 185.1,416.8ZM192.0,412.6 192.9,414.8 195.2,414.9 193.4,416.4 194.0,418.8 192.0,417.4 190.0,418.8 190.6,416.4 188.8,414.9 191.1,414.8ZM189.0,396.6 189.9,398.8 192.2,398.9 190.4,400.4 191.0,402.8 189.0,401.4 187.0,402.8 187.6,400.4 185.8,398.9 188.1,398.8ZM196.0,414.6 196.9,416.8 199.2,416.9 197.4,418.4 198.0,420.8 196.0,419.4 194.0,420.8 194.6,418.4 192.8,416.9 195.1,416.8ZM178.0,414.6 178.9,416.8 181.2,416.9 179.4,418.4 180.0,420.8 178.0,419.4 176.0,420.8 176.6,418.4 174.8,416.9 177.1,416.8ZM143.0,388.6 143.9,390.8 146.2,390.9 144.4,392.4 145.0,394.8 143.0,393.4 141.0,394.8 141.6,392.4 139.8,390.9 142.1,390.8ZM150.0,362.6 150.9,364.8 153.2,364.9 151.4,366.4 152.0,368.8 150.0,367.4 148.0,368.8 148.6,366.4 146.8,364.9 149.1,364.8ZM160.0,356.6 160.9,358.8 163.2,358.9 161.4,360.4 162.0,362.8 160.0,361.4 158.0,362.8 158.6,360.4 156.8,358.9 159.1,358.8Z" fill="#ee2828" clip-path="url(#c01)"/>
<path d="M60.7,387.4 61.5,389.7 63.9,389.8 62.1,391.3 62.7,393.6 60.7,392.3 58.7,393.6 59.3,391.3 57.5,389.8 59.8,389.7ZM61.6,389.2 62.5,391.4 64.9,391.5 63.0,393.0 63.6,395.3 61.6,394.0 59.6,395.3 60.3,393.0 58.4,391.5 60.8,391.4ZM56.1,384.4 57.0,386.6 59.4,386.7 57.5,388.2 58.1,390.5 56.1,389.2 54.1,390.5 54.8,388.2 52.9,386.7 55.3,386.6ZM63.7,402.4 64.6,404.6 66.9,404.7 65.1,406.2 65.7,408.5 63.7,407.2 61.7,408.5 62.3,406.2 60.5,404.7 62.9,404.6ZM54.6,371.0 55.5,373.2 57.8,373.4 56.0,374.9 56.6,377.2 54.6,375.9 52.6,377.2 53.2,374.9 51.4,373.4 53.7,373.2ZM64.1,391.0 65.0,393.2 67.4,393.3 65.5,394.8 66.1,397.1 64.1,395.8 62.1,397.1 62.7,394.8 60.9,393.3 63.3,393.2ZM55.7,352.6 56.5,354.8 58.9,354.9 57.1,356.4 57.7,358.7 55.7,357.4 53.7,358.7 54.3,356.4 52.4,354.9 54.8,354.8ZM62.0,355.4 62.8,357.6 65.2,357.8 63.4,359.3 64.0,361.6 62.0,360.3 60.0,361.6 60.6,359.3 58.7,357.8 61.1,357.6ZM56.2,367.1 57.1,369.3 59.5,369.4 57.6,370.9 58.2,373.2 56.2,371.9 54.2,373.2 54.9,370.9 53.0,369.4 55.4,369.3ZM60.5,405.5 61.3,407.7 63.7,407.9 61.9,409.4 62.5,411.7 60.5,410.4 58.5,411.7 59.1,409.4 57.3,407.9 59.6,407.7ZM61.8,392.6 62.7,394.8 65.1,394.9 63.2,396.4 63.8,398.7 61.8,397.4 59.8,398.7 60.4,396.4 58.6,394.9 61.0,394.8ZM61.5,394.0 62.3,396.2 64.7,396.3 62.9,397.8 63.5,400.1 61.5,398.8 59.5,400.1 60.1,397.8 58.3,396.3 60.6,396.2ZM60.8,369.4 61.6,371.6 64.0,371.8 62.2,373.3 62.8,375.6 60.8,374.3 58.8,375.6 59.4,373.3 57.5,371.8 59.9,371.6ZM58.4,366.3 59.2,368.5 61.6,368.6 59.7,370.1 60.4,372.4 58.4,371.1 56.4,372.4 57.0,370.1 55.1,368.6 57.5,368.5ZM57.9,356.1 58.8,358.3 61.1,358.4 59.3,359.9 59.9,362.2 57.9,360.9 55.9,362.2 56.5,359.9 54.7,358.4 57.1,358.3ZM54.5,372.9 55.3,375.1 57.7,375.2 55.9,376.7 56.5,379.0 54.5,377.7 52.5,379.0 53.1,376.7 51.2,375.2 53.6,375.1ZM55.0,367.4 55.9,369.6 58.2,369.7 56.4,371.2 57.0,373.5 55.0,372.2 53.0,373.5 53.6,371.2 51.8,369.7 54.2,369.6ZM54.7,355.4 55.6,357.7 58.0,357.8 56.1,359.3 56.7,361.6 54.7,360.3 52.7,361.6 53.3,359.3 51.5,357.8 53.9,357.7ZM63.1,288.0 64.0,290.2 66.3,290.3 64.5,291.8 65.1,294.2 63.1,292.8 61.1,294.2 61.7,291.8 59.9,290.3 62.2,290.2ZM71.9,300.0 72.8,302.2 75.1,302.3 73.3,303.8 73.9,306.2 71.9,304.8 69.9,306.2 70.5,303.8 68.7,302.3 71.0,302.2ZM75.2,301.8 76.1,304.0 78.4,304.1 76.6,305.6 77.2,308.0 75.2,306.6 73.2,308.0 73.8,305.6 72.0,304.1 74.3,304.0ZM78.7,299.5 79.6,301.7 81.9,301.8 80.1,303.3 80.7,305.7 78.7,304.3 76.7,305.7 77.3,303.3 75.5,301.8 77.8,301.7ZM61.8,315.3 62.7,317.5 65.0,317.6 63.2,319.1 63.8,321.5 61.8,320.1 59.8,321.5 60.4,319.1 58.6,317.6 60.9,317.5ZM84.9,312.3 85.8,314.5 88.1,314.6 86.3,316.1 86.9,318.5 84.9,317.1 82.9,318.5 83.5,316.1 81.7,314.6 84.0,314.5ZM83.1,316.1 84.0,318.3 86.3,318.4 84.5,319.9 85.1,322.3 83.1,320.9 81.1,322.3 81.7,319.9 79.9,318.4 82.2,318.3ZM88.9,317.9 89.8,320.1 92.1,320.2 90.3,321.7 90.9,324.1 88.9,322.8 86.9,324.1 87.5,321.7 85.7,320.2 88.0,320.1ZM85.9,323.1 86.8,325.3 89.1,325.4 87.3,326.9 87.9,329.3 85.9,327.9 83.9,329.3 84.5,326.9 82.7,325.4 85.0,325.3ZM61.8,333.6 62.7,335.8 65.0,335.9 63.2,337.4 63.8,339.8 61.8,338.4 59.8,339.8 60.4,337.4 58.6,335.9 60.9,335.8ZM72.3,331.6 73.2,333.8 75.5,333.9 73.7,335.4 74.3,337.8 72.3,336.4 70.3,337.8 70.9,335.4 69.1,333.9 71.4,333.8ZM75.8,330.2 76.7,332.4 79.0,332.5 77.2,334.0 77.8,336.4 75.8,335.1 73.8,336.4 74.4,334.0 72.6,332.5 74.9,332.4ZM94.2,335.8 95.1,338.0 97.4,338.1 95.6,339.6 96.2,342.0 94.2,340.6 92.2,342.0 92.8,339.6 91.0,338.1 93.3,338.0ZM52.6,362.6 53.5,364.8 55.8,364.9 54.0,366.4 54.6,368.8 52.6,367.4 50.6,368.8 51.2,366.4 49.4,364.9 51.7,364.8ZM53.7,382.2 54.6,384.4 56.9,384.5 55.1,386.0 55.7,388.4 53.7,387.1 51.7,388.4 52.3,386.0 50.5,384.5 52.8,384.4ZM59.1,393.2 60.0,395.4 62.3,395.5 60.5,397.0 61.1,399.4 59.1,398.1 57.1,399.4 57.7,397.0 55.9,395.5 58.2,395.4ZM62.4,400.8 63.3,403.0 65.6,403.1 63.8,404.6 64.4,407.0 62.4,405.6 60.4,407.0 61.0,404.6 59.2,403.1 61.5,403.0ZM67.3,409.0 68.2,411.2 70.5,411.3 68.7,412.8 69.3,415.2 67.3,413.8 65.3,415.2 65.9,412.8 64.1,411.3 66.4,411.2ZM56.9,342.9 57.8,345.1 60.1,345.2 58.3,346.7 58.9,349.1 56.9,347.8 54.9,349.1 55.5,346.7 53.7,345.2 56.0,345.1ZM61.3,333.0 62.2,335.2 64.5,335.3 62.7,336.8 63.3,339.2 61.3,337.8 59.3,339.2 59.9,336.8 58.1,335.3 60.4,335.2ZM95.2,337.4 96.1,339.6 98.4,339.7 96.6,341.2 97.2,343.6 95.2,342.2 93.2,343.6 93.8,341.2 92.0,339.7 94.3,339.6ZM99.6,349.4 100.5,351.6 102.8,351.7 101.0,353.2 101.6,355.6 99.6,354.2 97.6,355.6 98.2,353.2 96.4,351.7 98.7,351.6ZM57.4,372.0 58.3,374.2 60.6,374.3 58.8,375.8 59.4,378.2 57.4,376.8 55.4,378.2 56.0,375.8 54.2,374.3 56.5,374.2ZM94.4,337.8 95.3,340.0 97.6,340.1 95.8,341.6 96.4,344.0 94.4,342.6 92.4,344.0 93.0,341.6 91.2,340.1 93.5,340.0ZM103.0,352.6 103.9,354.8 106.2,354.9 104.4,356.4 105.0,358.8 103.0,357.4 101.0,358.8 101.6,356.4 99.8,354.9 102.1,354.8ZM108.0,358.6 108.9,360.8 111.2,360.9 109.4,362.4 110.0,364.8 108.0,363.4 106.0,364.8 106.6,362.4 104.8,360.9 107.1,360.8ZM122.0,358.6 122.9,360.8 125.2,360.9 123.4,362.4 124.0,364.8 122.0,363.4 120.0,364.8 120.6,362.4 118.8,360.9 121.1,360.8ZM128.0,362.6 128.9,364.8 131.2,364.9 129.4,366.4 130.0,368.8 128.0,367.4 126.0,368.8 126.6,366.4 124.8,364.9 127.1,364.8ZM134.0,368.6 134.9,370.8 137.2,370.9 135.4,372.4 136.0,374.8 134.0,373.4 132.0,374.8 132.6,372.4 130.8,370.9 133.1,370.8ZM140.0,374.6 140.9,376.8 143.2,376.9 141.4,378.4 142.0,380.8 140.0,379.4 138.0,380.8 138.6,378.4 136.8,376.9 139.1,376.8ZM145.0,380.6 145.9,382.8 148.2,382.9 146.4,384.4 147.0,386.8 145.0,385.4 143.0,386.8 143.6,384.4 141.8,382.9 144.1,382.8Z" fill="#4472c4" clip-path="url(#c01)"/>
<path d="M296.00,269.00 L302.90,271.00 L310.80,277.00 L318.60,282.10 L326.50,284.70 L334.40,283.40 L341.00,282.50 L345.00,285.00 L345.00,306.00 L350.50,310.00 L361.00,308.00 L369.80,304.50 L382.00,305.00 L392.50,307.00 L401.30,307.00 L406.50,313.50 L404.80,318.00 L392.50,322.50 L378.50,322.00 L366.30,321.50 L355.80,325.00 L348.80,323.50 L338.00,325.70 L330.20,329.70 L325.00,335.00 L319.70,339.00 L312.00,336.00 L303.00,326.00 L300.00,315.00 L301.00,300.00 L300.00,288.00 L297.00,280.00Z" fill="#4472c4" clip-path="url(#c11)"/>
<path d="M295.7,266.6 296.6,268.8 298.9,269.0 297.1,270.5 297.7,272.8 295.7,271.5 293.7,272.8 294.3,270.5 292.5,269.0 294.9,268.8ZM299.2,267.3 300.1,269.5 302.5,269.7 300.6,271.2 301.2,273.5 299.2,272.2 297.2,273.5 297.9,271.2 296.0,269.7 298.4,269.5ZM303.3,267.1 304.1,269.4 306.5,269.5 304.6,271.0 305.3,273.3 303.3,272.0 301.3,273.3 301.9,271.0 300.0,269.5 302.4,269.4ZM305.5,269.6 306.4,271.8 308.8,271.9 306.9,273.4 307.5,275.7 305.5,274.4 303.5,275.7 304.2,273.4 302.3,271.9 304.7,271.8ZM307.5,272.5 308.3,274.8 310.7,274.9 308.8,276.4 309.5,278.7 307.5,277.4 305.5,278.7 306.1,276.4 304.2,274.9 306.6,274.8ZM310.8,273.6 311.6,275.9 314.0,276.0 312.2,277.5 312.8,279.8 310.8,278.5 308.8,279.8 309.4,277.5 307.5,276.0 309.9,275.9ZM312.7,276.4 313.5,278.6 315.9,278.7 314.1,280.2 314.7,282.5 312.7,281.2 310.7,282.5 311.3,280.2 309.4,278.7 311.8,278.6ZM316.0,277.0 316.8,279.2 319.2,279.4 317.4,280.9 318.0,283.2 316.0,281.9 314.0,283.2 314.6,280.9 312.8,279.4 315.1,279.2ZM318.5,278.9 319.4,281.2 321.8,281.3 319.9,282.8 320.5,285.1 318.5,283.8 316.5,285.1 317.1,282.8 315.3,281.3 317.7,281.2ZM322.7,279.4 323.6,281.7 326.0,281.8 324.1,283.3 324.7,285.6 322.7,284.3 320.7,285.6 321.4,283.3 319.5,281.8 321.9,281.7ZM326.8,282.9 327.6,285.2 330.0,285.3 328.1,286.8 328.8,289.1 326.8,287.8 324.8,289.1 325.4,286.8 323.5,285.3 325.9,285.2ZM330.6,281.4 331.4,283.6 333.8,283.8 332.0,285.3 332.6,287.6 330.6,286.3 328.6,287.6 329.2,285.3 327.3,283.8 329.7,283.6ZM334.6,281.6 335.5,283.9 337.9,284.0 336.0,285.5 336.6,287.8 334.6,286.5 332.6,287.8 333.2,285.5 331.4,284.0 333.8,283.9ZM337.9,281.1 338.8,283.3 341.1,283.4 339.3,284.9 339.9,287.2 337.9,285.9 335.9,287.2 336.5,284.9 334.7,283.4 337.1,283.3ZM339.9,280.8 340.8,283.0 343.2,283.1 341.3,284.6 341.9,286.9 339.9,285.6 337.9,286.9 338.6,284.6 336.7,283.1 339.1,283.0ZM344.4,281.6 345.3,283.8 347.6,283.9 345.8,285.4 346.4,287.8 344.4,286.4 342.4,287.8 343.0,285.4 341.2,283.9 343.6,283.8ZM345.1,284.6 345.9,286.8 348.3,286.9 346.5,288.4 347.1,290.8 345.1,289.4 343.1,290.8 343.7,288.4 341.8,286.9 344.2,286.8ZM343.5,287.6 344.4,289.8 346.7,289.9 344.9,291.4 345.5,293.8 343.5,292.4 341.5,293.8 342.1,291.4 340.3,289.9 342.7,289.8ZM343.6,290.6 344.4,292.8 346.8,292.9 345.0,294.4 345.6,296.8 343.6,295.4 341.6,296.8 342.2,294.4 340.4,292.9 342.7,292.8ZM343.4,293.6 344.2,295.8 346.6,295.9 344.7,297.4 345.4,299.8 343.4,298.4 341.4,299.8 342.0,297.4 340.1,295.9 342.5,295.8ZM344.3,296.6 345.1,298.8 347.5,298.9 345.7,300.4 346.3,302.8 344.3,301.4 342.3,302.8 342.9,300.4 341.1,298.9 343.4,298.8ZM344.7,299.6 345.5,301.8 347.9,301.9 346.1,303.4 346.7,305.8 344.7,304.4 342.7,305.8 343.3,303.4 341.5,301.9 343.8,301.8ZM344.2,303.6 345.1,305.9 347.5,306.0 345.6,307.5 346.2,309.8 344.2,308.5 342.2,309.8 342.9,307.5 341.0,306.0 343.4,305.9ZM347.5,305.0 348.3,307.2 350.7,307.3 348.8,308.8 349.5,311.1 347.5,309.8 345.5,311.1 346.1,308.8 344.2,307.3 346.6,307.2ZM350.5,306.8 351.4,309.0 353.8,309.1 351.9,310.6 352.5,312.9 350.5,311.6 348.5,312.9 349.2,310.6 347.3,309.1 349.7,309.0ZM354.4,307.8 355.2,310.0 357.6,310.2 355.7,311.7 356.4,314.0 354.4,312.7 352.4,314.0 353.0,311.7 351.1,310.2 353.5,310.0ZM357.4,304.9 358.3,307.1 360.7,307.3 358.8,308.8 359.4,311.1 357.4,309.8 355.4,311.1 356.1,308.8 354.2,307.3 356.6,307.1ZM360.9,304.2 361.7,306.5 364.1,306.6 362.2,308.1 362.9,310.4 360.9,309.1 358.9,310.4 359.5,308.1 357.6,306.6 360.0,306.5ZM364.6,305.1 365.4,307.3 367.8,307.4 366.0,308.9 366.6,311.2 364.6,309.9 362.6,311.2 363.2,308.9 361.3,307.4 363.7,307.3ZM367.0,302.6 367.9,304.9 370.3,305.0 368.4,306.5 369.0,308.8 367.0,307.5 365.0,308.8 365.6,306.5 363.8,305.0 366.2,304.9ZM369.8,301.7 370.6,303.9 373.0,304.0 371.2,305.5 371.8,307.8 369.8,306.5 367.8,307.8 368.4,305.5 366.5,304.0 368.9,303.9ZM372.8,302.8 373.6,305.0 376.0,305.2 374.2,306.7 374.8,309.0 372.8,307.7 370.8,309.0 371.4,306.7 369.6,305.2 371.9,305.0ZM375.9,301.2 376.8,303.4 379.1,303.5 377.3,305.0 377.9,307.3 375.9,306.0 373.9,307.3 374.5,305.0 372.7,303.5 375.1,303.4ZM378.9,302.8 379.7,305.0 382.1,305.1 380.3,306.6 380.9,308.9 378.9,307.6 376.9,308.9 377.5,306.6 375.7,305.1 378.0,305.0ZM382.0,301.6 382.8,303.9 385.2,304.0 383.4,305.5 384.0,307.8 382.0,306.5 380.0,307.8 380.6,305.5 378.8,304.0 381.1,303.9ZM385.2,303.8 386.1,306.0 388.4,306.1 386.6,307.6 387.2,309.9 385.2,308.6 383.2,309.9 383.8,307.6 382.0,306.1 384.4,306.0ZM389.0,302.8 389.9,305.1 392.2,305.2 390.4,306.7 391.0,309.0 389.0,307.7 387.0,309.0 387.6,306.7 385.8,305.2 388.2,305.1ZM392.5,304.7 393.4,306.9 395.7,307.1 393.9,308.6 394.5,310.9 392.5,309.6 390.5,310.9 391.1,308.6 389.3,307.1 391.6,306.9ZM395.4,303.0 396.3,305.3 398.7,305.4 396.8,306.9 397.4,309.2 395.4,307.9 393.4,309.2 394.1,306.9 392.2,305.4 394.6,305.3ZM398.4,305.2 399.2,307.5 401.6,307.6 399.7,309.1 400.4,311.4 398.4,310.1 396.4,311.4 397.0,309.1 395.1,307.6 397.5,307.5ZM401.2,303.7 402.1,305.9 404.5,306.0 402.6,307.5 403.2,309.8 401.2,308.5 399.2,309.8 399.8,307.5 398.0,306.0 400.4,305.9ZM403.6,307.1 404.5,309.3 406.8,309.4 405.0,310.9 405.6,313.2 403.6,311.9 401.6,313.2 402.2,310.9 400.4,309.4 402.8,309.3ZM405.9,309.9 406.7,312.1 409.1,312.2 407.2,313.7 407.9,316.0 405.9,314.7 403.9,316.0 404.5,313.7 402.6,312.2 405.0,312.1ZM404.3,313.1 405.1,315.4 407.5,315.5 405.6,317.0 406.3,319.3 404.3,318.0 402.3,319.3 402.9,317.0 401.0,315.5 403.4,315.4ZM401.5,315.2 402.4,317.4 404.8,317.5 402.9,319.0 403.5,321.3 401.5,320.0 399.5,321.3 400.1,319.0 398.3,317.5 400.7,317.4ZM398.3,315.9 399.1,318.1 401.5,318.2 399.7,319.7 400.3,322.0 398.3,320.7 396.3,322.0 396.9,319.7 395.1,318.2 397.4,318.1ZM395.3,317.3 396.2,319.5 398.6,319.7 396.7,321.2 397.3,323.5 395.3,322.2 393.3,323.5 394.0,321.2 392.1,319.7 394.5,319.5ZM392.6,317.7 393.4,319.9 395.8,320.0 393.9,321.5 394.5,323.8 392.6,322.5 390.6,323.8 391.2,321.5 389.3,320.0 391.7,319.9ZM389.8,317.4 390.6,319.6 393.0,319.8 391.1,321.3 391.8,323.6 389.8,322.3 387.8,323.6 388.4,321.3 386.5,319.8 388.9,319.6ZM387.0,317.2 387.8,319.4 390.2,319.5 388.3,321.0 389.0,323.3 387.0,322.0 385.0,323.3 385.6,321.0 383.7,319.5 386.1,319.4ZM384.1,317.7 385.0,319.9 387.4,320.0 385.5,321.5 386.1,323.8 384.1,322.5 382.1,323.8 382.8,321.5 380.9,320.0 383.3,319.9ZM381.3,317.7 382.2,319.9 384.6,320.0 382.7,321.5 383.3,323.8 381.3,322.5 379.3,323.8 380.0,321.5 378.1,320.0 380.5,319.9ZM378.5,317.8 379.4,320.1 381.8,320.2 379.9,321.7 380.5,324.0 378.5,322.7 376.5,324.0 377.2,321.7 375.3,320.2 377.7,320.1ZM375.5,318.3 376.3,320.5 378.7,320.7 376.8,322.2 377.5,324.5 375.5,323.2 373.5,324.5 374.1,322.2 372.2,320.7 374.6,320.5ZM372.4,318.2 373.3,320.4 375.6,320.5 373.8,322.0 374.4,324.3 372.4,323.0 370.4,324.3 371.0,322.0 369.2,320.5 371.6,320.4ZM369.4,316.8 370.3,319.0 372.6,319.2 370.8,320.7 371.4,323.0 369.4,321.7 367.4,323.0 368.0,320.7 366.2,319.2 368.6,319.0ZM366.4,318.5 367.3,320.8 369.7,320.9 367.8,322.4 368.4,324.7 366.4,323.4 364.4,324.7 365.1,322.4 363.2,320.9 365.6,320.8ZM362.3,317.7 363.1,320.0 365.5,320.1 363.7,321.6 364.3,323.9 362.3,322.6 360.3,323.9 360.9,321.6 359.1,320.1 361.4,320.0ZM358.8,319.0 359.7,321.3 362.1,321.4 360.2,322.9 360.8,325.2 358.8,323.9 356.8,325.2 357.5,322.9 355.6,321.4 358.0,321.3ZM356.0,320.4 356.9,322.7 359.3,322.8 357.4,324.3 358.0,326.6 356.0,325.3 354.0,326.6 354.7,324.3 352.8,322.8 355.2,322.7ZM352.7,319.1 353.5,321.3 355.9,321.4 354.1,322.9 354.7,325.2 352.7,323.9 350.7,325.2 351.3,322.9 349.4,321.4 351.8,321.3ZM348.9,320.6 349.7,322.8 352.1,322.9 350.3,324.4 350.9,326.7 348.9,325.4 346.9,326.7 347.5,324.4 345.7,322.9 348.0,322.8ZM344.9,319.3 345.7,321.5 348.1,321.6 346.3,323.1 346.9,325.4 344.9,324.1 342.9,325.4 343.5,323.1 341.7,321.6 344.0,321.5ZM341.6,321.5 342.4,323.8 344.8,323.9 343.0,325.4 343.6,327.7 341.6,326.4 339.6,327.7 340.2,325.4 338.4,323.9 340.7,323.8ZM337.8,321.9 338.6,324.1 341.0,324.2 339.2,325.7 339.8,328.0 337.8,326.7 335.8,328.0 336.4,325.7 334.5,324.2 336.9,324.1ZM335.2,323.3 336.1,325.5 338.4,325.6 336.6,327.1 337.2,329.4 335.2,328.1 333.2,329.4 333.8,327.1 332.0,325.6 334.4,325.5ZM332.1,323.6 332.9,325.8 335.3,325.9 333.5,327.4 334.1,329.7 332.1,328.4 330.1,329.7 330.7,327.4 328.8,325.9 331.2,325.8ZM330.6,326.7 331.5,328.9 333.8,329.0 332.0,330.5 332.6,332.8 330.6,331.5 328.6,332.8 329.2,330.5 327.4,329.0 329.8,328.9ZM326.2,327.6 327.1,329.8 329.5,330.0 327.6,331.5 328.2,333.8 326.2,332.5 324.2,333.8 324.9,331.5 323.0,330.0 325.4,329.8ZM325.2,331.9 326.1,334.1 328.4,334.2 326.6,335.7 327.2,338.0 325.2,336.7 323.2,338.0 323.8,335.7 322.0,334.2 324.3,334.1ZM322.3,333.5 323.1,335.7 325.5,335.9 323.7,337.4 324.3,339.7 322.3,338.4 320.3,339.7 320.9,337.4 319.1,335.9 321.4,335.7ZM320.2,334.4 321.0,336.6 323.4,336.7 321.5,338.2 322.2,340.5 320.2,339.2 318.2,340.5 318.8,338.2 316.9,336.7 319.3,336.6ZM316.1,333.4 317.0,335.6 319.4,335.7 317.5,337.2 318.1,339.5 316.1,338.2 314.1,339.5 314.8,337.2 312.9,335.7 315.3,335.6ZM311.9,332.7 312.7,334.9 315.1,335.1 313.3,336.6 313.9,338.9 311.9,337.6 309.9,338.9 310.5,336.6 308.6,335.1 311.0,334.9ZM309.9,329.9 310.8,332.2 313.2,332.3 311.3,333.8 311.9,336.1 309.9,334.8 307.9,336.1 308.5,333.8 306.7,332.3 309.1,332.2ZM307.3,327.7 308.2,330.0 310.6,330.1 308.7,331.6 309.3,333.9 307.3,332.6 305.4,333.9 306.0,331.6 304.1,330.1 306.5,330.0ZM306.4,324.1 307.2,326.3 309.6,326.4 307.8,327.9 308.4,330.2 306.4,328.9 304.4,330.2 305.0,327.9 303.1,326.4 305.5,326.3ZM304.6,322.2 305.5,324.4 307.9,324.5 306.0,326.0 306.6,328.3 304.6,327.0 302.6,328.3 303.2,326.0 301.4,324.5 303.8,324.4ZM302.3,319.8 303.2,322.1 305.6,322.2 303.7,323.7 304.3,326.0 302.3,324.7 300.3,326.0 301.0,323.7 299.1,322.2 301.5,322.1ZM301.9,317.0 302.7,319.2 305.1,319.3 303.3,320.8 303.9,323.1 301.9,321.8 299.9,323.1 300.5,320.8 298.6,319.3 301.0,319.2ZM300.9,314.3 301.8,316.5 304.1,316.7 302.3,318.2 302.9,320.5 300.9,319.2 298.9,320.5 299.5,318.2 297.7,316.7 300.1,316.5ZM301.6,311.7 302.4,313.9 304.8,314.1 302.9,315.6 303.6,317.9 301.6,316.6 299.6,317.9 300.2,315.6 298.3,314.1 300.7,313.9ZM300.3,308.6 301.2,310.8 303.5,311.0 301.7,312.5 302.3,314.8 300.3,313.5 298.3,314.8 298.9,312.5 297.1,311.0 299.5,310.8ZM301.7,305.7 302.5,307.9 304.9,308.0 303.0,309.5 303.7,311.8 301.7,310.5 299.7,311.8 300.3,309.5 298.4,308.0 300.8,307.9ZM301.0,302.6 301.8,304.9 304.2,305.0 302.4,306.5 303.0,308.8 301.0,307.5 299.0,308.8 299.6,306.5 297.7,305.0 300.1,304.9ZM302.0,299.7 302.9,301.9 305.3,302.0 303.4,303.5 304.0,305.8 302.0,304.5 300.0,305.8 300.7,303.5 298.8,302.0 301.2,301.9ZM301.8,296.5 302.7,298.8 305.1,298.9 303.2,300.4 303.8,302.7 301.8,301.4 299.8,302.7 300.5,300.4 298.6,298.9 301.0,298.8ZM301.4,293.5 302.3,295.8 304.7,295.9 302.8,297.4 303.4,299.7 301.4,298.4 299.4,299.7 300.0,297.4 298.2,295.9 300.6,295.8ZM302.0,290.5 302.8,292.7 305.2,292.8 303.4,294.3 304.0,296.6 302.0,295.3 300.0,296.6 300.6,294.3 298.8,292.8 301.1,292.7ZM302.1,287.4 303.0,289.7 305.4,289.8 303.5,291.3 304.1,293.6 302.1,292.3 300.1,293.6 300.8,291.3 298.9,289.8 301.3,289.7ZM300.4,284.4 301.3,286.7 303.6,286.8 301.8,288.3 302.4,290.6 300.4,289.3 298.4,290.6 299.0,288.3 297.2,286.8 299.6,286.7ZM298.7,282.1 299.5,284.3 301.9,284.4 300.1,285.9 300.7,288.2 298.7,286.9 296.7,288.2 297.3,285.9 295.4,284.4 297.8,284.3ZM299.5,278.7 300.3,280.9 302.7,281.1 300.9,282.6 301.5,284.9 299.5,283.6 297.5,284.9 298.1,282.6 296.3,281.1 298.6,280.9ZM298.1,276.5 299.0,278.7 301.3,278.8 299.5,280.3 300.1,282.6 298.1,281.3 296.1,282.6 296.7,280.3 294.9,278.8 297.3,278.7ZM297.7,272.8 298.5,275.1 300.9,275.2 299.0,276.7 299.7,279.0 297.7,277.7 295.7,279.0 296.3,276.7 294.4,275.2 296.8,275.1ZM296.9,269.2 297.7,271.4 300.1,271.6 298.2,273.1 298.9,275.4 296.9,274.1 294.9,275.4 295.5,273.1 293.6,271.6 296.0,271.4Z" fill="#4472c4" clip-path="url(#c11)"/>
<path d="M302.9,288.7 303.5,289.5 304.5,289.8 303.8,290.5 303.9,291.6 302.9,291.2 302.0,291.6 302.1,290.5 301.4,289.8 302.4,289.5ZM321.8,283.4 322.3,284.3 323.3,284.5 322.6,285.3 322.7,286.3 321.8,285.9 320.8,286.3 320.9,285.3 320.2,284.5 321.2,284.3ZM329.6,290.9 330.1,291.7 331.1,292.0 330.4,292.7 330.5,293.7 329.6,293.4 328.6,293.7 328.7,292.7 328.1,292.0 329.1,291.7ZM323.9,297.8 324.5,298.7 325.5,298.9 324.8,299.7 324.9,300.7 323.9,300.3 323.0,300.7 323.1,299.7 322.4,298.9 323.4,298.7ZM315.2,289.6 315.7,290.5 316.7,290.7 316.1,291.5 316.1,292.5 315.2,292.1 314.3,292.5 314.3,291.5 313.7,290.7 314.7,290.5ZM332.4,285.1 332.9,286.0 333.9,286.2 333.2,287.0 333.3,288.0 332.4,287.6 331.4,288.0 331.5,287.0 330.8,286.2 331.8,286.0Z" fill="#ffffff" clip-path="url(#c11)"/>
<path d="M342.60,290.90 L345.00,281.00 L350.00,277.50 L355.80,276.00 L362.00,277.50 L366.30,279.50 L372.40,285.60 L376.80,288.30 L380.30,283.00 L385.50,277.80 L392.50,271.60 L399.50,269.90 L405.60,274.30 L406.50,279.50 L401.30,285.60 L394.30,292.60 L391.60,299.00 L385.50,301.00 L380.30,300.50 L375.00,299.50 L366.30,300.50 L362.80,297.80 L359.30,296.00 L354.00,297.80 L350.50,303.80 L345.30,308.00 L342.00,310.00Z" fill="#ee2828" clip-path="url(#c11)"/>
<path d="M344.1,287.9 345.0,290.1 347.3,290.2 345.5,291.7 346.1,294.0 344.1,292.7 342.1,294.0 342.7,291.7 340.9,290.2 343.3,290.1ZM342.9,284.1 343.8,286.3 346.2,286.4 344.3,287.9 344.9,290.2 342.9,288.9 340.9,290.2 341.6,287.9 339.7,286.4 342.1,286.3ZM345.1,281.1 345.9,283.3 348.3,283.5 346.5,285.0 347.1,287.3 345.1,286.0 343.1,287.3 343.7,285.0 341.9,283.5 344.2,283.3ZM346.0,279.0 346.8,281.2 349.2,281.4 347.4,282.9 348.0,285.2 346.0,283.9 344.0,285.2 344.6,282.9 342.8,281.4 345.1,281.2ZM347.6,275.9 348.4,278.2 350.8,278.3 348.9,279.8 349.6,282.1 347.6,280.8 345.6,282.1 346.2,279.8 344.3,278.3 346.7,278.2ZM350.1,274.6 351.0,276.8 353.4,276.9 351.5,278.4 352.1,280.7 350.1,279.4 348.1,280.7 348.7,278.4 346.9,276.9 349.3,276.8ZM353.0,273.7 353.8,275.9 356.2,276.1 354.4,277.6 355.0,279.9 353.0,278.6 351.0,279.9 351.6,277.6 349.8,276.1 352.1,275.9ZM355.9,272.2 356.8,274.4 359.1,274.5 357.3,276.0 357.9,278.3 355.9,277.0 353.9,278.3 354.5,276.0 352.7,274.5 355.0,274.4ZM358.7,274.2 359.5,276.4 361.9,276.6 360.1,278.1 360.7,280.4 358.7,279.1 356.7,280.4 357.3,278.1 355.5,276.6 357.8,276.4ZM362.0,274.1 362.9,276.3 365.2,276.4 363.4,277.9 364.0,280.2 362.0,278.9 360.0,280.2 360.6,277.9 358.8,276.4 361.2,276.3ZM365.0,277.4 365.8,279.6 368.2,279.8 366.4,281.3 367.0,283.6 365.0,282.3 363.0,283.6 363.6,281.3 361.8,279.8 364.1,279.6ZM367.1,279.4 367.9,281.6 370.3,281.7 368.5,283.2 369.1,285.5 367.1,284.2 365.1,285.5 365.7,283.2 363.9,281.7 366.2,281.6ZM370.2,280.3 371.1,282.5 373.4,282.7 371.6,284.2 372.2,286.5 370.2,285.2 368.2,286.5 368.8,284.2 367.0,282.7 369.4,282.5ZM371.8,283.3 372.6,285.5 375.0,285.6 373.1,287.1 373.8,289.4 371.8,288.1 369.8,289.4 370.4,287.1 368.5,285.6 370.9,285.5ZM376.9,285.0 377.8,287.2 380.2,287.3 378.3,288.8 378.9,291.1 376.9,289.8 374.9,291.1 375.6,288.8 373.7,287.3 376.1,287.2ZM379.9,283.1 380.7,285.4 383.1,285.5 381.3,287.0 381.9,289.3 379.9,288.0 377.9,289.3 378.5,287.0 376.6,285.5 379.0,285.4ZM380.2,279.5 381.0,281.7 383.4,281.8 381.6,283.3 382.2,285.6 380.2,284.3 378.2,285.6 378.8,283.3 376.9,281.8 379.3,281.7ZM383.6,277.7 384.5,279.9 386.9,280.1 385.0,281.6 385.6,283.9 383.6,282.6 381.6,283.9 382.2,281.6 380.4,280.1 382.8,279.9ZM385.9,274.9 386.8,277.1 389.2,277.2 387.3,278.7 387.9,281.0 385.9,279.7 383.9,281.0 384.6,278.7 382.7,277.2 385.1,277.1ZM387.6,272.1 388.5,274.3 390.9,274.5 389.0,276.0 389.6,278.3 387.6,277.0 385.6,278.3 386.3,276.0 384.4,274.5 386.8,274.3ZM391.2,271.5 392.1,273.7 394.5,273.8 392.6,275.3 393.2,277.6 391.2,276.3 389.2,277.6 389.9,275.3 388.0,273.8 390.4,273.7ZM392.6,268.6 393.5,270.9 395.8,271.0 394.0,272.5 394.6,274.8 392.6,273.5 390.6,274.8 391.2,272.5 389.4,271.0 391.8,270.9ZM396.1,267.8 397.0,270.0 399.3,270.1 397.5,271.6 398.1,273.9 396.1,272.6 394.1,273.9 394.7,271.6 392.9,270.1 395.2,270.0ZM398.9,267.3 399.8,269.5 402.2,269.6 400.3,271.1 400.9,273.4 398.9,272.1 396.9,273.4 397.6,271.1 395.7,269.6 398.1,269.5ZM402.1,269.3 403.0,271.5 405.4,271.6 403.5,273.1 404.1,275.4 402.1,274.1 400.1,275.4 400.8,273.1 398.9,271.6 401.3,271.5ZM404.4,271.1 405.2,273.3 407.6,273.5 405.7,275.0 406.4,277.3 404.4,276.0 402.4,277.3 403.0,275.0 401.1,273.5 403.5,273.3ZM405.0,274.8 405.8,277.0 408.2,277.2 406.4,278.7 407.0,281.0 405.0,279.7 403.0,281.0 403.6,278.7 401.8,277.2 404.1,277.0ZM403.2,278.6 404.1,280.8 406.4,280.9 404.6,282.4 405.2,284.7 403.2,283.4 401.2,284.7 401.8,282.4 400.0,280.9 402.4,280.8ZM401.2,282.1 402.1,284.3 404.4,284.4 402.6,285.9 403.2,288.3 401.2,287.0 399.2,288.3 399.8,285.9 398.0,284.4 400.3,284.3ZM397.9,283.5 398.8,285.7 401.1,285.8 399.3,287.3 399.9,289.6 397.9,288.3 395.9,289.6 396.5,287.3 394.7,285.8 397.1,285.7ZM395.3,285.5 396.1,287.7 398.5,287.9 396.7,289.4 397.3,291.7 395.3,290.4 393.3,291.7 393.9,289.4 392.0,287.9 394.4,287.7ZM393.5,288.8 394.3,291.1 396.7,291.2 394.8,292.7 395.5,295.0 393.5,293.7 391.5,295.0 392.1,292.7 390.2,291.2 392.6,291.1ZM393.2,292.5 394.1,294.7 396.5,294.9 394.6,296.4 395.2,298.7 393.2,297.4 391.2,298.7 391.8,296.4 390.0,294.9 392.4,294.7ZM391.0,293.7 391.8,296.0 394.2,296.1 392.4,297.6 393.0,299.9 391.0,298.6 389.0,299.9 389.6,297.6 387.8,296.1 390.1,296.0ZM388.3,296.0 389.2,298.2 391.6,298.3 389.7,299.8 390.3,302.1 388.3,300.8 386.3,302.1 387.0,299.8 385.1,298.3 387.5,298.2ZM385.5,297.9 386.3,300.1 388.7,300.2 386.9,301.7 387.5,304.0 385.5,302.7 383.5,304.0 384.1,301.7 382.2,300.2 384.6,300.1ZM380.6,295.3 381.5,297.6 383.9,297.7 382.0,299.2 382.6,301.5 380.6,300.2 378.6,301.5 379.3,299.2 377.4,297.7 379.8,297.6ZM374.8,294.7 375.7,297.0 378.1,297.1 376.2,298.6 376.8,300.9 374.8,299.6 372.8,300.9 373.5,298.6 371.6,297.1 374.0,297.0ZM372.2,297.0 373.0,299.2 375.4,299.4 373.5,300.9 374.2,303.2 372.2,301.9 370.2,303.2 370.8,300.9 368.9,299.4 371.3,299.2ZM369.1,295.9 370.0,298.1 372.3,298.3 370.5,299.8 371.1,302.1 369.1,300.8 367.1,302.1 367.7,299.8 365.9,298.3 368.2,298.1ZM366.4,297.0 367.2,299.3 369.6,299.4 367.7,300.9 368.4,303.2 366.4,301.9 364.4,303.2 365.0,300.9 363.1,299.4 365.5,299.3ZM362.6,294.8 363.4,297.0 365.8,297.2 364.0,298.7 364.6,301.0 362.6,299.7 360.6,301.0 361.2,298.7 359.4,297.2 361.7,297.0ZM358.7,291.0 359.6,293.2 362.0,293.3 360.1,294.8 360.7,297.1 358.7,295.8 356.7,297.1 357.4,294.8 355.5,293.3 357.9,293.2ZM354.2,294.5 355.1,296.7 357.4,296.9 355.6,298.4 356.2,300.7 354.2,299.4 352.2,300.7 352.8,298.4 351.0,296.9 353.4,296.7ZM352.3,297.4 353.1,299.6 355.5,299.8 353.6,301.3 354.3,303.6 352.3,302.3 350.3,303.6 350.9,301.3 349.0,299.8 351.4,299.6ZM349.3,299.0 350.2,301.2 352.6,301.3 350.7,302.8 351.3,305.1 349.3,303.8 347.3,305.1 348.0,302.8 346.1,301.3 348.5,301.2ZM348.2,302.9 349.1,305.1 351.5,305.3 349.6,306.8 350.2,309.1 348.2,307.8 346.2,309.1 346.8,306.8 345.0,305.3 347.4,305.1ZM344.7,303.6 345.5,305.8 347.9,305.9 346.1,307.4 346.7,309.7 344.7,308.4 342.7,309.7 343.3,307.4 341.4,305.9 343.8,305.8ZM343.2,306.6 344.0,308.9 346.4,309.0 344.5,310.5 345.2,312.8 343.2,311.5 341.2,312.8 341.8,310.5 339.9,309.0 342.3,308.9ZM342.0,303.4 342.9,305.6 345.2,305.8 343.4,307.3 344.0,309.6 342.0,308.3 340.0,309.6 340.6,307.3 338.8,305.8 341.2,305.6ZM342.8,300.3 343.6,302.5 346.0,302.6 344.2,304.1 344.8,306.4 342.8,305.1 340.8,306.4 341.4,304.1 339.6,302.6 341.9,302.5ZM342.7,297.1 343.6,299.3 346.0,299.4 344.1,300.9 344.7,303.2 342.7,301.9 340.7,303.2 341.3,300.9 339.5,299.4 341.9,299.3ZM343.7,293.9 344.5,296.1 346.9,296.3 345.0,297.8 345.7,300.1 343.7,298.8 341.7,300.1 342.3,297.8 340.4,296.3 342.8,296.1ZM344.2,290.7 345.1,293.0 347.4,293.1 345.6,294.6 346.2,296.9 344.2,295.6 342.2,296.9 342.8,294.6 341.0,293.1 343.4,293.0Z" fill="#ee2828" clip-path="url(#c11)"/>
<path d="M346.0,274.6 346.9,276.8 349.2,276.9 347.4,278.4 348.0,280.8 346.0,279.4 344.0,280.8 344.6,278.4 342.8,276.9 345.1,276.8ZM352.0,272.6 352.9,274.8 355.2,274.9 353.4,276.4 354.0,278.8 352.0,277.4 350.0,278.8 350.6,276.4 348.8,274.9 351.1,274.8ZM360.0,273.6 360.9,275.8 363.2,275.9 361.4,277.4 362.0,279.8 360.0,278.4 358.0,279.8 358.6,277.4 356.8,275.9 359.1,275.8ZM396.0,266.6 396.9,268.8 399.2,268.9 397.4,270.4 398.0,272.8 396.0,271.4 394.0,272.8 394.6,270.4 392.8,268.9 395.1,268.8ZM402.0,266.6 402.9,268.8 405.2,268.9 403.4,270.4 404.0,272.8 402.0,271.4 400.0,272.8 400.6,270.4 398.8,268.9 401.1,268.8ZM404.0,272.6 404.9,274.8 407.2,274.9 405.4,276.4 406.0,278.8 404.0,277.4 402.0,278.8 402.6,276.4 400.8,274.9 403.1,274.8ZM389.0,295.6 389.9,297.8 392.2,297.9 390.4,299.4 391.0,301.8 389.0,300.4 387.0,301.8 387.6,299.4 385.8,297.9 388.1,297.8ZM383.0,297.6 383.9,299.8 386.2,299.9 384.4,301.4 385.0,303.8 383.0,302.4 381.0,303.8 381.6,301.4 379.8,299.9 382.1,299.8ZM386.0,292.6 386.9,294.8 389.2,294.9 387.4,296.4 388.0,298.8 386.0,297.4 384.0,298.8 384.6,296.4 382.8,294.9 385.1,294.8ZM342.0,296.6 342.9,298.8 345.2,298.9 343.4,300.4 344.0,302.8 342.0,301.4 340.0,302.8 340.6,300.4 338.8,298.9 341.1,298.8ZM343.0,302.6 343.9,304.8 346.2,304.9 344.4,306.4 345.0,308.8 343.0,307.4 341.0,308.8 341.6,306.4 339.8,304.9 342.1,304.8ZM313.4,305.7 314.2,308.0 316.6,308.1 314.8,309.6 315.4,311.9 313.4,310.6 311.4,311.9 312.0,309.6 310.1,308.1 312.5,308.0ZM320.6,302.1 321.5,304.3 323.9,304.4 322.0,305.9 322.6,308.2 320.6,306.9 318.6,308.2 319.2,305.9 317.4,304.4 319.8,304.3ZM309.4,307.8 310.2,310.1 312.6,310.2 310.8,311.7 311.4,314.0 309.4,312.7 307.4,314.0 308.0,311.7 306.1,310.2 308.5,310.1ZM313.2,302.7 314.0,304.9 316.4,305.0 314.6,306.5 315.2,308.8 313.2,307.5 311.2,308.8 311.8,306.5 309.9,305.0 312.3,304.9ZM311.3,302.2 312.2,304.4 314.6,304.6 312.7,306.1 313.3,308.4 311.3,307.1 309.3,308.4 309.9,306.1 308.1,304.6 310.5,304.4ZM305.9,306.9 306.7,309.1 309.1,309.2 307.2,310.7 307.9,313.0 305.9,311.7 303.9,313.0 304.5,310.7 302.6,309.2 305.0,309.1ZM322.6,307.8 323.4,310.0 325.8,310.1 323.9,311.6 324.6,313.9 322.6,312.6 320.6,313.9 321.2,311.6 319.3,310.1 321.7,310.0ZM316.6,302.3 317.5,304.6 319.8,304.7 318.0,306.2 318.6,308.5 316.6,307.2 314.6,308.5 315.2,306.2 313.4,304.7 315.7,304.6ZM312.0,299.3 312.8,301.6 315.2,301.7 313.3,303.2 314.0,305.5 312.0,304.2 310.0,305.5 310.6,303.2 308.7,301.7 311.1,301.6ZM318.8,301.7 319.6,303.9 322.0,304.0 320.1,305.5 320.8,307.8 318.8,306.5 316.8,307.8 317.4,305.5 315.5,304.0 317.9,303.9ZM308.7,312.3 309.6,314.5 311.9,314.7 310.1,316.1 310.7,318.5 308.7,317.2 306.7,318.5 307.3,316.1 305.5,314.7 307.9,314.5ZM309.8,312.3 310.7,314.5 313.1,314.6 311.2,316.1 311.8,318.4 309.8,317.1 307.8,318.4 308.4,316.1 306.6,314.6 309.0,314.5ZM316.2,308.9 317.1,311.1 319.4,311.2 317.6,312.7 318.2,315.0 316.2,313.7 314.2,315.0 314.8,312.7 313.0,311.2 315.4,311.1ZM316.4,299.9 317.3,302.1 319.7,302.2 317.8,303.7 318.4,306.0 316.4,304.7 314.4,306.0 315.1,303.7 313.2,302.2 315.6,302.1ZM318.4,301.1 319.2,303.3 321.6,303.5 319.8,305.0 320.4,307.3 318.4,306.0 316.4,307.3 317.0,305.0 315.2,303.5 317.5,303.3ZM311.4,299.1 312.2,301.3 314.6,301.5 312.8,303.0 313.4,305.3 311.4,304.0 309.4,305.3 310.0,303.0 308.1,301.5 310.5,301.3ZM303.3,302.8 304.2,305.0 306.6,305.1 304.7,306.6 305.3,308.9 303.3,307.6 301.3,308.9 302.0,306.6 300.1,305.1 302.5,305.0ZM302.3,303.1 303.2,305.3 305.6,305.4 303.7,306.9 304.3,309.2 302.3,307.9 300.3,309.2 300.9,306.9 299.1,305.4 301.5,305.3ZM311.7,298.8 312.6,301.0 315.0,301.1 313.1,302.6 313.7,304.9 311.7,303.6 309.7,304.9 310.3,302.6 308.5,301.1 310.9,301.0ZM310.0,298.1 310.8,300.3 313.2,300.4 311.3,301.9 312.0,304.2 310.0,302.9 308.0,304.2 308.6,301.9 306.7,300.4 309.1,300.3ZM307.0,306.7 307.9,309.0 310.2,309.1 308.4,310.6 309.0,312.9 307.0,311.6 305.0,312.9 305.6,310.6 303.8,309.1 306.2,309.0ZM316.2,297.6 317.0,299.8 319.4,299.9 317.6,301.4 318.2,303.7 316.2,302.4 314.2,303.7 314.8,301.4 313.0,299.9 315.3,299.8ZM313.2,303.6 314.1,305.9 316.4,306.0 314.6,307.5 315.2,309.8 313.2,308.5 311.2,309.8 311.8,307.5 310.0,306.0 312.4,305.9ZM311.2,299.2 312.0,301.4 314.4,301.5 312.5,303.0 313.1,305.3 311.2,304.0 309.2,305.3 309.8,303.0 307.9,301.5 310.3,301.4ZM311.0,298.7 311.9,300.9 314.3,301.0 312.4,302.5 313.0,304.8 311.0,303.5 309.0,304.8 309.7,302.5 307.8,301.0 310.2,300.9ZM317.8,307.2 318.6,309.4 321.0,309.5 319.2,311.0 319.8,313.3 317.8,312.0 315.8,313.3 316.4,311.0 314.5,309.5 316.9,309.4ZM316.5,303.4 317.3,305.6 319.7,305.8 317.8,307.3 318.5,309.6 316.5,308.3 314.5,309.6 315.1,307.3 313.2,305.8 315.6,305.6ZM324.0,302.8 324.9,305.0 327.2,305.2 325.4,306.7 326.0,309.0 324.0,307.7 322.0,309.0 322.6,306.7 320.8,305.2 323.2,305.0ZM306.7,302.9 307.5,305.1 309.9,305.2 308.1,306.7 308.7,309.0 306.7,307.7 304.7,309.0 305.3,306.7 303.5,305.2 305.8,305.1ZM323.0,299.5 323.8,301.8 326.2,301.9 324.4,303.4 325.0,305.7 323.0,304.4 321.0,305.7 321.6,303.4 319.8,301.9 322.1,301.8ZM321.6,304.3 322.4,306.5 324.8,306.7 323.0,308.2 323.6,310.5 321.6,309.2 319.6,310.5 320.2,308.2 318.4,306.7 320.7,306.5ZM312.4,310.6 313.2,312.8 315.6,313.0 313.7,314.5 314.4,316.8 312.4,315.5 310.4,316.8 311.0,314.5 309.1,313.0 311.5,312.8ZM318.3,309.6 319.2,311.8 321.6,312.0 319.7,313.5 320.3,315.8 318.3,314.5 316.3,315.8 317.0,313.5 315.1,312.0 317.5,311.8ZM306.1,306.5 307.0,308.8 309.3,308.9 307.5,310.4 308.1,312.7 306.1,311.4 304.1,312.7 304.7,310.4 302.9,308.9 305.2,308.8ZM319.0,300.8 319.8,303.0 322.2,303.1 320.4,304.6 321.0,306.9 319.0,305.6 317.0,306.9 317.6,304.6 315.7,303.1 318.1,303.0ZM306.8,310.1 307.6,312.4 310.0,312.5 308.1,314.0 308.8,316.3 306.8,315.0 304.8,316.3 305.4,314.0 303.5,312.5 305.9,312.4ZM315.1,303.5 315.9,305.7 318.3,305.8 316.4,307.3 317.1,309.6 315.1,308.3 313.1,309.6 313.7,307.3 311.8,305.8 314.2,305.7ZM313.2,301.1 314.0,303.3 316.4,303.4 314.6,304.9 315.2,307.2 313.2,305.9 311.2,307.2 311.8,304.9 309.9,303.4 312.3,303.3ZM307.7,298.8 308.6,301.0 310.9,301.1 309.1,302.6 309.7,304.9 307.7,303.6 305.7,304.9 306.3,302.6 304.5,301.1 306.8,301.0ZM311.2,299.4 312.1,301.6 314.5,301.7 312.6,303.2 313.2,305.5 311.2,304.2 309.2,305.5 309.9,303.2 308.0,301.7 310.4,301.6ZM315.6,298.5 316.4,300.7 318.8,300.8 317.0,302.3 317.6,304.6 315.6,303.3 313.6,304.6 314.2,302.3 312.4,300.8 314.7,300.7ZM315.8,299.5 316.6,301.7 319.0,301.9 317.1,303.4 317.8,305.7 315.8,304.4 313.8,305.7 314.4,303.4 312.5,301.9 314.9,301.7ZM310.5,299.1 311.4,301.3 313.8,301.4 311.9,302.9 312.5,305.2 310.5,303.9 308.5,305.2 309.2,302.9 307.3,301.4 309.7,301.3ZM313.4,298.3 314.3,300.5 316.7,300.6 314.8,302.1 315.4,304.4 313.4,303.1 311.4,304.4 312.1,302.1 310.2,300.6 312.6,300.5ZM308.4,300.7 309.3,302.9 311.7,303.1 309.8,304.6 310.4,306.9 308.4,305.6 306.4,306.9 307.1,304.6 305.2,303.1 307.6,302.9ZM312.7,311.5 313.6,313.7 316.0,313.9 314.1,315.4 314.7,317.7 312.7,316.4 310.7,317.7 311.3,315.4 309.5,313.9 311.9,313.7ZM315.3,309.2 316.2,311.5 318.5,311.6 316.7,313.1 317.3,315.4 315.3,314.1 313.3,315.4 313.9,313.1 312.1,311.6 314.5,311.5ZM318.7,305.3 319.5,307.6 321.9,307.7 320.1,309.2 320.7,311.5 318.7,310.2 316.7,311.5 317.3,309.2 315.4,307.7 317.8,307.6ZM305.1,305.1 305.9,307.3 308.3,307.5 306.5,309.0 307.1,311.3 305.1,310.0 303.1,311.3 303.7,309.0 301.9,307.5 304.2,307.3ZM309.8,311.5 310.7,313.8 313.0,313.9 311.2,315.4 311.8,317.7 309.8,316.4 307.8,317.7 308.4,315.4 306.6,313.9 309.0,313.8Z" fill="#ee2828" clip-path="url(#c11)"/>
<path d="M295.4,264.7 296.3,266.9 298.6,267.0 296.8,268.5 297.4,270.9 295.4,269.6 293.4,270.9 294.0,268.5 292.2,267.0 294.5,266.9ZM293.6,274.4 294.5,276.6 296.8,276.7 295.0,278.2 295.6,280.6 293.6,279.2 291.6,280.6 292.2,278.2 290.4,276.7 292.7,276.6ZM292.8,283.1 293.7,285.3 296.0,285.4 294.2,286.9 294.8,289.3 292.8,287.9 290.8,289.3 291.4,286.9 289.6,285.4 291.9,285.3ZM289.3,293.6 290.2,295.8 292.5,295.9 290.7,297.4 291.3,299.8 289.3,298.4 287.3,299.8 287.9,297.4 286.1,295.9 288.4,295.8ZM288.4,302.4 289.3,304.6 291.6,304.7 289.8,306.2 290.4,308.6 288.4,307.2 286.4,308.6 287.0,306.2 285.2,304.7 287.5,304.6ZM289.5,294.1 290.4,296.3 292.7,296.4 290.9,297.9 291.5,300.3 289.5,298.9 287.5,300.3 288.1,297.9 286.3,296.4 288.6,296.3ZM294.7,292.1 295.6,294.3 297.9,294.4 296.1,295.9 296.7,298.3 294.7,296.9 292.7,298.3 293.3,295.9 291.5,294.4 293.8,294.3ZM288.8,302.6 289.7,304.8 292.0,304.9 290.2,306.4 290.8,308.8 288.8,307.4 286.8,308.8 287.4,306.4 285.6,304.9 287.9,304.8ZM295.4,301.3 296.3,303.5 298.6,303.6 296.8,305.1 297.4,307.5 295.4,306.1 293.4,307.5 294.0,305.1 292.2,303.6 294.5,303.5ZM296.5,279.6 297.4,281.8 299.7,281.9 297.9,283.4 298.5,285.8 296.5,284.4 294.5,285.8 295.1,283.4 293.3,281.9 295.6,281.8ZM291.0,286.6 291.9,288.8 294.2,288.9 292.4,290.4 293.0,292.8 291.0,291.4 289.0,292.8 289.6,290.4 287.8,288.9 290.1,288.8ZM298.0,296.6 298.9,298.8 301.2,298.9 299.4,300.4 300.0,302.8 298.0,301.4 296.0,302.8 296.6,300.4 294.8,298.9 297.1,298.8ZM296.0,306.6 296.9,308.8 299.2,308.9 297.4,310.4 298.0,312.8 296.0,311.4 294.0,312.8 294.6,310.4 292.8,308.9 295.1,308.8Z" fill="#4472c4" clip-path="url(#c11)"/>
<path d="M293.1,318.8 294.0,321.0 296.3,321.1 294.5,322.6 295.1,324.9 293.1,323.6 291.1,324.9 291.7,322.6 289.9,321.1 292.3,321.0ZM292.9,320.4 293.7,322.6 296.1,322.8 294.2,324.3 294.9,326.6 292.9,325.3 290.9,326.6 291.5,324.3 289.6,322.8 292.0,322.6ZM296.9,319.9 297.8,322.1 300.1,322.2 298.3,323.7 298.9,326.0 296.9,324.7 294.9,326.0 295.5,323.7 293.7,322.2 296.1,322.1Z" fill="#ee2828" clip-path="url(#c11)"/>
<path d="M304.6,312.1 305.4,314.3 307.8,314.4 305.9,315.9 306.6,318.2 304.6,316.9 302.6,318.2 303.2,315.9 301.3,314.4 303.7,314.3ZM290.8,317.9 291.6,320.1 294.0,320.2 292.1,321.7 292.8,324.0 290.8,322.7 288.8,324.0 289.4,321.7 287.5,320.2 289.9,320.1ZM295.5,319.0 296.3,321.2 298.7,321.3 296.8,322.8 297.4,325.1 295.5,323.8 293.5,325.1 294.1,322.8 292.2,321.3 294.6,321.2Z" fill="#4472c4" clip-path="url(#c11)"/>
<path d="M304.7,314.7 305.6,317.0 307.9,317.1 306.1,318.6 306.7,320.9 304.7,319.6 302.7,320.9 303.3,318.6 301.5,317.1 303.9,317.0ZM295.3,327.5 296.1,329.7 298.5,329.9 296.6,331.4 297.3,333.7 295.3,332.4 293.3,333.7 293.9,331.4 292.0,329.9 294.4,329.7ZM297.5,320.2 298.4,322.4 300.7,322.5 298.9,324.0 299.5,326.3 297.5,325.0 295.5,326.3 296.1,324.0 294.3,322.5 296.7,322.4Z" fill="#ee2828" clip-path="url(#c11)"/>
<path d="M291.8,317.1 292.7,319.4 295.0,319.5 293.2,321.0 293.8,323.3 291.8,322.0 289.8,323.3 290.4,321.0 288.6,319.5 291.0,319.4ZM291.6,312.1 292.4,314.3 294.8,314.4 293.0,315.9 293.6,318.2 291.6,316.9 289.6,318.2 290.2,315.9 288.4,314.4 290.7,314.3ZM293.3,326.7 294.2,328.9 296.5,329.1 294.7,330.6 295.3,332.9 293.3,331.6 291.3,332.9 291.9,330.6 290.1,329.1 292.5,328.9Z" fill="#4472c4" clip-path="url(#c11)"/>
<path d="M302.9,316.0 303.8,318.2 306.2,318.3 304.3,319.8 304.9,322.1 302.9,320.8 300.9,322.1 301.6,319.8 299.7,318.3 302.1,318.2ZM303.9,315.5 304.8,317.7 307.2,317.8 305.3,319.3 305.9,321.6 303.9,320.3 301.9,321.6 302.6,319.3 300.7,317.8 303.1,317.7ZM300.3,315.5 301.1,317.7 303.5,317.8 301.7,319.3 302.3,321.6 300.3,320.3 298.3,321.6 298.9,319.3 297.0,317.8 299.4,317.7ZM293.2,325.1 294.1,327.3 296.5,327.4 294.6,328.9 295.2,331.2 293.2,329.9 291.2,331.2 291.9,328.9 290.0,327.4 292.4,327.3ZM290.4,319.2 291.3,321.4 293.7,321.6 291.8,323.1 292.4,325.4 290.4,324.1 288.4,325.4 289.1,323.1 287.2,321.6 289.6,321.4Z" fill="#ee2828" clip-path="url(#c11)"/>
<path d="M298.8,310.9 299.7,313.2 302.1,313.3 300.2,314.8 300.8,317.1 298.8,315.8 296.9,317.1 297.5,314.8 295.6,313.3 298.0,313.2Z" fill="#4472c4" clip-path="url(#c11)"/>
<path d="M299.1,311.3 299.9,313.5 302.3,313.6 300.5,315.1 301.1,317.4 299.1,316.1 297.1,317.4 297.7,315.1 295.9,313.6 298.2,313.5ZM297.4,325.4 298.3,327.6 300.6,327.7 298.8,329.2 299.4,331.5 297.4,330.2 295.4,331.5 296.0,329.2 294.2,327.7 296.6,327.6ZM304.4,313.8 305.2,316.0 307.6,316.1 305.8,317.6 306.4,319.9 304.4,318.6 302.4,319.9 303.0,317.6 301.2,316.1 303.5,316.0ZM290.7,322.9 291.5,325.1 293.9,325.2 292.1,326.7 292.7,329.0 290.7,327.7 288.7,329.0 289.3,326.7 287.5,325.2 289.8,325.1ZM302.3,309.3 303.1,311.6 305.5,311.7 303.6,313.2 304.3,315.5 302.3,314.2 300.3,315.5 300.9,313.2 299.0,311.7 301.4,311.6Z" fill="#ee2828" clip-path="url(#c11)"/>
<path d="M299.1,313.8 300.0,316.0 302.4,316.1 300.5,317.6 301.1,319.9 299.1,318.6 297.1,319.9 297.8,317.6 295.9,316.1 298.3,316.0Z" fill="#4472c4" clip-path="url(#c11)"/>
<path d="M301.6,318.3 302.5,320.5 304.9,320.7 303.0,322.2 303.6,324.5 301.6,323.2 299.6,324.5 300.3,322.2 298.4,320.7 300.8,320.5ZM286.6,322.2 287.5,324.4 289.8,324.6 288.0,326.1 288.6,328.4 286.6,327.1 284.6,328.4 285.2,326.1 283.4,324.6 285.7,324.4ZM291.6,320.6 292.5,322.9 294.9,323.0 293.0,324.5 293.6,326.8 291.6,325.5 289.6,326.8 290.3,324.5 288.4,323.0 290.8,322.9ZM300.5,320.8 301.3,323.1 303.7,323.2 301.8,324.7 302.5,327.0 300.5,325.7 298.5,327.0 299.1,324.7 297.2,323.2 299.6,323.1ZM292.9,319.1 293.8,321.3 296.2,321.4 294.3,322.9 294.9,325.2 292.9,323.9 290.9,325.2 291.6,322.9 289.7,321.4 292.1,321.3Z" fill="#ee2828" clip-path="url(#c11)"/>
<path d="M296.2,313.7 297.1,315.9 299.5,316.0 297.6,317.5 298.2,319.8 296.2,318.5 294.2,319.8 294.9,317.5 293.0,316.0 295.4,315.9Z" fill="#4472c4" clip-path="url(#c11)"/>
<path d="M303.2,322.3 304.1,324.5 306.5,324.6 304.6,326.1 305.2,328.4 303.2,327.1 301.2,328.4 301.9,326.1 300.0,324.6 302.4,324.5ZM295.9,315.4 296.7,317.6 299.1,317.7 297.2,319.2 297.9,321.5 295.9,320.2 293.9,321.5 294.5,319.2 292.6,317.7 295.0,317.6ZM301.1,309.2 301.9,311.4 304.3,311.5 302.5,313.0 303.1,315.3 301.1,314.0 299.1,315.3 299.7,313.0 297.9,311.5 300.2,311.4ZM300.3,315.5 301.1,317.7 303.5,317.9 301.6,319.4 302.3,321.7 300.3,320.4 298.3,321.7 298.9,319.4 297.0,317.9 299.4,317.7ZM293.1,320.4 293.9,322.7 296.3,322.8 294.5,324.3 295.1,326.6 293.1,325.3 291.1,326.6 291.7,324.3 289.8,322.8 292.2,322.7Z" fill="#ee2828" clip-path="url(#c11)"/>
<path d="M296.2,309.0 297.1,311.2 299.5,311.3 297.6,312.8 298.2,315.1 296.2,313.8 294.2,315.1 294.9,312.8 293.0,311.3 295.4,311.2Z" fill="#4472c4" clip-path="url(#c11)"/>
<path d="M299.0,317.1 299.9,319.3 302.3,319.4 300.4,320.9 301.0,323.2 299.0,321.9 297.0,323.2 297.6,320.9 295.8,319.4 298.2,319.3Z" fill="#ee2828" clip-path="url(#c11)"/>
<path d="M297.1,320.5 298.0,322.8 300.4,322.9 298.5,324.4 299.1,326.7 297.1,325.4 295.1,326.7 295.7,324.4 293.9,322.9 296.3,322.8ZM299.8,323.8 300.6,326.1 303.0,326.2 301.2,327.7 301.8,330.0 299.8,328.7 297.8,330.0 298.4,327.7 296.5,326.2 298.9,326.1ZM300.8,322.3 301.7,324.5 304.1,324.7 302.2,326.2 302.8,328.5 300.8,327.2 298.8,328.5 299.5,326.2 297.6,324.7 300.0,324.5Z" fill="#4472c4" clip-path="url(#c11)"/>
<path d="M293.7,329.2 294.5,331.4 296.9,331.5 295.1,333.0 295.7,335.3 293.7,334.0 291.7,335.3 292.3,333.0 290.5,331.5 292.8,331.4Z" fill="#ee2828" clip-path="url(#c11)"/>
<path d="M286.0,328.5 286.9,330.7 289.2,330.8 287.4,332.3 288.0,334.6 286.0,333.3 284.0,334.6 284.6,332.3 282.8,330.8 285.2,330.7ZM286.7,324.3 287.6,326.6 290.0,326.7 288.1,328.2 288.7,330.5 286.7,329.2 284.7,330.5 285.3,328.2 283.5,326.7 285.9,326.6ZM279.3,335.2 280.2,337.4 282.6,337.5 280.7,339.0 281.3,341.3 279.3,340.0 277.3,341.3 278.0,339.0 276.1,337.5 278.5,337.4ZM289.0,327.0 289.9,329.3 292.2,329.4 290.4,330.9 291.0,333.2 289.0,331.9 287.0,333.2 287.6,330.9 285.8,329.4 288.1,329.3ZM290.9,327.2 291.7,329.4 294.1,329.5 292.3,331.0 292.9,333.3 290.9,332.0 288.9,333.3 289.5,331.0 287.7,329.5 290.0,329.4Z" fill="#4472c4" clip-path="url(#c11)"/>
<path d="M285.7,335.4 286.6,337.6 288.9,337.7 287.1,339.2 287.7,341.5 285.7,340.2 283.7,341.5 284.3,339.2 282.5,337.7 284.9,337.6ZM281.7,340.6 282.6,342.8 284.9,342.9 283.1,344.4 283.7,346.7 281.7,345.4 279.7,346.7 280.3,344.4 278.5,342.9 280.9,342.8ZM285.1,331.4 285.9,333.6 288.3,333.7 286.5,335.2 287.1,337.5 285.1,336.2 283.1,337.5 283.7,335.2 281.9,333.7 284.2,333.6ZM284.6,329.6 285.5,331.8 287.9,331.9 286.0,333.4 286.6,335.7 284.6,334.4 282.6,335.7 283.3,333.4 281.4,331.9 283.8,331.8Z" fill="#ee2828" clip-path="url(#c11)"/>
<path d="M284.1,329.2 285.0,331.4 287.4,331.5 285.5,333.0 286.1,335.3 284.1,334.0 282.1,335.3 282.8,333.0 280.9,331.5 283.3,331.4ZM280.1,334.2 281.0,336.4 283.3,336.5 281.5,338.0 282.1,340.3 280.1,339.0 278.1,340.3 278.7,338.0 276.9,336.5 279.3,336.4Z" fill="#4472c4" clip-path="url(#c11)"/>
<path d="M290.2,333.2 291.1,335.5 293.4,335.6 291.6,337.1 292.2,339.4 290.2,338.1 288.2,339.4 288.8,337.1 287.0,335.6 289.4,335.5ZM278.8,329.9 279.6,332.1 282.0,332.3 280.1,333.8 280.8,336.1 278.8,334.8 276.8,336.1 277.4,333.8 275.5,332.3 277.9,332.1ZM284.1,333.4 285.0,335.6 287.4,335.7 285.5,337.2 286.1,339.5 284.1,338.2 282.1,339.5 282.8,337.2 280.9,335.7 283.3,335.6ZM280.2,340.0 281.0,342.2 283.4,342.3 281.6,343.8 282.2,346.1 280.2,344.8 278.2,346.1 278.8,343.8 277.0,342.3 279.3,342.2Z" fill="#ee2828" clip-path="url(#c11)"/>
<path d="M282.1,341.9 282.9,344.2 285.3,344.3 283.4,345.8 284.1,348.1 282.1,346.8 280.1,348.1 280.7,345.8 278.8,344.3 281.2,344.2ZM286.2,337.5 287.1,339.7 289.4,339.8 287.6,341.3 288.2,343.6 286.2,342.3 284.2,343.6 284.8,341.3 283.0,339.8 285.3,339.7Z" fill="#4472c4" clip-path="url(#c11)"/>
<path d="M292.4,325.2 293.3,327.4 295.7,327.6 293.8,329.1 294.4,331.4 292.4,330.1 290.4,331.4 291.0,329.1 289.2,327.6 291.6,327.4ZM286.9,323.3 287.7,325.6 290.1,325.7 288.3,327.2 288.9,329.5 286.9,328.2 284.9,329.5 285.5,327.2 283.6,325.7 286.0,325.6ZM281.2,330.5 282.1,332.7 284.5,332.9 282.6,334.4 283.2,336.7 281.2,335.4 279.2,336.7 279.8,334.4 278.0,332.9 280.4,332.7ZM292.0,332.8 292.9,335.0 295.3,335.1 293.4,336.6 294.0,338.9 292.0,337.6 290.0,338.9 290.6,336.6 288.8,335.1 291.2,335.0Z" fill="#ee2828" clip-path="url(#c11)"/>
<path d="M332.7,294.7 333.2,295.6 334.2,295.8 333.5,296.6 333.6,297.6 332.7,297.2 331.7,297.6 331.8,296.6 331.2,295.8 332.1,295.6ZM328.3,297.3 328.8,298.2 329.8,298.4 329.2,299.2 329.2,300.2 328.3,299.8 327.4,300.2 327.4,299.2 326.8,298.4 327.8,298.2ZM333.8,303.2 334.4,304.1 335.4,304.3 334.7,305.1 334.8,306.1 333.8,305.7 332.9,306.1 333.0,305.1 332.3,304.3 333.3,304.1ZM335.7,295.5 336.2,296.4 337.2,296.6 336.6,297.4 336.6,298.4 335.7,298.0 334.8,298.4 334.9,297.4 334.2,296.6 335.2,296.4ZM330.1,294.8 330.6,295.7 331.6,295.9 330.9,296.7 331.0,297.7 330.1,297.3 329.1,297.7 329.2,296.7 328.5,295.9 329.5,295.7ZM327.6,301.0 328.2,301.8 329.1,302.1 328.5,302.8 328.6,303.9 327.6,303.5 326.7,303.9 326.8,302.8 326.1,302.1 327.1,301.8ZM325.3,297.0 325.8,297.9 326.8,298.1 326.2,298.9 326.3,299.9 325.3,299.5 324.4,299.9 324.5,298.9 323.8,298.1 324.8,297.9ZM332.8,301.5 333.3,302.4 334.3,302.6 333.7,303.4 333.7,304.4 332.8,304.0 331.9,304.4 331.9,303.4 331.3,302.6 332.3,302.4ZM327.6,302.1 328.2,302.9 329.2,303.2 328.5,303.9 328.6,305.0 327.6,304.6 326.7,305.0 326.8,303.9 326.1,303.2 327.1,302.9ZM334.7,294.5 335.2,295.4 336.2,295.6 335.6,296.4 335.7,297.4 334.7,297.0 333.8,297.4 333.9,296.4 333.2,295.6 334.2,295.4ZM334.7,303.5 335.2,304.3 336.2,304.6 335.5,305.4 335.6,306.4 334.7,306.0 333.7,306.4 333.8,305.4 333.1,304.6 334.1,304.3ZM329.1,296.4 329.6,297.3 330.6,297.5 329.9,298.3 330.0,299.3 329.1,298.9 328.1,299.3 328.2,298.3 327.6,297.5 328.6,297.3ZM336.5,298.8 337.0,299.6 338.0,299.9 337.3,300.7 337.4,301.7 336.5,301.3 335.5,301.7 335.6,300.7 335.0,299.9 336.0,299.6ZM326.1,295.7 326.6,296.5 327.6,296.8 327.0,297.5 327.1,298.6 326.1,298.2 325.2,298.6 325.3,297.5 324.6,296.8 325.6,296.5ZM273.5,362.5 274.4,364.7 276.7,364.8 274.9,366.3 275.5,368.7 273.5,367.3 271.5,368.7 272.1,366.3 270.3,364.8 272.6,364.7ZM272.6,373.0 273.5,375.2 275.8,375.3 274.0,376.8 274.6,379.2 272.6,377.8 270.6,379.2 271.2,376.8 269.4,375.3 271.7,375.2ZM278.8,353.4 279.7,355.6 282.0,355.7 280.2,357.2 280.8,359.6 278.8,358.2 276.8,359.6 277.4,357.2 275.6,355.7 277.9,355.6ZM282.3,353.4 283.2,355.6 285.5,355.7 283.7,357.2 284.3,359.6 282.3,358.2 280.3,359.6 280.9,357.2 279.1,355.7 281.4,355.6ZM285.8,352.5 286.7,354.7 289.0,354.8 287.2,356.3 287.8,358.7 285.8,357.3 283.8,358.7 284.4,356.3 282.6,354.8 284.9,354.7ZM280.5,347.2 281.4,349.4 283.7,349.5 281.9,351.0 282.5,353.4 280.5,352.1 278.5,353.4 279.1,351.0 277.3,349.5 279.6,349.4ZM284.0,346.4 284.9,348.6 287.2,348.7 285.4,350.2 286.0,352.6 284.0,351.2 282.0,352.6 282.6,350.2 280.8,348.7 283.1,348.6ZM279.6,342.9 280.5,345.1 282.8,345.2 281.0,346.7 281.6,349.1 279.6,347.8 277.6,349.1 278.2,346.7 276.4,345.2 278.7,345.1ZM304.2,362.1 305.1,364.3 307.4,364.4 305.6,365.9 306.2,368.3 304.2,366.9 302.2,368.3 302.8,365.9 301.0,364.4 303.3,364.3ZM298.9,336.7 299.8,338.9 302.1,339.0 300.3,340.5 300.9,342.9 298.9,341.6 296.9,342.9 297.5,340.5 295.7,339.0 298.0,338.9ZM303.3,335.9 304.2,338.1 306.5,338.2 304.7,339.7 305.3,342.1 303.3,340.8 301.3,342.1 301.9,339.7 300.1,338.2 302.4,338.1ZM284.9,383.1 285.8,385.3 288.1,385.4 286.3,386.9 286.9,389.3 284.9,387.9 282.9,389.3 283.5,386.9 281.7,385.4 284.0,385.3ZM272.2,373.4 273.1,375.6 275.4,375.7 273.6,377.2 274.2,379.6 272.2,378.2 270.2,379.6 270.8,377.2 269.0,375.7 271.3,375.6ZM277.0,348.6 277.9,350.8 280.2,350.9 278.4,352.4 279.0,354.8 277.0,353.4 275.0,354.8 275.6,352.4 273.8,350.9 276.1,350.8ZM276.0,356.6 276.9,358.8 279.2,358.9 277.4,360.4 278.0,362.8 276.0,361.4 274.0,362.8 274.6,360.4 272.8,358.9 275.1,358.8ZM292.0,314.6 292.9,316.8 295.2,316.9 293.4,318.4 294.0,320.8 292.0,319.4 290.0,320.8 290.6,318.4 288.8,316.9 291.1,316.8ZM297.0,312.6 297.9,314.8 300.2,314.9 298.4,316.4 299.0,318.8 297.0,317.4 295.0,318.8 295.6,316.4 293.8,314.9 296.1,314.8Z" fill="#ee2828" clip-path="url(#c11)"/>
<path d="M300.8,326.5 301.7,328.8 304.1,328.9 302.2,330.4 302.8,332.7 300.8,331.4 298.8,332.7 299.5,330.4 297.6,328.9 300.0,328.8ZM303.2,321.9 304.0,324.1 306.4,324.2 304.5,325.7 305.2,328.0 303.2,326.7 301.2,328.0 301.8,325.7 299.9,324.2 302.3,324.1ZM314.8,328.5 315.6,330.7 318.0,330.8 316.2,332.3 316.8,334.6 314.8,333.3 312.8,334.6 313.4,332.3 311.5,330.8 313.9,330.7ZM310.0,322.6 310.8,324.8 313.2,324.9 311.3,326.4 312.0,328.7 310.0,327.4 308.0,328.7 308.6,326.4 306.7,324.9 309.1,324.8ZM300.4,321.2 301.3,323.5 303.7,323.6 301.8,325.1 302.4,327.4 300.4,326.1 298.4,327.4 299.0,325.1 297.2,323.6 299.6,323.5ZM308.2,329.6 309.0,331.9 311.4,332.0 309.6,333.5 310.2,335.8 308.2,334.5 306.2,335.8 306.8,333.5 305.0,332.0 307.3,331.9ZM312.0,327.7 312.9,329.9 315.3,330.1 313.4,331.6 314.0,333.9 312.0,332.6 310.0,333.9 310.7,331.6 308.8,330.1 311.2,329.9ZM309.5,316.1 310.4,318.4 312.8,318.5 310.9,320.0 311.5,322.3 309.5,321.0 307.6,322.3 308.2,320.0 306.3,318.5 308.7,318.4ZM308.3,314.5 309.1,316.7 311.5,316.9 309.6,318.4 310.3,320.7 308.3,319.4 306.3,320.7 306.9,318.4 305.0,316.9 307.4,316.7ZM311.3,322.5 312.1,324.7 314.5,324.9 312.7,326.4 313.3,328.7 311.3,327.4 309.3,328.7 309.9,326.4 308.0,324.9 310.4,324.7ZM290.2,331.1 291.0,333.3 293.4,333.4 291.5,334.9 292.2,337.2 290.2,335.9 288.2,337.2 288.8,334.9 286.9,333.4 289.3,333.3ZM285.1,330.4 286.0,332.6 288.4,332.8 286.5,334.3 287.1,336.6 285.1,335.3 283.1,336.6 283.8,334.3 281.9,332.8 284.3,332.6ZM289.6,327.9 290.4,330.1 292.8,330.3 290.9,331.8 291.6,334.1 289.6,332.8 287.6,334.1 288.2,331.8 286.3,330.3 288.7,330.1ZM295.8,326.1 296.7,328.3 299.1,328.5 297.2,329.9 297.8,332.3 295.8,331.0 293.8,332.3 294.4,329.9 292.6,328.5 295.0,328.3ZM294.3,321.2 295.2,323.4 297.6,323.5 295.7,325.0 296.3,327.3 294.3,326.0 292.3,327.3 293.0,325.0 291.1,323.5 293.5,323.4ZM294.5,340.9 295.4,343.1 297.7,343.2 295.9,344.7 296.5,347.1 294.5,345.8 292.5,347.1 293.1,344.7 291.3,343.2 293.7,343.1ZM282.7,327.5 283.6,329.7 285.9,329.8 284.1,331.3 284.7,333.6 282.7,332.3 280.7,333.6 281.3,331.3 279.5,329.8 281.8,329.7ZM291.5,339.7 292.4,341.9 294.8,342.0 292.9,343.5 293.5,345.8 291.5,344.5 289.5,345.8 290.2,343.5 288.3,342.0 290.7,341.9ZM275.3,367.6 276.2,369.8 278.5,369.9 276.7,371.4 277.3,373.8 275.3,372.4 273.3,373.8 273.9,371.4 272.1,369.9 274.4,369.8ZM288.8,371.5 289.7,373.7 292.0,373.8 290.2,375.3 290.8,377.7 288.8,376.3 286.8,377.7 287.4,375.3 285.6,373.8 287.9,373.7ZM290.7,380.4 291.6,382.6 293.9,382.7 292.1,384.2 292.7,386.6 290.7,385.2 288.7,386.6 289.3,384.2 287.5,382.7 289.8,382.6ZM282.1,383.8 283.0,386.0 285.3,386.1 283.5,387.6 284.1,390.0 282.1,388.6 280.1,390.0 280.7,387.6 278.9,386.1 281.2,386.0ZM281.5,388.1 282.4,390.3 284.7,390.4 282.9,391.9 283.5,394.3 281.5,392.9 279.5,394.3 280.1,391.9 278.3,390.4 280.6,390.3ZM274.1,391.2 275.0,393.4 277.3,393.5 275.5,395.0 276.1,397.4 274.1,396.1 272.1,397.4 272.7,395.0 270.9,393.5 273.2,393.4ZM274.1,394.3 275.0,396.5 277.3,396.6 275.5,398.1 276.1,400.5 274.1,399.1 272.1,400.5 272.7,398.1 270.9,396.6 273.2,396.5ZM274.4,367.4 275.3,369.6 277.6,369.7 275.8,371.2 276.4,373.6 274.4,372.2 272.4,373.6 273.0,371.2 271.2,369.7 273.5,369.6ZM284.9,358.6 285.8,360.8 288.1,360.9 286.3,362.4 286.9,364.8 284.9,363.4 282.9,364.8 283.5,362.4 281.7,360.9 284.0,360.8ZM285.8,361.2 286.7,363.4 289.0,363.5 287.2,365.0 287.8,367.4 285.8,366.1 283.8,367.4 284.4,365.0 282.6,363.5 284.9,363.4ZM291.9,363.5 292.8,365.7 295.1,365.8 293.3,367.3 293.9,369.7 291.9,368.3 289.9,369.7 290.5,367.3 288.7,365.8 291.0,365.7ZM289.3,370.9 290.2,373.1 292.5,373.2 290.7,374.7 291.3,377.1 289.3,375.8 287.3,377.1 287.9,374.7 286.1,373.2 288.4,373.1ZM299.8,342.9 300.7,345.1 303.0,345.2 301.2,346.7 301.8,349.1 299.8,347.8 297.8,349.1 298.4,346.7 296.6,345.2 298.9,345.1ZM300.6,347.2 301.5,349.4 303.8,349.5 302.0,351.0 302.6,353.4 300.6,352.1 298.6,353.4 299.2,351.0 297.4,349.5 299.7,349.4ZM299.8,353.4 300.7,355.6 303.0,355.7 301.2,357.2 301.8,359.6 299.8,358.2 297.8,359.6 298.4,357.2 296.6,355.7 298.9,355.6ZM305.0,351.6 305.9,353.8 308.2,353.9 306.4,355.4 307.0,357.8 305.0,356.4 303.0,357.8 303.6,355.4 301.8,353.9 304.1,353.8ZM303.3,345.5 304.2,347.7 306.5,347.8 304.7,349.3 305.3,351.7 303.3,350.3 301.3,351.7 301.9,349.3 300.1,347.8 302.4,347.7ZM310.3,341.1 311.2,343.3 313.5,343.4 311.7,344.9 312.3,347.3 310.3,345.9 308.3,347.3 308.9,344.9 307.1,343.4 309.4,343.3ZM316.4,338.5 317.3,340.7 319.6,340.8 317.8,342.3 318.4,344.7 316.4,343.3 314.4,344.7 315.0,342.3 313.2,340.8 315.5,340.7ZM309.4,335.0 310.3,337.2 312.6,337.3 310.8,338.8 311.4,341.2 309.4,339.8 307.4,341.2 308.0,338.8 306.2,337.3 308.5,337.2ZM290.1,335.0 291.0,337.2 293.3,337.3 291.5,338.8 292.1,341.2 290.1,339.8 288.1,341.2 288.7,338.8 286.9,337.3 289.2,337.2ZM288.4,342.0 289.3,344.2 291.6,344.3 289.8,345.8 290.4,348.2 288.4,346.8 286.4,348.2 287.0,345.8 285.2,344.3 287.5,344.2ZM296.3,330.6 297.2,332.8 299.5,332.9 297.7,334.4 298.3,336.8 296.3,335.4 294.3,336.8 294.9,334.4 293.1,332.9 295.4,332.8ZM301.5,328.0 302.4,330.2 304.7,330.3 302.9,331.8 303.5,334.2 301.5,332.8 299.5,334.2 300.1,331.8 298.3,330.3 300.6,330.2ZM284.0,323.6 284.9,325.8 287.2,325.9 285.4,327.4 286.0,329.8 284.0,328.4 282.0,329.8 282.6,327.4 280.8,325.9 283.1,325.8ZM343.5,321.6 344.4,323.8 346.7,323.9 344.9,325.4 345.5,327.8 343.5,326.4 341.5,327.8 342.1,325.4 340.3,323.9 342.6,323.8ZM355.8,326.0 356.7,328.2 359.0,328.3 357.2,329.8 357.8,332.2 355.8,330.8 353.8,332.2 354.4,329.8 352.6,328.3 354.9,328.2ZM366.3,319.0 367.2,321.2 369.5,321.3 367.7,322.8 368.3,325.2 366.3,323.8 364.3,325.2 364.9,322.8 363.1,321.3 365.4,321.2ZM378.5,320.7 379.4,322.9 381.7,323.0 379.9,324.5 380.5,326.9 378.5,325.6 376.5,326.9 377.1,324.5 375.3,323.0 377.6,322.9ZM392.5,321.6 393.4,323.8 395.7,323.9 393.9,325.4 394.5,327.8 392.5,326.4 390.5,327.8 391.1,325.4 389.3,323.9 391.6,323.8ZM340.0,297.6 340.9,299.8 343.2,299.9 341.4,301.4 342.0,303.8 340.0,302.4 338.0,303.8 338.6,301.4 336.8,299.9 339.1,299.8ZM344.0,302.6 344.9,304.8 347.2,304.9 345.4,306.4 346.0,308.8 344.0,307.4 342.0,308.8 342.6,306.4 340.8,304.9 343.1,304.8ZM300.0,314.6 300.9,316.8 303.2,316.9 301.4,318.4 302.0,320.8 300.0,319.4 298.0,320.8 298.6,318.4 296.8,316.9 299.1,316.8ZM306.0,318.6 306.9,320.8 309.2,320.9 307.4,322.4 308.0,324.8 306.0,323.4 304.0,324.8 304.6,322.4 302.8,320.9 305.1,320.8Z" fill="#4472c4" clip-path="url(#c11)"/>
<path d="M513.80,269.50 L519.70,272.90 L524.30,278.10 L530.20,283.40 L536.80,282.70 L542.00,283.40 L548.00,283.00 L554.00,288.00 L558.00,295.00 L562.00,299.60 L569.60,302.50 L576.00,305.00 L580.00,308.50 L576.00,310.00 L569.00,307.50 L562.00,306.00 L558.70,314.00 L556.30,323.70 L549.00,329.70 L543.00,333.30 L538.20,335.00 L532.00,330.00 L527.80,320.00 L520.00,312.00 L512.00,304.00 L508.00,296.00 L509.20,289.30 L509.80,282.10 L510.50,274.20Z" fill="#4472c4" clip-path="url(#c21)"/>
<path d="M513.3,267.0 514.2,269.2 516.5,269.3 514.7,270.8 515.3,273.1 513.3,271.8 511.3,273.1 511.9,270.8 510.1,269.3 512.5,269.2ZM516.6,268.1 517.4,270.3 519.8,270.4 518.0,271.9 518.6,274.2 516.6,272.9 514.6,274.2 515.2,271.9 513.4,270.4 515.7,270.3ZM519.0,270.1 519.9,272.3 522.2,272.5 520.4,274.0 521.0,276.3 519.0,275.0 517.0,276.3 517.6,274.0 515.8,272.5 518.2,272.3ZM522.4,271.8 523.2,274.0 525.6,274.1 523.7,275.6 524.4,277.9 522.4,276.6 520.4,277.9 521.0,275.6 519.1,274.1 521.5,274.0ZM524.2,274.9 525.0,277.1 527.4,277.2 525.5,278.7 526.2,281.0 524.2,279.7 522.2,281.0 522.8,278.7 520.9,277.2 523.3,277.1ZM527.0,277.7 527.8,279.9 530.2,280.0 528.3,281.5 529.0,283.8 527.0,282.5 525.0,283.8 525.6,281.5 523.7,280.0 526.1,279.9ZM530.2,280.4 531.1,282.6 533.5,282.7 531.6,284.2 532.2,286.5 530.2,285.2 528.2,286.5 528.9,284.2 527.0,282.7 529.4,282.6ZM533.7,281.2 534.5,283.5 536.9,283.6 535.0,285.1 535.7,287.4 533.7,286.1 531.7,287.4 532.3,285.1 530.4,283.6 532.8,283.5ZM536.6,280.4 537.5,282.7 539.9,282.8 538.0,284.3 538.6,286.6 536.6,285.3 534.7,286.6 535.3,284.3 533.4,282.8 535.8,282.7ZM542.1,280.9 542.9,283.1 545.3,283.2 543.4,284.7 544.1,287.0 542.1,285.7 540.1,287.0 540.7,284.7 538.8,283.2 541.2,283.1ZM545.1,281.5 546.0,283.8 548.3,283.9 546.5,285.4 547.1,287.7 545.1,286.4 543.1,287.7 543.7,285.4 541.9,283.9 544.3,283.8ZM547.4,280.4 548.2,282.6 550.6,282.7 548.8,284.2 549.4,286.5 547.4,285.2 545.4,286.5 546.0,284.2 544.1,282.7 546.5,282.6ZM550.2,283.1 551.0,285.3 553.4,285.4 551.6,286.9 552.2,289.2 550.2,287.9 548.2,289.2 548.8,286.9 547.0,285.4 549.3,285.3ZM553.3,285.0 554.1,287.2 556.5,287.4 554.7,288.8 555.3,291.2 553.3,289.9 551.3,291.2 551.9,288.8 550.1,287.4 552.4,287.2ZM555.5,288.4 556.4,290.6 558.8,290.7 556.9,292.2 557.5,294.5 555.5,293.2 553.5,294.5 554.1,292.2 552.3,290.7 554.7,290.6ZM556.6,292.8 557.5,295.0 559.9,295.1 558.0,296.6 558.6,298.9 556.6,297.6 554.6,298.9 555.3,296.6 553.4,295.1 555.8,295.0ZM559.7,294.2 560.6,296.4 562.9,296.5 561.1,298.0 561.7,300.3 559.7,299.0 557.7,300.3 558.3,298.0 556.5,296.5 558.8,296.4ZM561.6,297.2 562.5,299.4 564.8,299.6 563.0,301.1 563.6,303.4 561.6,302.1 559.6,303.4 560.2,301.1 558.4,299.6 560.8,299.4ZM566.0,297.2 566.8,299.4 569.2,299.5 567.4,301.0 568.0,303.3 566.0,302.0 564.0,303.3 564.6,301.0 562.7,299.5 565.1,299.4ZM569.1,300.4 570.0,302.6 572.3,302.7 570.5,304.2 571.1,306.5 569.1,305.2 567.1,306.5 567.7,304.2 565.9,302.7 568.2,302.6ZM573.0,299.9 573.8,302.1 576.2,302.2 574.4,303.7 575.0,306.0 573.0,304.7 571.0,306.0 571.6,303.7 569.7,302.2 572.1,302.1ZM575.4,302.2 576.3,304.5 578.7,304.6 576.8,306.1 577.4,308.4 575.4,307.1 573.4,308.4 574.1,306.1 572.2,304.6 574.6,304.5ZM579.5,303.8 580.3,306.0 582.7,306.1 580.9,307.6 581.5,309.9 579.5,308.6 577.5,309.9 578.1,307.6 576.3,306.1 578.6,306.0ZM575.9,306.9 576.8,309.1 579.1,309.2 577.3,310.7 577.9,313.0 575.9,311.7 573.9,313.0 574.5,310.7 572.7,309.2 575.0,309.1ZM572.6,304.9 573.5,307.2 575.9,307.3 574.0,308.8 574.6,311.1 572.6,309.8 570.6,311.1 571.3,308.8 569.4,307.3 571.8,307.2ZM568.9,304.5 569.8,306.7 572.1,306.9 570.3,308.4 570.9,310.7 568.9,309.4 566.9,310.7 567.5,308.4 565.7,306.9 568.1,306.7ZM565.6,302.8 566.5,305.0 568.8,305.2 567.0,306.7 567.6,309.0 565.6,307.7 563.6,309.0 564.2,306.7 562.4,305.2 564.8,305.0ZM561.3,302.3 562.1,304.5 564.5,304.7 562.7,306.2 563.3,308.5 561.3,307.2 559.3,308.5 559.9,306.2 558.1,304.7 560.4,304.5ZM559.5,304.7 560.3,306.9 562.7,307.0 560.9,308.5 561.5,310.8 559.5,309.5 557.5,310.8 558.1,308.5 556.3,307.0 558.6,306.9ZM560.2,308.1 561.0,310.3 563.4,310.4 561.6,311.9 562.2,314.2 560.2,312.9 558.2,314.2 558.8,311.9 557.0,310.4 559.3,310.3ZM557.5,310.3 558.3,312.5 560.7,312.6 558.9,314.1 559.5,316.5 557.5,315.2 555.5,316.5 556.1,314.1 554.3,312.6 556.6,312.5ZM557.0,313.6 557.9,315.8 560.2,316.0 558.4,317.5 559.0,319.8 557.0,318.5 555.0,319.8 555.6,317.5 553.8,316.0 556.2,315.8ZM556.6,316.9 557.4,319.2 559.8,319.3 557.9,320.8 558.6,323.1 556.6,321.8 554.6,323.1 555.2,320.8 553.3,319.3 555.7,319.2ZM556.0,319.9 556.8,322.1 559.2,322.2 557.3,323.7 558.0,326.0 556.0,324.7 554.0,326.0 554.6,323.7 552.7,322.2 555.1,322.1ZM553.8,322.3 554.7,324.5 557.1,324.6 555.2,326.1 555.8,328.4 553.8,327.1 551.8,328.4 552.5,326.1 550.6,324.6 553.0,324.5ZM550.8,323.5 551.6,325.7 554.0,325.8 552.1,327.3 552.8,329.6 550.8,328.3 548.8,329.6 549.4,327.3 547.5,325.8 549.9,325.7ZM548.0,324.7 548.9,326.9 551.3,327.1 549.4,328.6 550.0,330.9 548.0,329.6 546.0,330.9 546.7,328.6 544.8,327.1 547.2,326.9ZM545.3,327.0 546.2,329.2 548.6,329.3 546.7,330.8 547.3,333.1 545.3,331.8 543.3,333.1 544.0,330.8 542.1,329.3 544.5,329.2ZM542.5,328.6 543.4,330.8 545.8,331.0 543.9,332.4 544.5,334.8 542.5,333.5 540.5,334.8 541.2,332.4 539.3,331.0 541.7,330.8ZM538.9,330.8 539.7,333.0 542.1,333.1 540.3,334.6 540.9,336.9 538.9,335.6 536.9,336.9 537.5,334.6 535.6,333.1 538.0,333.0ZM536.2,327.7 537.1,329.9 539.4,330.1 537.6,331.6 538.2,333.9 536.2,332.6 534.2,333.9 534.8,331.6 533.0,330.1 535.4,329.9ZM533.6,325.9 534.5,328.1 536.9,328.3 535.0,329.8 535.6,332.1 533.6,330.8 531.6,332.1 532.2,329.8 530.4,328.3 532.8,328.1ZM530.1,323.5 531.0,325.7 533.3,325.8 531.5,327.3 532.1,329.6 530.1,328.3 528.1,329.6 528.7,327.3 526.9,325.8 529.3,325.7ZM529.7,319.7 530.6,321.9 532.9,322.1 531.1,323.6 531.7,325.9 529.7,324.6 527.7,325.9 528.3,323.6 526.5,322.1 528.9,321.9ZM528.1,316.3 528.9,318.5 531.3,318.7 529.5,320.2 530.1,322.5 528.1,321.2 526.1,322.5 526.7,320.2 524.9,318.7 527.2,318.5ZM526.4,312.8 527.3,315.0 529.6,315.1 527.8,316.6 528.4,318.9 526.4,317.6 524.4,318.9 525.0,316.6 523.2,315.1 525.6,315.0ZM523.9,310.0 524.7,312.2 527.1,312.4 525.3,313.9 525.9,316.2 523.9,314.9 521.9,316.2 522.5,313.9 520.6,312.4 523.0,312.2ZM521.1,307.5 522.0,309.7 524.3,309.8 522.5,311.3 523.1,313.6 521.1,312.3 519.1,313.6 519.7,311.3 517.9,309.8 520.3,309.7ZM517.8,306.8 518.7,309.0 521.1,309.1 519.2,310.6 519.8,312.9 517.8,311.6 515.8,312.9 516.4,310.6 514.6,309.1 517.0,309.0ZM516.7,303.9 517.5,306.1 519.9,306.3 518.1,307.8 518.7,310.1 516.7,308.8 514.7,310.1 515.3,307.8 513.4,306.3 515.8,306.1ZM515.1,301.5 515.9,303.8 518.3,303.9 516.4,305.4 517.1,307.7 515.1,306.4 513.1,307.7 513.7,305.4 511.8,303.9 514.2,303.8ZM513.2,300.0 514.0,302.2 516.4,302.4 514.6,303.9 515.2,306.2 513.2,304.9 511.2,306.2 511.8,303.9 509.9,302.4 512.3,302.2ZM510.9,297.8 511.8,300.0 514.2,300.1 512.3,301.6 512.9,303.9 510.9,302.6 508.9,303.9 509.6,301.6 507.7,300.1 510.1,300.0ZM509.5,295.2 510.3,297.4 512.7,297.6 510.8,299.0 511.5,301.4 509.5,300.1 507.5,301.4 508.1,299.0 506.2,297.6 508.6,297.4ZM508.2,292.6 509.0,294.9 511.4,295.0 509.6,296.5 510.2,298.8 508.2,297.5 506.2,298.8 506.8,296.5 504.9,295.0 507.3,294.9ZM508.8,289.3 509.7,291.5 512.1,291.6 510.2,293.1 510.8,295.4 508.8,294.1 506.8,295.4 507.4,293.1 505.6,291.6 508.0,291.5ZM510.3,286.0 511.2,288.2 513.6,288.3 511.7,289.8 512.3,292.1 510.3,290.8 508.3,292.1 509.0,289.8 507.1,288.3 509.5,288.2ZM509.0,282.3 509.8,284.5 512.2,284.6 510.4,286.1 511.0,288.4 509.0,287.1 507.0,288.4 507.6,286.1 505.8,284.6 508.1,284.5ZM509.7,278.7 510.6,280.9 513.0,281.0 511.1,282.5 511.7,284.8 509.7,283.5 507.7,284.8 508.3,282.5 506.5,281.0 508.9,280.9ZM510.8,274.8 511.7,277.0 514.1,277.2 512.2,278.7 512.8,281.0 510.8,279.7 508.8,281.0 509.4,278.7 507.6,277.2 510.0,277.0ZM511.9,271.8 512.7,274.0 515.1,274.1 513.3,275.6 513.9,277.9 511.9,276.6 509.9,277.9 510.5,275.6 508.6,274.1 511.0,274.0ZM512.7,268.9 513.6,271.1 516.0,271.2 514.1,272.7 514.7,275.0 512.7,273.7 510.7,275.0 511.4,272.7 509.5,271.2 511.9,271.1Z" fill="#4472c4" clip-path="url(#c21)"/>
<path d="M524.0,299.0 524.6,299.9 525.6,300.1 524.9,300.9 525.0,301.9 524.0,301.5 523.1,301.9 523.2,300.9 522.5,300.1 523.5,299.9ZM536.3,297.0 536.8,297.9 537.8,298.1 537.1,298.9 537.2,299.9 536.3,299.5 535.3,299.9 535.4,298.9 534.7,298.1 535.7,297.9ZM537.2,298.3 537.8,299.1 538.8,299.4 538.1,300.2 538.2,301.2 537.2,300.8 536.3,301.2 536.4,300.2 535.7,299.4 536.7,299.1ZM534.3,284.3 534.8,285.2 535.8,285.4 535.1,286.2 535.2,287.2 534.3,286.8 533.3,287.2 533.4,286.2 532.7,285.4 533.7,285.2ZM516.7,286.9 517.3,287.8 518.3,288.0 517.6,288.8 517.7,289.8 516.7,289.4 515.8,289.8 515.9,288.8 515.2,288.0 516.2,287.8ZM527.1,295.1 527.7,296.0 528.7,296.2 528.0,297.0 528.1,298.0 527.1,297.6 526.2,298.0 526.3,297.0 525.6,296.2 526.6,296.0ZM535.8,295.6 536.3,296.5 537.3,296.7 536.6,297.5 536.7,298.5 535.8,298.1 534.8,298.5 534.9,297.5 534.3,296.7 535.3,296.5ZM549.6,316.3 550.2,317.2 551.1,317.4 550.5,318.2 550.6,319.2 549.6,318.8 548.7,319.2 548.8,318.2 548.1,317.4 549.1,317.2ZM532.0,313.5 532.5,314.4 533.5,314.6 532.8,315.4 532.9,316.4 532.0,316.0 531.0,316.4 531.1,315.4 530.4,314.6 531.4,314.4ZM521.8,285.0 522.4,285.9 523.4,286.2 522.7,286.9 522.8,287.9 521.8,287.5 520.9,287.9 521.0,286.9 520.3,286.2 521.3,285.9Z" fill="#ffffff" clip-path="url(#c21)"/>
<path d="M569.60,315.40 L570.90,322.00 L576.20,326.00 L585.40,327.30 L594.70,327.30 L602.60,328.70 L607.90,326.00 L606.60,320.70 L610.60,315.40 L617.20,319.40 L621.10,324.70 L622.50,330.00 L623.80,327.30 L621.10,315.40 L623.80,311.50 L631.70,310.10 L635.70,308.80 L637.00,306.20 L633.00,302.20 L627.80,299.60 L621.10,296.90 L615.80,294.90 L610.60,298.20 L603.90,300.90 L597.30,303.50 L593.40,306.20 L588.10,309.50 L584.10,310.10 L581.50,312.80 L576.20,312.80 L570.90,314.10Z" fill="#4472c4" clip-path="url(#c21)"/>
<path d="M569.8,312.0 570.7,314.2 573.0,314.3 571.2,315.8 571.8,318.1 569.8,316.8 567.8,318.1 568.4,315.8 566.6,314.3 569.0,314.2ZM572.2,314.9 573.1,317.1 575.4,317.3 573.6,318.8 574.2,321.1 572.2,319.8 570.2,321.1 570.8,318.8 569.0,317.3 571.4,317.1ZM571.6,317.7 572.4,319.9 574.8,320.0 573.0,321.5 573.6,323.8 571.6,322.5 569.6,323.8 570.2,321.5 568.4,320.0 570.7,319.9ZM574.7,319.1 575.5,321.3 577.9,321.4 576.1,322.9 576.7,325.2 574.7,323.9 572.7,325.2 573.3,322.9 571.5,321.4 573.8,321.3ZM576.2,322.8 577.0,325.0 579.4,325.2 577.5,326.7 578.2,329.0 576.2,327.7 574.2,329.0 574.8,326.7 572.9,325.2 575.3,325.0ZM579.2,323.6 580.0,325.8 582.4,326.0 580.6,327.4 581.2,329.8 579.2,328.5 577.2,329.8 577.8,327.4 576.0,326.0 578.3,325.8ZM582.5,322.1 583.4,324.3 585.8,324.4 583.9,325.9 584.5,328.2 582.5,326.9 580.5,328.2 581.1,325.9 579.3,324.4 581.7,324.3ZM585.4,322.0 586.3,324.2 588.6,324.3 586.8,325.8 587.4,328.1 585.4,326.8 583.4,328.1 584.0,325.8 582.2,324.3 584.5,324.2ZM588.5,323.5 589.4,325.7 591.7,325.8 589.9,327.3 590.5,329.6 588.5,328.3 586.5,329.6 587.1,327.3 585.3,325.8 587.6,325.7ZM591.6,324.0 592.5,326.2 594.8,326.3 593.0,327.8 593.6,330.1 591.6,328.8 589.6,330.1 590.2,327.8 588.4,326.3 590.7,326.2ZM594.7,324.0 595.5,326.2 597.9,326.4 596.1,327.9 596.7,330.2 594.7,328.9 592.7,330.2 593.3,327.9 591.4,326.4 593.8,326.2ZM598.6,324.6 599.5,326.8 601.9,327.0 600.0,328.5 600.6,330.8 598.6,329.5 596.6,330.8 597.3,328.5 595.4,327.0 597.8,326.8ZM602.6,325.2 603.4,327.5 605.8,327.6 603.9,329.1 604.6,331.4 602.6,330.1 600.6,331.4 601.2,329.1 599.3,327.6 601.7,327.5ZM604.3,322.2 605.2,324.4 607.6,324.5 605.7,326.0 606.3,328.3 604.3,327.0 602.3,328.3 603.0,326.0 601.1,324.5 603.5,324.4ZM607.1,322.8 608.0,325.0 610.4,325.1 608.5,326.6 609.1,328.9 607.1,327.6 605.1,328.9 605.8,326.6 603.9,325.1 606.3,325.0ZM606.5,317.3 607.4,319.5 609.8,319.6 607.9,321.1 608.5,323.4 606.5,322.1 604.5,323.4 605.2,321.1 603.3,319.6 605.7,319.5ZM608.3,314.4 609.2,316.7 611.6,316.8 609.7,318.3 610.3,320.6 608.3,319.3 606.3,320.6 606.9,318.3 605.1,316.8 607.5,316.7ZM610.3,312.5 611.2,314.7 613.5,314.8 611.7,316.3 612.3,318.6 610.3,317.3 608.3,318.6 608.9,316.3 607.1,314.8 609.5,314.7ZM614.5,313.0 615.4,315.2 617.8,315.3 615.9,316.8 616.5,319.1 614.5,317.8 612.5,319.1 613.1,316.8 611.3,315.3 613.7,315.2ZM617.8,315.6 618.6,317.8 621.0,317.9 619.1,319.4 619.8,321.7 617.8,320.4 615.8,321.7 616.4,319.4 614.5,317.9 616.9,317.8ZM619.2,318.6 620.1,320.8 622.4,321.0 620.6,322.5 621.2,324.8 619.2,323.5 617.2,324.8 617.8,322.5 616.0,321.0 618.4,320.8ZM620.6,321.4 621.5,323.7 623.9,323.8 622.0,325.3 622.6,327.6 620.6,326.3 618.6,327.6 619.2,325.3 617.4,323.8 619.8,323.7ZM622.4,326.6 623.3,328.8 625.6,328.9 623.8,330.4 624.4,332.7 622.4,331.4 620.4,332.7 621.0,330.4 619.2,328.9 621.6,328.8ZM622.7,324.1 623.6,326.4 625.9,326.5 624.1,328.0 624.7,330.3 622.7,329.0 620.7,330.3 621.3,328.0 619.5,326.5 621.9,326.4ZM621.6,321.3 622.5,323.5 624.9,323.6 623.0,325.1 623.6,327.4 621.6,326.1 619.6,327.4 620.3,325.1 618.4,323.6 620.8,323.5ZM622.7,317.9 623.6,320.1 626.0,320.2 624.1,321.7 624.7,324.0 622.7,322.7 620.7,324.0 621.4,321.7 619.5,320.2 621.9,320.1ZM620.1,315.4 621.0,317.6 623.3,317.7 621.5,319.2 622.1,321.5 620.1,320.2 618.1,321.5 618.7,319.2 616.9,317.7 619.3,317.6ZM619.8,311.1 620.6,313.3 623.0,313.4 621.2,314.9 621.8,317.2 619.8,315.9 617.8,317.2 618.4,314.9 616.6,313.4 618.9,313.3ZM623.6,307.1 624.5,309.4 626.9,309.5 625.0,311.0 625.6,313.3 623.6,312.0 621.6,313.3 622.3,311.0 620.4,309.5 622.8,309.4ZM627.7,306.9 628.5,309.1 630.9,309.3 629.0,310.8 629.7,313.1 627.7,311.8 625.7,313.1 626.3,310.8 624.4,309.3 626.8,309.1ZM631.2,305.3 632.1,307.5 634.5,307.6 632.6,309.1 633.2,311.4 631.2,310.1 629.2,311.4 629.9,309.1 628.0,307.6 630.4,307.5ZM635.8,305.4 636.6,307.7 639.0,307.8 637.2,309.3 637.8,311.6 635.8,310.3 633.8,311.6 634.4,309.3 632.6,307.8 634.9,307.7ZM636.6,303.2 637.5,305.4 639.9,305.5 638.0,307.0 638.6,309.3 636.6,308.0 634.6,309.3 635.2,307.0 633.4,305.5 635.8,305.4ZM634.1,301.7 635.0,303.9 637.4,304.0 635.5,305.5 636.1,307.8 634.1,306.5 632.1,307.8 632.8,305.5 630.9,304.0 633.3,303.9ZM632.4,299.9 633.3,302.1 635.7,302.3 633.8,303.8 634.4,306.1 632.4,304.8 630.4,306.1 631.1,303.8 629.2,302.3 631.6,302.1ZM630.2,297.8 631.1,300.1 633.5,300.2 631.6,301.7 632.2,304.0 630.2,302.7 628.2,304.0 628.9,301.7 627.0,300.2 629.4,300.1ZM627.7,296.4 628.6,298.6 631.0,298.7 629.1,300.2 629.7,302.5 627.7,301.2 625.7,302.5 626.3,300.2 624.5,298.7 626.9,298.6ZM624.2,295.4 625.1,297.7 627.4,297.8 625.6,299.3 626.2,301.6 624.2,300.3 622.2,301.6 622.8,299.3 621.0,297.8 623.4,297.7ZM620.6,294.9 621.4,297.2 623.8,297.3 621.9,298.8 622.6,301.1 620.6,299.8 618.6,301.1 619.2,298.8 617.3,297.3 619.7,297.2ZM618.0,293.6 618.9,295.8 621.3,296.0 619.4,297.5 620.0,299.8 618.0,298.5 616.0,299.8 616.7,297.5 614.8,296.0 617.2,295.8ZM615.5,291.0 616.4,293.3 618.7,293.4 616.9,294.9 617.5,297.2 615.5,295.9 613.5,297.2 614.1,294.9 612.3,293.4 614.7,293.3ZM613.4,293.4 614.2,295.6 616.6,295.8 614.7,297.3 615.4,299.6 613.4,298.3 611.4,299.6 612.0,297.3 610.1,295.8 612.5,295.6ZM611.3,296.4 612.1,298.6 614.5,298.8 612.6,300.3 613.2,302.6 611.3,301.3 609.3,302.6 609.9,300.3 608.0,298.8 610.4,298.6ZM607.8,297.5 608.6,299.7 611.0,299.8 609.2,301.3 609.8,303.6 607.8,302.3 605.8,303.6 606.4,301.3 604.5,299.8 606.9,299.7ZM604.0,297.8 604.9,300.0 607.2,300.1 605.4,301.6 606.0,303.9 604.0,302.6 602.0,303.9 602.6,301.6 600.8,300.1 603.2,300.0ZM600.7,299.1 601.6,301.3 603.9,301.4 602.1,302.9 602.7,305.2 600.7,303.9 598.7,305.2 599.3,302.9 597.5,301.4 599.9,301.3ZM598.0,301.0 598.8,303.3 601.2,303.4 599.3,304.9 599.9,307.2 598.0,305.9 596.0,307.2 596.6,304.9 594.7,303.4 597.1,303.3ZM594.3,304.2 595.1,306.4 597.5,306.5 595.6,308.0 596.3,310.3 594.3,309.0 592.3,310.3 592.9,308.0 591.0,306.5 593.4,306.4ZM591.6,305.8 592.4,308.0 594.8,308.1 593.0,309.6 593.6,311.9 591.6,310.6 589.6,311.9 590.2,309.6 588.3,308.1 590.7,308.0ZM588.2,307.0 589.1,309.2 591.5,309.3 589.6,310.8 590.2,313.1 588.2,311.8 586.2,313.1 586.8,310.8 585.0,309.3 587.4,309.2ZM583.7,306.3 584.6,308.6 587.0,308.7 585.1,310.2 585.7,312.5 583.7,311.2 581.7,312.5 582.4,310.2 580.5,308.7 582.9,308.6ZM581.5,308.9 582.4,311.2 584.7,311.3 582.9,312.8 583.5,315.1 581.5,313.8 579.5,315.1 580.1,312.8 578.3,311.3 580.6,311.2ZM576.1,309.1 577.0,311.3 579.4,311.5 577.5,313.0 578.1,315.3 576.1,314.0 574.1,315.3 574.7,313.0 572.9,311.5 575.3,311.3ZM571.0,310.8 571.8,313.0 574.2,313.1 572.4,314.6 573.0,316.9 571.0,315.6 569.0,316.9 569.6,314.6 567.8,313.1 570.1,313.0Z" fill="#4472c4" clip-path="url(#c21)"/>
<path d="M545.00,281.00 L550.00,278.00 L558.00,275.00 L565.00,274.00 L572.00,270.50 L580.20,268.20 L588.40,267.00 L597.70,265.80 L603.60,268.20 L609.40,266.40 L615.30,267.00 L621.10,270.50 L623.50,274.60 L628.10,274.00 L635.20,275.70 L636.90,278.60 L636.30,285.40 L632.80,288.70 L627.00,289.90 L621.10,291.00 L616.40,293.40 L611.80,293.40 L605.90,292.20 L600.00,294.60 L594.20,297.80 L588.40,294.60 L582.50,290.00 L579.00,285.60 L575.50,287.70 L570.80,290.10 L565.00,291.20 L555.00,290.00 L548.00,292.00 L545.00,288.00Z" fill="#ee2828" clip-path="url(#c21)"/>
<path d="M545.2,277.9 546.0,280.1 548.4,280.2 546.5,281.7 547.2,284.0 545.2,282.7 543.2,284.0 543.8,281.7 541.9,280.2 544.3,280.1ZM547.5,276.0 548.3,278.3 550.7,278.4 548.8,279.9 549.5,282.2 547.5,280.9 545.5,282.2 546.1,279.9 544.2,278.4 546.6,278.3ZM550.2,275.2 551.1,277.4 553.5,277.6 551.6,279.1 552.2,281.4 550.2,280.1 548.2,281.4 548.9,279.1 547.0,277.6 549.4,277.4ZM553.1,274.7 553.9,276.9 556.3,277.0 554.4,278.5 555.1,280.8 553.1,279.5 551.1,280.8 551.7,278.5 549.8,277.0 552.2,276.9ZM555.2,272.1 556.0,274.4 558.4,274.5 556.5,276.0 557.2,278.3 555.2,277.0 553.2,278.3 553.8,276.0 551.9,274.5 554.3,274.4ZM558.1,272.3 559.0,274.5 561.3,274.7 559.5,276.2 560.1,278.5 558.1,277.2 556.1,278.5 556.7,276.2 554.9,274.7 557.2,274.5ZM561.7,272.2 562.5,274.4 564.9,274.5 563.0,276.0 563.7,278.3 561.7,277.0 559.7,278.3 560.3,276.0 558.4,274.5 560.8,274.4ZM565.5,271.6 566.3,273.8 568.7,273.9 566.9,275.4 567.5,277.7 565.5,276.4 563.5,277.7 564.1,275.4 562.2,273.9 564.6,273.8ZM568.7,269.3 569.6,271.5 571.9,271.6 570.1,273.1 570.7,275.4 568.7,274.1 566.7,275.4 567.3,273.1 565.5,271.6 567.9,271.5ZM572.1,267.3 572.9,269.5 575.3,269.6 573.4,271.1 574.1,273.4 572.1,272.1 570.1,273.4 570.7,271.1 568.8,269.6 571.2,269.5ZM574.7,266.2 575.5,268.4 577.9,268.5 576.1,270.0 576.7,272.3 574.7,271.0 572.7,272.3 573.3,270.0 571.5,268.5 573.8,268.4ZM577.9,267.0 578.7,269.2 581.1,269.3 579.2,270.8 579.9,273.1 577.9,271.8 575.9,273.1 576.5,270.8 574.6,269.3 577.0,269.2ZM580.5,266.5 581.3,268.8 583.7,268.9 581.8,270.4 582.5,272.7 580.5,271.4 578.5,272.7 579.1,270.4 577.2,268.9 579.6,268.8ZM584.3,264.3 585.2,266.5 587.5,266.6 585.7,268.1 586.3,270.4 584.3,269.1 582.3,270.4 582.9,268.1 581.1,266.6 583.5,266.5ZM588.4,264.0 589.3,266.2 591.7,266.3 589.8,267.8 590.4,270.1 588.4,268.8 586.5,270.1 587.1,267.8 585.2,266.3 587.6,266.2ZM591.6,264.2 592.5,266.4 594.9,266.5 593.0,268.0 593.6,270.3 591.6,269.0 589.6,270.3 590.2,268.0 588.4,266.5 590.8,266.4ZM594.5,262.4 595.4,264.6 597.8,264.7 595.9,266.2 596.5,268.5 594.5,267.2 592.5,268.5 593.2,266.2 591.3,264.7 593.7,264.6ZM597.6,262.6 598.5,264.8 600.9,264.9 599.0,266.4 599.6,268.7 597.6,267.4 595.6,268.7 596.3,266.4 594.4,264.9 596.8,264.8ZM600.4,264.3 601.2,266.5 603.6,266.7 601.7,268.2 602.4,270.5 600.4,269.2 598.4,270.5 599.0,268.2 597.1,266.7 599.5,266.5ZM604.0,266.1 604.9,268.4 607.2,268.5 605.4,270.0 606.0,272.3 604.0,271.0 602.0,272.3 602.6,270.0 600.8,268.5 603.2,268.4ZM606.9,265.1 607.7,267.4 610.1,267.5 608.3,269.0 608.9,271.3 606.9,270.0 604.9,271.3 605.5,269.0 603.7,267.5 606.0,267.4ZM609.4,263.2 610.2,265.4 612.6,265.6 610.8,267.1 611.4,269.4 609.4,268.1 607.4,269.4 608.0,267.1 606.1,265.6 608.5,265.4ZM612.3,263.8 613.2,266.0 615.5,266.1 613.7,267.6 614.3,269.9 612.3,268.6 610.3,269.9 610.9,267.6 609.1,266.1 611.5,266.0ZM614.8,264.4 615.7,266.6 618.1,266.7 616.2,268.2 616.8,270.5 614.8,269.2 612.8,270.5 613.4,268.2 611.6,266.7 614.0,266.6ZM617.2,267.0 618.1,269.2 620.4,269.3 618.6,270.8 619.2,273.1 617.2,271.8 615.2,273.1 615.8,270.8 614.0,269.3 616.4,269.2ZM620.4,267.5 621.2,269.7 623.6,269.9 621.8,271.4 622.4,273.7 620.4,272.4 618.4,273.7 619.0,271.4 617.2,269.9 619.5,269.7ZM623.6,271.9 624.4,274.1 626.8,274.2 625.0,275.7 625.6,278.0 623.6,276.7 621.6,278.0 622.2,275.7 620.4,274.2 622.7,274.1ZM628.2,270.2 629.0,272.4 631.4,272.6 629.6,274.1 630.2,276.4 628.2,275.1 626.2,276.4 626.8,274.1 625.0,272.6 627.3,272.4ZM631.5,272.2 632.3,274.4 634.7,274.6 632.8,276.1 633.5,278.4 631.5,277.1 629.5,278.4 630.1,276.1 628.2,274.6 630.6,274.4ZM634.7,272.6 635.6,274.8 638.0,274.9 636.1,276.4 636.7,278.7 634.7,277.4 632.7,278.7 633.3,276.4 631.5,274.9 633.9,274.8ZM635.5,275.1 636.3,277.3 638.7,277.4 636.8,278.9 637.5,281.2 635.5,279.9 633.5,281.2 634.1,278.9 632.2,277.4 634.6,277.3ZM635.4,278.5 636.2,280.7 638.6,280.8 636.8,282.3 637.4,284.6 635.4,283.3 633.4,284.6 634.0,282.3 632.2,280.8 634.5,280.7ZM635.8,281.5 636.6,283.7 639.0,283.8 637.2,285.3 637.8,287.6 635.8,286.3 633.8,287.6 634.4,285.3 632.6,283.8 634.9,283.7ZM632.8,285.3 633.7,287.6 636.0,287.7 634.2,289.2 634.8,291.5 632.8,290.2 630.8,291.5 631.4,289.2 629.6,287.7 632.0,287.6ZM629.8,285.3 630.6,287.5 633.0,287.6 631.2,289.1 631.8,291.4 629.8,290.1 627.8,291.4 628.4,289.1 626.5,287.6 628.9,287.5ZM626.8,285.7 627.7,287.9 630.1,288.0 628.2,289.5 628.8,291.8 626.8,290.5 624.8,291.8 625.5,289.5 623.6,288.0 626.0,287.9ZM624.0,286.9 624.9,289.1 627.3,289.3 625.4,290.8 626.0,293.1 624.0,291.8 622.0,293.1 622.6,290.8 620.8,289.3 623.2,289.1ZM620.4,286.3 621.3,288.5 623.7,288.7 621.8,290.2 622.4,292.5 620.4,291.2 618.4,292.5 619.1,290.2 617.2,288.7 619.6,288.5ZM616.4,288.5 617.3,290.7 619.6,290.8 617.8,292.3 618.4,294.6 616.4,293.3 614.4,294.6 615.0,292.3 613.2,290.8 615.5,290.7ZM611.8,289.9 612.7,292.2 615.0,292.3 613.2,293.8 613.8,296.1 611.8,294.8 609.8,296.1 610.4,293.8 608.6,292.3 611.0,292.2ZM608.8,289.7 609.6,291.9 612.0,292.0 610.2,293.5 610.8,295.8 608.8,294.5 606.8,295.8 607.4,293.5 605.6,292.0 607.9,291.9ZM605.2,287.1 606.0,289.3 608.4,289.4 606.6,290.9 607.2,293.2 605.2,291.9 603.2,293.2 603.8,290.9 602.0,289.4 604.3,289.3ZM603.2,290.5 604.0,292.8 606.4,292.9 604.6,294.4 605.2,296.7 603.2,295.4 601.2,296.7 601.8,294.4 599.9,292.9 602.3,292.8ZM599.3,289.9 600.2,292.2 602.5,292.3 600.7,293.8 601.3,296.1 599.3,294.8 597.3,296.1 597.9,293.8 596.1,292.3 598.5,292.2ZM596.3,291.4 597.2,293.6 599.5,293.7 597.7,295.2 598.3,297.5 596.3,296.2 594.3,297.5 594.9,295.2 593.1,293.7 595.5,293.6ZM594.6,293.7 595.5,295.9 597.8,296.0 596.0,297.5 596.6,299.8 594.6,298.5 592.6,299.8 593.2,297.5 591.4,296.0 593.7,295.9ZM591.3,292.8 592.1,295.1 594.5,295.2 592.7,296.7 593.3,299.0 591.3,297.7 589.3,299.0 589.9,296.7 588.1,295.2 590.4,295.1ZM588.4,291.2 589.2,293.5 591.6,293.6 589.7,295.1 590.4,297.4 588.4,296.1 586.4,297.4 587.0,295.1 585.1,293.6 587.5,293.5ZM585.8,288.4 586.7,290.6 589.1,290.8 587.2,292.3 587.8,294.6 585.8,293.3 583.8,294.6 584.5,292.3 582.6,290.8 585.0,290.6ZM582.8,286.4 583.6,288.6 586.0,288.7 584.2,290.2 584.8,292.5 582.8,291.2 580.8,292.5 581.4,290.2 579.5,288.7 581.9,288.6ZM581.6,283.7 582.5,285.9 584.9,286.1 583.0,287.6 583.6,289.9 581.6,288.6 579.6,289.9 580.2,287.6 578.4,286.1 580.8,285.9ZM578.8,281.9 579.7,284.1 582.1,284.3 580.2,285.8 580.8,288.1 578.8,286.8 576.8,288.1 577.4,285.8 575.6,284.3 578.0,284.1ZM575.7,284.7 576.5,286.9 578.9,287.0 577.1,288.5 577.7,290.8 575.7,289.5 573.7,290.8 574.3,288.5 572.5,287.0 574.8,286.9ZM570.8,286.8 571.7,289.1 574.1,289.2 572.2,290.7 572.8,293.0 570.8,291.7 568.8,293.0 569.4,290.7 567.6,289.2 570.0,289.1ZM567.7,286.2 568.5,288.4 570.9,288.5 569.1,290.0 569.7,292.3 567.7,291.0 565.7,292.3 566.3,290.0 564.5,288.5 566.8,288.4ZM565.1,287.1 565.9,289.3 568.3,289.4 566.5,290.9 567.1,293.2 565.1,291.9 563.1,293.2 563.7,290.9 561.9,289.4 564.2,289.3ZM561.7,287.2 562.5,289.4 564.9,289.5 563.1,291.0 563.7,293.3 561.7,292.0 559.7,293.3 560.3,291.0 558.5,289.5 560.8,289.4ZM558.4,286.2 559.3,288.4 561.7,288.5 559.8,290.0 560.4,292.3 558.4,291.0 556.4,292.3 557.1,290.0 555.2,288.5 557.6,288.4ZM554.6,285.3 555.5,287.5 557.9,287.6 556.0,289.1 556.6,291.4 554.6,290.1 552.6,291.4 553.2,289.1 551.4,287.6 553.8,287.5ZM551.1,286.2 551.9,288.4 554.3,288.5 552.5,290.0 553.1,292.3 551.1,291.0 549.1,292.3 549.7,290.0 547.9,288.5 550.2,288.4ZM548.2,288.4 549.1,290.7 551.5,290.8 549.6,292.3 550.2,294.6 548.2,293.3 546.2,294.6 546.9,292.3 545.0,290.8 547.4,290.7ZM544.4,284.6 545.3,286.8 547.7,286.9 545.8,288.4 546.4,290.8 544.4,289.4 542.4,290.8 543.1,288.4 541.2,286.9 543.6,286.8ZM545.3,281.1 546.1,283.3 548.5,283.4 546.7,284.9 547.3,287.3 545.3,285.9 543.3,287.3 543.9,284.9 542.0,283.4 544.4,283.3Z" fill="#ee2828" clip-path="url(#c21)"/>
<path d="M577.9,282.0 578.4,282.9 579.4,283.1 578.8,283.9 578.8,284.9 577.9,284.5 577.0,284.9 577.0,283.9 576.4,283.1 577.4,282.9ZM573.1,272.8 573.6,273.7 574.6,273.9 573.9,274.7 574.0,275.7 573.1,275.3 572.1,275.7 572.2,274.7 571.5,273.9 572.5,273.7ZM581.3,286.3 581.8,287.2 582.8,287.4 582.1,288.2 582.2,289.2 581.3,288.8 580.3,289.2 580.4,288.2 579.7,287.4 580.7,287.2ZM612.9,276.1 613.4,277.0 614.4,277.2 613.7,278.0 613.8,279.0 612.9,278.6 611.9,279.0 612.0,278.0 611.3,277.2 612.3,277.0ZM565.3,276.0 565.9,276.9 566.9,277.2 566.2,277.9 566.3,278.9 565.3,278.5 564.4,278.9 564.5,277.9 563.8,277.2 564.8,276.9ZM623.1,278.0 623.6,278.9 624.6,279.1 623.9,279.9 624.0,280.9 623.1,280.5 622.1,280.9 622.2,279.9 621.6,279.1 622.5,278.9ZM605.1,273.9 605.6,274.8 606.6,275.0 606.0,275.8 606.1,276.8 605.1,276.4 604.2,276.8 604.3,275.8 603.6,275.0 604.6,274.8ZM610.9,279.7 611.5,280.5 612.5,280.8 611.8,281.5 611.9,282.6 610.9,282.2 610.0,282.6 610.1,281.5 609.4,280.8 610.4,280.5Z" fill="#ffffff" clip-path="url(#c21)"/>
<path d="M553.2,263.6 554.1,265.8 556.4,265.9 554.6,267.4 555.2,269.8 553.2,268.4 551.2,269.8 551.8,267.4 550.0,265.9 552.3,265.8ZM576.3,261.1 577.2,263.3 579.5,263.4 577.7,264.9 578.3,267.3 576.3,265.9 574.3,267.3 574.9,264.9 573.1,263.4 575.4,263.3ZM599.9,260.3 600.8,262.5 603.1,262.6 601.3,264.1 601.9,266.5 599.9,265.1 597.9,266.5 598.5,264.1 596.7,262.6 599.0,262.5ZM621.8,261.5 622.7,263.7 625.0,263.8 623.2,265.3 623.8,267.7 621.8,266.3 619.8,267.7 620.4,265.3 618.6,263.8 620.9,263.7ZM622.6,293.0 623.5,295.2 625.8,295.3 624.0,296.8 624.6,299.2 622.6,297.8 620.6,299.2 621.2,296.8 619.4,295.3 621.7,295.2ZM611.3,291.2 612.2,293.4 614.5,293.5 612.7,295.0 613.3,297.4 611.3,296.1 609.3,297.4 609.9,295.0 608.1,293.5 610.4,293.4ZM602.5,291.2 603.4,293.4 605.7,293.5 603.9,295.0 604.5,297.4 602.5,296.1 600.5,297.4 601.1,295.0 599.3,293.5 601.6,293.4ZM544.6,269.5 545.5,271.7 547.8,271.8 546.0,273.3 546.6,275.7 544.6,274.3 542.6,275.7 543.2,273.3 541.4,271.8 543.7,271.7ZM547.0,274.6 547.9,276.8 550.2,276.9 548.4,278.4 549.0,280.8 547.0,279.4 545.0,280.8 545.6,278.4 543.8,276.9 546.1,276.8ZM549.0,288.6 549.9,290.8 552.2,290.9 550.4,292.4 551.0,294.8 549.0,293.4 547.0,294.8 547.6,292.4 545.8,290.9 548.1,290.8ZM556.0,289.6 556.9,291.8 559.2,291.9 557.4,293.4 558.0,295.8 556.0,294.4 554.0,295.8 554.6,293.4 552.8,291.9 555.1,291.8ZM541.0,282.6 541.9,284.8 544.2,284.9 542.4,286.4 543.0,288.8 541.0,287.4 539.0,288.8 539.6,286.4 537.8,284.9 540.1,284.8ZM545.0,290.6 545.9,292.8 548.2,292.9 546.4,294.4 547.0,296.8 545.0,295.4 543.0,296.8 543.6,294.4 541.8,292.9 544.1,292.8ZM630.0,289.6 630.9,291.8 633.2,291.9 631.4,293.4 632.0,295.8 630.0,294.4 628.0,295.8 628.6,293.4 626.8,291.9 629.1,291.8ZM635.0,286.6 635.9,288.8 638.2,288.9 636.4,290.4 637.0,292.8 635.0,291.4 633.0,292.8 633.6,290.4 631.8,288.9 634.1,288.8ZM567.0,293.6 567.9,295.8 570.2,295.9 568.4,297.4 569.0,299.8 567.0,298.4 565.0,299.8 565.6,297.4 563.8,295.9 566.1,295.8ZM541.9,307.2 542.5,308.1 543.5,308.3 542.8,309.1 542.9,310.1 541.9,309.7 541.0,310.1 541.1,309.1 540.4,308.3 541.4,308.1ZM546.4,303.3 546.9,304.2 547.9,304.4 547.2,305.2 547.3,306.2 546.4,305.8 545.4,306.2 545.5,305.2 544.9,304.4 545.8,304.2ZM549.0,303.7 549.6,304.5 550.5,304.8 549.9,305.5 550.0,306.5 549.0,306.2 548.1,306.5 548.2,305.5 547.5,304.8 548.5,304.5ZM544.3,308.9 544.8,309.8 545.8,310.0 545.1,310.8 545.2,311.8 544.3,311.4 543.4,311.8 543.4,310.8 542.8,310.0 543.8,309.8ZM557.3,299.4 557.9,300.3 558.9,300.5 558.2,301.3 558.3,302.3 557.3,301.9 556.4,302.3 556.5,301.3 555.8,300.5 556.8,300.3ZM539.0,301.8 539.5,302.7 540.5,302.9 539.8,303.7 539.9,304.7 539.0,304.3 538.0,304.7 538.1,303.7 537.4,302.9 538.4,302.7ZM554.4,302.5 554.9,303.3 555.9,303.6 555.2,304.3 555.3,305.4 554.4,305.0 553.4,305.4 553.5,304.3 552.8,303.6 553.8,303.3ZM540.4,306.6 541.0,307.5 541.9,307.7 541.3,308.5 541.4,309.5 540.4,309.1 539.5,309.5 539.6,308.5 538.9,307.7 539.9,307.5ZM543.8,310.8 544.3,311.7 545.3,311.9 544.6,312.7 544.7,313.7 543.8,313.3 542.8,313.7 542.9,312.7 542.3,311.9 543.3,311.7ZM540.0,304.1 540.6,304.9 541.6,305.2 540.9,305.9 541.0,307.0 540.0,306.6 539.1,307.0 539.2,305.9 538.5,305.2 539.5,304.9ZM545.3,313.1 545.8,313.9 546.8,314.2 546.1,314.9 546.2,315.9 545.3,315.6 544.3,315.9 544.4,314.9 543.7,314.2 544.7,313.9ZM546.0,299.0 546.6,299.8 547.5,300.1 546.9,300.8 547.0,301.8 546.0,301.5 545.1,301.8 545.2,300.8 544.5,300.1 545.5,299.8ZM541.0,301.8 541.5,302.6 542.5,302.9 541.9,303.7 541.9,304.7 541.0,304.3 540.1,304.7 540.1,303.7 539.5,302.9 540.5,302.6ZM541.7,302.1 542.2,302.9 543.2,303.2 542.5,303.9 542.6,305.0 541.7,304.6 540.7,305.0 540.8,303.9 540.1,303.2 541.1,302.9Z" fill="#ee2828" clip-path="url(#c21)"/>
<path d="M627.0,327.6 627.9,329.8 630.2,329.9 628.4,331.4 629.0,333.8 627.0,332.4 625.0,333.8 625.6,331.4 623.8,329.9 626.1,329.8ZM623.0,327.6 623.9,329.8 626.2,329.9 624.4,331.4 625.0,333.8 623.0,332.4 621.0,333.8 621.6,331.4 619.8,329.9 622.1,329.8ZM554.3,288.2 554.8,289.1 555.8,289.3 555.1,290.1 555.2,291.1 554.3,290.7 553.3,291.1 553.4,290.1 552.7,289.3 553.7,289.1ZM557.5,283.6 558.0,284.5 559.0,284.7 558.4,285.5 558.5,286.5 557.5,286.1 556.6,286.5 556.7,285.5 556.0,284.7 557.0,284.5ZM554.5,281.6 555.0,282.4 556.0,282.7 555.3,283.4 555.4,284.5 554.5,284.1 553.5,284.5 553.6,283.4 552.9,282.7 553.9,282.4ZM552.9,277.9 553.4,278.8 554.4,279.0 553.8,279.8 553.9,280.8 552.9,280.4 552.0,280.8 552.1,279.8 551.4,279.0 552.4,278.8ZM555.2,284.8 555.8,285.7 556.8,285.9 556.1,286.7 556.2,287.7 555.2,287.3 554.3,287.7 554.4,286.7 553.7,285.9 554.7,285.7ZM549.2,281.7 549.8,282.6 550.8,282.8 550.1,283.6 550.2,284.6 549.2,284.2 548.3,284.6 548.4,283.6 547.7,282.8 548.7,282.6ZM556.0,282.6 556.6,283.5 557.6,283.7 556.9,284.5 557.0,285.5 556.0,285.1 555.1,285.5 555.2,284.5 554.5,283.7 555.5,283.5ZM559.4,290.0 559.9,290.9 560.9,291.1 560.3,291.9 560.3,292.9 559.4,292.5 558.5,292.9 558.5,291.9 557.9,291.1 558.9,290.9ZM546.1,280.4 546.7,281.3 547.6,281.5 547.0,282.3 547.1,283.3 546.1,282.9 545.2,283.3 545.3,282.3 544.6,281.5 545.6,281.3ZM550.4,286.3 550.9,287.1 551.9,287.4 551.3,288.1 551.4,289.2 550.4,288.8 549.5,289.2 549.6,288.1 548.9,287.4 549.9,287.1Z" fill="#4472c4" clip-path="url(#c21)"/>
<path d="M513.1,326.7 514.0,328.9 516.3,329.0 514.5,330.5 515.1,332.8 513.1,331.5 511.1,332.8 511.7,330.5 509.9,329.0 512.3,328.9ZM502.6,320.2 503.5,322.4 505.8,322.5 504.0,324.0 504.6,326.3 502.6,325.0 500.6,326.3 501.2,324.0 499.4,322.5 501.7,322.4ZM535.5,314.3 536.4,316.6 538.8,316.7 536.9,318.2 537.5,320.5 535.5,319.2 533.5,320.5 534.2,318.2 532.3,316.7 534.7,316.6Z" fill="#ee2828" clip-path="url(#c21)"/>
<path d="M501.6,306.8 502.5,309.0 504.8,309.1 503.0,310.6 503.6,312.9 501.6,311.6 499.6,312.9 500.2,310.6 498.4,309.1 500.8,309.0ZM503.0,329.2 503.9,331.4 506.3,331.5 504.4,333.0 505.0,335.3 503.0,334.0 501.0,335.3 501.7,333.0 499.8,331.5 502.2,331.4ZM510.5,312.7 511.4,314.9 513.8,315.0 511.9,316.5 512.5,318.8 510.5,317.5 508.5,318.8 509.2,316.5 507.3,315.0 509.7,314.9Z" fill="#4472c4" clip-path="url(#c21)"/>
<path d="M505.6,306.1 506.5,308.4 508.9,308.5 507.0,310.0 507.6,312.3 505.6,311.0 503.6,312.3 504.2,310.0 502.4,308.5 504.8,308.4ZM531.4,312.2 532.2,314.5 534.6,314.6 532.8,316.1 533.4,318.4 531.4,317.1 529.4,318.4 530.0,316.1 528.2,314.6 530.5,314.5ZM510.8,311.3 511.6,313.5 514.0,313.7 512.2,315.2 512.8,317.5 510.8,316.2 508.8,317.5 509.4,315.2 507.5,313.7 509.9,313.5Z" fill="#ee2828" clip-path="url(#c21)"/>
<path d="M498.2,328.9 499.1,331.2 501.5,331.3 499.6,332.8 500.2,335.1 498.2,333.8 496.2,335.1 496.9,332.8 495.0,331.3 497.4,331.2ZM523.7,306.2 524.5,308.4 526.9,308.6 525.1,310.1 525.7,312.4 523.7,311.1 521.7,312.4 522.3,310.1 520.5,308.6 522.8,308.4ZM526.9,305.1 527.8,307.4 530.2,307.5 528.3,309.0 528.9,311.3 526.9,310.0 524.9,311.3 525.5,309.0 523.7,307.5 526.1,307.4Z" fill="#4472c4" clip-path="url(#c21)"/>
<path d="M529.4,310.1 530.2,312.3 532.6,312.4 530.8,313.9 531.4,316.2 529.4,314.9 527.4,316.2 528.0,313.9 526.2,312.4 528.5,312.3Z" fill="#ee2828" clip-path="url(#c21)"/>
<path d="M523.5,333.4 524.4,335.6 526.8,335.7 524.9,337.2 525.5,339.5 523.5,338.2 521.5,339.5 522.1,337.2 520.3,335.7 522.7,335.6ZM522.6,320.6 523.4,322.8 525.8,323.0 524.0,324.5 524.6,326.8 522.6,325.5 520.6,326.8 521.2,324.5 519.3,323.0 521.7,322.8ZM534.8,323.1 535.6,325.3 538.0,325.4 536.1,326.9 536.8,329.2 534.8,327.9 532.8,329.2 533.4,326.9 531.5,325.4 533.9,325.3ZM500.9,314.2 501.8,316.4 504.2,316.5 502.3,318.0 502.9,320.3 500.9,319.0 498.9,320.3 499.5,318.0 497.7,316.5 500.1,316.4ZM505.1,316.6 505.9,318.8 508.3,319.0 506.5,320.5 507.1,322.8 505.1,321.5 503.1,322.8 503.7,320.5 501.8,319.0 504.2,318.8Z" fill="#4472c4" clip-path="url(#c21)"/>
<path d="M515.2,331.3 516.1,333.5 518.5,333.7 516.6,335.2 517.2,337.5 515.2,336.2 513.2,337.5 513.9,335.2 512.0,333.7 514.4,333.5ZM532.0,317.5 532.9,319.8 535.3,319.9 533.4,321.4 534.0,323.7 532.0,322.4 530.0,323.7 530.6,321.4 528.8,319.9 531.2,319.8ZM529.3,308.8 530.2,311.1 532.6,311.2 530.7,312.7 531.3,315.0 529.3,313.7 527.3,315.0 527.9,312.7 526.1,311.2 528.5,311.1ZM522.1,324.6 523.0,326.8 525.4,326.9 523.5,328.4 524.1,330.7 522.1,329.4 520.1,330.7 520.7,328.4 518.9,326.9 521.3,326.8Z" fill="#ee2828" clip-path="url(#c21)"/>
<path d="M505.0,311.3 505.8,313.6 508.2,313.7 506.3,315.2 507.0,317.5 505.0,316.2 503.0,317.5 503.6,315.2 501.7,313.7 504.1,313.6ZM526.7,327.1 527.6,329.3 530.0,329.4 528.1,330.9 528.7,333.2 526.7,331.9 524.7,333.2 525.4,330.9 523.5,329.4 525.9,329.3Z" fill="#4472c4" clip-path="url(#c21)"/>
<path d="M537.4,311.9 538.2,314.2 540.6,314.3 538.8,315.8 539.4,318.1 537.4,316.8 535.4,318.1 536.0,315.8 534.2,314.3 536.5,314.2ZM512.4,309.0 513.2,311.3 515.6,311.4 513.8,312.9 514.4,315.2 512.4,313.9 510.4,315.2 511.0,312.9 509.1,311.4 511.5,311.3ZM522.2,305.7 523.0,307.9 525.4,308.0 523.6,309.5 524.2,311.8 522.2,310.5 520.2,311.8 520.8,309.5 518.9,308.0 521.3,307.9ZM530.6,309.7 531.5,312.0 533.9,312.1 532.0,313.6 532.6,315.9 530.6,314.6 528.7,315.9 529.3,313.6 527.4,312.1 529.8,312.0ZM515.6,327.2 516.5,329.4 518.9,329.5 517.0,331.0 517.6,333.3 515.6,332.0 513.7,333.3 514.3,331.0 512.4,329.5 514.8,329.4Z" fill="#ee2828" clip-path="url(#c21)"/>
<path d="M528.5,307.8 529.3,310.0 531.7,310.2 529.8,311.7 530.5,314.0 528.5,312.7 526.5,314.0 527.1,311.7 525.2,310.2 527.6,310.0Z" fill="#4472c4" clip-path="url(#c21)"/>
<path d="M532.2,314.3 533.1,316.5 535.5,316.6 533.6,318.1 534.2,320.4 532.2,319.1 530.3,320.4 530.9,318.1 529.0,316.6 531.4,316.5ZM516.1,302.5 517.0,304.7 519.4,304.8 517.5,306.3 518.1,308.6 516.1,307.3 514.1,308.6 514.8,306.3 512.9,304.8 515.3,304.7ZM525.3,322.1 526.1,324.3 528.5,324.5 526.7,326.0 527.3,328.3 525.3,327.0 523.3,328.3 523.9,326.0 522.1,324.5 524.4,324.3ZM514.4,302.8 515.3,305.0 517.7,305.1 515.8,306.6 516.4,308.9 514.4,307.6 512.4,308.9 513.0,306.6 511.2,305.1 513.6,305.0Z" fill="#ee2828" clip-path="url(#c21)"/>
<path d="M526.4,316.9 527.3,319.1 529.6,319.3 527.8,320.8 528.4,323.1 526.4,321.8 524.4,323.1 525.0,320.8 523.2,319.3 525.5,319.1ZM529.1,329.4 530.0,331.6 532.3,331.7 530.5,333.2 531.1,335.5 529.1,334.2 527.1,335.5 527.7,333.2 525.9,331.7 528.3,331.6Z" fill="#4472c4" clip-path="url(#c21)"/>
<path d="M527.1,333.0 528.0,335.2 530.4,335.3 528.5,336.8 529.1,339.1 527.1,337.8 525.1,339.1 525.8,336.8 523.9,335.3 526.3,335.2ZM522.2,336.0 523.1,338.2 525.4,338.3 523.6,339.8 524.2,342.1 522.2,340.8 520.2,342.1 520.8,339.8 519.0,338.3 521.4,338.2ZM505.3,332.4 506.1,334.6 508.5,334.8 506.7,336.3 507.3,338.6 505.3,337.3 503.3,338.6 503.9,336.3 502.1,334.8 504.4,334.6ZM513.5,332.6 514.3,334.8 516.7,334.9 514.8,336.4 515.5,338.7 513.5,337.4 511.5,338.7 512.1,336.4 510.2,334.9 512.6,334.8Z" fill="#ee2828" clip-path="url(#c21)"/>
<path d="M509.6,315.3 510.4,317.5 512.8,317.7 511.0,319.2 511.6,321.5 509.6,320.2 507.6,321.5 508.2,319.2 506.4,317.7 508.7,317.5ZM519.2,307.3 520.1,309.5 522.4,309.6 520.6,311.1 521.2,313.4 519.2,312.1 517.2,313.4 517.8,311.1 516.0,309.6 518.4,309.5Z" fill="#4472c4" clip-path="url(#c21)"/>
<path d="M505.1,306.0 506.0,308.3 508.4,308.4 506.5,309.9 507.1,312.2 505.1,310.9 503.1,312.2 503.8,309.9 501.9,308.4 504.3,308.3ZM522.6,317.7 523.5,319.9 525.9,320.0 524.0,321.5 524.6,323.8 522.6,322.5 520.6,323.8 521.2,321.5 519.4,320.0 521.8,319.9ZM516.8,309.7 517.6,311.9 520.0,312.0 518.2,313.5 518.8,315.8 516.8,314.5 514.8,315.8 515.4,313.5 513.5,312.0 515.9,311.9ZM512.6,329.9 513.4,332.2 515.8,332.3 513.9,333.8 514.6,336.1 512.6,334.8 510.6,336.1 511.2,333.8 509.3,332.3 511.7,332.2ZM534.4,322.1 535.3,324.3 537.6,324.4 535.8,325.9 536.4,328.2 534.4,326.9 532.4,328.2 533.0,325.9 531.2,324.4 533.6,324.3Z" fill="#ee2828" clip-path="url(#c21)"/>
<path d="M525.6,312.8 526.5,315.0 528.8,315.2 527.0,316.7 527.6,319.0 525.6,317.7 523.6,319.0 524.2,316.7 522.4,315.2 524.8,315.0Z" fill="#4472c4" clip-path="url(#c21)"/>
<path d="M531.7,320.4 532.6,322.6 534.9,322.8 533.1,324.2 533.7,326.6 531.7,325.3 529.7,326.6 530.3,324.2 528.5,322.8 530.9,322.6ZM500.9,321.9 501.8,324.1 504.2,324.2 502.3,325.7 502.9,328.0 500.9,326.7 498.9,328.0 499.6,325.7 497.7,324.2 500.1,324.1Z" fill="#ee2828" clip-path="url(#c21)"/>
<path d="M528.9,306.9 529.7,309.1 532.1,309.2 530.2,310.7 530.9,313.0 528.9,311.7 526.9,313.0 527.5,310.7 525.6,309.2 528.0,309.1ZM512.3,320.5 513.2,322.7 515.5,322.8 513.7,324.3 514.3,326.6 512.3,325.3 510.3,326.6 510.9,324.3 509.1,322.8 511.4,322.7ZM524.6,319.5 525.5,321.7 527.8,321.8 526.0,323.3 526.6,325.6 524.6,324.3 522.6,325.6 523.2,323.3 521.4,321.8 523.8,321.7ZM509.7,313.7 510.5,315.9 512.9,316.0 511.0,317.5 511.7,319.8 509.7,318.5 507.7,319.8 508.3,317.5 506.4,316.0 508.8,315.9Z" fill="#4472c4" clip-path="url(#c21)"/>
<path d="M519.7,306.4 520.6,308.6 523.0,308.7 521.1,310.2 521.7,312.5 519.7,311.2 517.7,312.5 518.3,310.2 516.5,308.7 518.9,308.6ZM513.8,320.3 514.6,322.5 517.0,322.6 515.1,324.1 515.8,326.4 513.8,325.1 511.8,326.4 512.4,324.1 510.5,322.6 512.9,322.5ZM529.9,316.0 530.8,318.2 533.2,318.3 531.3,319.8 531.9,322.1 529.9,320.8 527.9,322.1 528.5,319.8 526.7,318.3 529.1,318.2Z" fill="#ee2828" clip-path="url(#c21)"/>
<path d="M530.8,307.3 531.6,309.5 534.0,309.6 532.1,311.1 532.8,313.4 530.8,312.1 528.8,313.4 529.4,311.1 527.5,309.6 529.9,309.5ZM525.0,310.8 525.9,313.1 528.3,313.2 526.4,314.7 527.0,317.0 525.0,315.7 523.0,317.0 523.7,314.7 521.8,313.2 524.2,313.1ZM507.2,318.2 508.0,320.5 510.4,320.6 508.6,322.1 509.2,324.4 507.2,323.1 505.2,324.4 505.8,322.1 503.9,320.6 506.3,320.5Z" fill="#4472c4" clip-path="url(#c21)"/>
<path d="M530.9,328.6 531.8,330.8 534.1,330.9 532.3,332.4 532.9,334.7 530.9,333.4 528.9,334.7 529.5,332.4 527.7,330.9 530.1,330.8ZM520.3,336.6 521.2,338.9 523.6,339.0 521.7,340.5 522.3,342.8 520.3,341.5 518.3,342.8 519.0,340.5 517.1,339.0 519.5,338.9ZM525.1,333.5 525.9,335.7 528.3,335.9 526.4,337.4 527.0,339.7 525.1,338.4 523.1,339.7 523.7,337.4 521.8,335.9 524.2,335.7ZM526.9,316.4 527.8,318.7 530.2,318.8 528.3,320.3 528.9,322.6 526.9,321.3 524.9,322.6 525.6,320.3 523.7,318.8 526.1,318.7Z" fill="#ee2828" clip-path="url(#c21)"/>
<path d="M516.6,326.8 517.5,329.0 519.8,329.1 518.0,330.6 518.6,332.9 516.6,331.6 514.6,332.9 515.2,330.6 513.4,329.1 515.7,329.0ZM513.0,315.0 513.8,317.2 516.2,317.3 514.3,318.8 515.0,321.1 513.0,319.8 511.0,321.1 511.6,318.8 509.7,317.3 512.1,317.2Z" fill="#4472c4" clip-path="url(#c21)"/>
<path d="M515.6,302.6 516.4,304.9 518.8,305.0 517.0,306.5 517.6,308.8 515.6,307.5 513.6,308.8 514.2,306.5 512.4,305.0 514.7,304.9ZM502.1,313.4 503.0,315.6 505.4,315.7 503.5,317.2 504.1,319.5 502.1,318.2 500.1,319.5 500.8,317.2 498.9,315.7 501.3,315.6ZM511.0,338.8 511.8,341.0 514.2,341.2 512.4,342.7 513.0,345.0 511.0,343.7 509.0,345.0 509.6,342.7 507.7,341.2 510.1,341.0ZM509.8,308.6 510.7,310.8 513.1,310.9 511.2,312.4 511.8,314.7 509.8,313.4 507.8,314.7 508.5,312.4 506.6,310.9 509.0,310.8Z" fill="#ee2828" clip-path="url(#c21)"/>
<path d="M530.5,329.0 531.3,331.2 533.7,331.3 531.9,332.8 532.5,335.1 530.5,333.8 528.5,335.1 529.1,332.8 527.2,331.3 529.6,331.2ZM514.6,321.1 515.4,323.3 517.8,323.4 515.9,324.9 516.6,327.2 514.6,325.9 512.6,327.2 513.2,324.9 511.3,323.4 513.7,323.3Z" fill="#4472c4" clip-path="url(#c21)"/>
<path d="M524.5,311.7 525.3,313.9 527.7,314.0 525.8,315.5 526.5,317.8 524.5,316.5 522.5,317.8 523.1,315.5 521.2,314.0 523.6,313.9ZM503.9,329.8 504.8,332.0 507.2,332.1 505.3,333.6 505.9,335.9 503.9,334.6 501.9,335.9 502.6,333.6 500.7,332.1 503.1,332.0ZM514.7,300.0 515.6,302.3 517.9,302.4 516.1,303.9 516.7,306.2 514.7,304.9 512.7,306.2 513.3,303.9 511.5,302.4 513.9,302.3ZM529.8,320.4 530.6,322.7 533.0,322.8 531.2,324.3 531.8,326.6 529.8,325.3 527.8,326.6 528.4,324.3 526.6,322.8 528.9,322.7Z" fill="#ee2828" clip-path="url(#c21)"/>
<path d="M506.3,308.0 507.1,310.3 509.5,310.4 507.6,311.9 508.3,314.2 506.3,312.9 504.3,314.2 504.9,311.9 503.0,310.4 505.4,310.3ZM529.2,308.3 530.1,310.5 532.5,310.7 530.6,312.2 531.2,314.5 529.2,313.2 527.2,314.5 527.8,312.2 526.0,310.7 528.4,310.5Z" fill="#4472c4" clip-path="url(#c21)"/>
<path d="M511.4,327.0 512.3,329.2 514.7,329.4 512.8,330.9 513.4,333.2 511.4,331.9 509.4,333.2 510.1,330.9 508.2,329.4 510.6,329.2ZM499.5,323.0 500.4,325.3 502.8,325.4 500.9,326.9 501.5,329.2 499.5,327.9 497.5,329.2 498.2,326.9 496.3,325.4 498.7,325.3Z" fill="#ee2828" clip-path="url(#c21)"/>
<path d="M531.7,320.8 532.6,323.0 534.9,323.1 533.1,324.6 533.7,326.9 531.7,325.6 529.7,326.9 530.3,324.6 528.5,323.1 530.9,323.0ZM501.9,327.7 502.8,329.9 505.2,330.1 503.3,331.6 503.9,333.9 501.9,332.6 499.9,333.9 500.5,331.6 498.7,330.1 501.1,329.9ZM519.6,322.7 520.5,324.9 522.8,325.0 521.0,326.5 521.6,328.8 519.6,327.5 517.6,328.8 518.2,326.5 516.4,325.0 518.8,324.9ZM507.8,320.6 508.7,322.8 511.0,322.9 509.2,324.4 509.8,326.7 507.8,325.4 505.8,326.7 506.4,324.4 504.6,322.9 507.0,322.8Z" fill="#4472c4" clip-path="url(#c21)"/>
<path d="M500.1,323.6 500.9,325.8 503.3,325.9 501.4,327.4 502.1,329.7 500.1,328.4 498.1,329.7 498.7,327.4 496.8,325.9 499.2,325.8ZM536.8,317.5 537.6,319.7 540.0,319.8 538.1,321.3 538.8,323.6 536.8,322.3 534.8,323.6 535.4,321.3 533.5,319.8 535.9,319.7ZM502.8,316.5 503.7,318.8 506.1,318.9 504.2,320.4 504.8,322.7 502.8,321.4 500.8,322.7 501.5,320.4 499.6,318.9 502.0,318.8Z" fill="#ee2828" clip-path="url(#c21)"/>
<path d="M521.4,320.5 522.2,322.7 524.6,322.8 522.8,324.3 523.4,326.6 521.4,325.3 519.4,326.6 520.0,324.3 518.1,322.8 520.5,322.7ZM515.9,302.5 516.7,304.7 519.1,304.8 517.3,306.3 517.9,308.6 515.9,307.3 513.9,308.6 514.5,306.3 512.6,304.8 515.0,304.7ZM511.6,313.7 512.4,316.0 514.8,316.1 513.0,317.6 513.6,319.9 511.6,318.6 509.6,319.9 510.2,317.6 508.4,316.1 510.7,316.0Z" fill="#4472c4" clip-path="url(#c21)"/>
<path d="M530.8,311.4 531.6,313.6 534.0,313.7 532.1,315.2 532.8,317.5 530.8,316.2 528.8,317.5 529.4,315.2 527.5,313.7 529.9,313.6ZM524.2,304.9 525.0,307.1 527.4,307.2 525.6,308.7 526.2,311.0 524.2,309.7 522.2,311.0 522.8,308.7 521.0,307.2 523.3,307.1ZM526.0,329.1 526.9,331.3 529.3,331.4 527.4,332.9 528.0,335.2 526.0,333.9 524.0,335.2 524.6,332.9 522.8,331.4 525.2,331.3ZM508.9,304.0 509.7,306.2 512.1,306.4 510.2,307.9 510.9,310.2 508.9,308.9 506.9,310.2 507.5,307.9 505.6,306.4 508.0,306.2Z" fill="#ee2828" clip-path="url(#c21)"/>
<path d="M511.2,334.3 512.0,336.6 514.4,336.7 512.6,338.2 513.2,340.5 511.2,339.2 509.2,340.5 509.8,338.2 507.9,336.7 510.3,336.6ZM499.9,336.1 500.8,338.3 503.1,338.4 501.3,339.9 501.9,342.2 499.9,340.9 497.9,342.2 498.5,339.9 496.7,338.4 499.1,338.3Z" fill="#4472c4" clip-path="url(#c21)"/>
<path d="M530.3,333.9 531.1,336.1 533.5,336.3 531.6,337.8 532.3,340.1 530.3,338.8 528.3,340.1 528.9,337.8 527.0,336.3 529.4,336.1ZM514.0,309.7 514.8,311.9 517.2,312.1 515.4,313.6 516.0,315.9 514.0,314.6 512.0,315.9 512.6,313.6 510.7,312.1 513.1,311.9ZM509.2,332.7 510.1,335.0 512.4,335.1 510.6,336.6 511.2,338.9 509.2,337.6 507.2,338.9 507.8,336.6 506.0,335.1 508.4,335.0ZM513.6,319.2 514.4,321.5 516.8,321.6 514.9,323.1 515.6,325.4 513.6,324.1 511.6,325.4 512.2,323.1 510.3,321.6 512.7,321.5ZM525.9,336.2 526.8,338.4 529.1,338.5 527.3,340.0 527.9,342.3 525.9,341.0 523.9,342.3 524.5,340.0 522.7,338.5 525.1,338.4Z" fill="#ee2828" clip-path="url(#c21)"/>
<path d="M502.9,339.5 503.7,341.7 506.1,341.8 504.3,343.3 504.9,345.6 502.9,344.3 500.9,345.6 501.5,343.3 499.7,341.8 502.0,341.7Z" fill="#4472c4" clip-path="url(#c21)"/>
<path d="M534.9,312.4 535.7,314.6 538.1,314.7 536.2,316.2 536.9,318.5 534.9,317.2 532.9,318.5 533.5,316.2 531.6,314.7 534.0,314.6ZM526.4,335.4 527.3,337.7 529.7,337.8 527.8,339.3 528.4,341.6 526.4,340.3 524.4,341.6 525.1,339.3 523.2,337.8 525.6,337.7ZM519.9,337.2 520.8,339.5 523.2,339.6 521.3,341.1 521.9,343.4 519.9,342.1 517.9,343.4 518.6,341.1 516.7,339.6 519.1,339.5Z" fill="#ee2828" clip-path="url(#c21)"/>
<path d="M507.2,334.9 508.1,337.1 510.5,337.2 508.6,338.7 509.2,341.0 507.2,339.7 505.2,341.0 505.8,338.7 504.0,337.2 506.4,337.1ZM503.1,327.0 503.9,329.2 506.3,329.4 504.5,330.9 505.1,333.2 503.1,331.9 501.1,333.2 501.7,330.9 499.9,329.4 502.2,329.2ZM501.3,336.8 502.2,339.1 504.5,339.2 502.7,340.7 503.3,343.0 501.3,341.7 499.3,343.0 499.9,340.7 498.1,339.2 500.5,339.1Z" fill="#4472c4" clip-path="url(#c21)"/>
<path d="M517.1,311.7 518.0,314.0 520.3,314.1 518.5,315.6 519.1,317.9 517.1,316.6 515.1,317.9 515.7,315.6 513.9,314.1 516.3,314.0ZM516.2,312.7 517.0,314.9 519.4,315.0 517.6,316.5 518.2,318.8 516.2,317.5 514.2,318.8 514.8,316.5 512.9,315.0 515.3,314.9Z" fill="#ee2828" clip-path="url(#c21)"/>
<path d="M490.9,361.5 491.8,363.7 494.1,363.8 492.3,365.3 492.9,367.7 490.9,366.3 488.9,367.7 489.5,365.3 487.7,363.8 490.0,363.7ZM497.5,356.0 498.4,358.2 500.7,358.3 498.9,359.8 499.5,362.2 497.5,360.8 495.5,362.2 496.1,359.8 494.3,358.3 496.6,358.2ZM490.5,380.5 491.4,382.7 493.7,382.8 491.9,384.3 492.5,386.7 490.5,385.3 488.5,386.7 489.1,384.3 487.3,382.8 489.6,382.7ZM501.9,377.9 502.8,380.1 505.1,380.2 503.3,381.7 503.9,384.1 501.9,382.8 499.9,384.1 500.5,381.7 498.7,380.2 501.0,380.1ZM519.4,380.5 520.3,382.7 522.6,382.8 520.8,384.3 521.4,386.7 519.4,385.3 517.4,386.7 518.0,384.3 516.2,382.8 518.5,382.7ZM499.7,346.1 500.6,348.3 502.9,348.4 501.1,349.9 501.7,352.3 499.7,350.9 497.7,352.3 498.3,349.9 496.5,348.4 498.8,348.3ZM498.6,333.0 499.5,335.2 501.8,335.3 500.0,336.8 500.6,339.2 498.6,337.8 496.6,339.2 497.2,336.8 495.4,335.3 497.7,335.2ZM505.2,336.3 506.1,338.5 508.4,338.6 506.6,340.1 507.2,342.5 505.2,341.1 503.2,342.5 503.8,340.1 502.0,338.6 504.3,338.5ZM497.6,354.4 498.5,356.6 500.8,356.7 499.0,358.2 499.6,360.6 497.6,359.2 495.6,360.6 496.2,358.2 494.4,356.7 496.7,356.6ZM501.6,333.4 502.5,335.6 504.8,335.7 503.0,337.2 503.6,339.6 501.6,338.2 499.6,339.6 500.2,337.2 498.4,335.7 500.7,335.6ZM505.5,336.0 506.4,338.2 508.7,338.3 506.9,339.8 507.5,342.2 505.5,340.8 503.5,342.2 504.1,339.8 502.3,338.3 504.6,338.2ZM513.4,332.1 514.3,334.3 516.6,334.4 514.8,335.9 515.4,338.3 513.4,336.9 511.4,338.3 512.0,335.9 510.2,334.4 512.5,334.3ZM499.0,325.5 499.9,327.7 502.2,327.8 500.4,329.3 501.0,331.7 499.0,330.3 497.0,331.7 497.6,329.3 495.8,327.8 498.1,327.7ZM505.5,320.3 506.4,322.5 508.7,322.6 506.9,324.1 507.5,326.5 505.5,325.1 503.5,326.5 504.1,324.1 502.3,322.6 504.6,322.5ZM514.7,305.8 515.6,308.0 517.9,308.1 516.1,309.6 516.7,312.0 514.7,310.6 512.7,312.0 513.3,309.6 511.5,308.1 513.8,308.0ZM529.2,309.7 530.1,311.9 532.4,312.0 530.6,313.5 531.2,315.9 529.2,314.6 527.2,315.9 527.8,313.5 526.0,312.0 528.3,311.9ZM523.9,324.2 524.8,326.4 527.1,326.5 525.3,328.0 525.9,330.4 523.9,329.1 521.9,330.4 522.5,328.0 520.7,326.5 523.0,326.4ZM529.2,332.1 530.1,334.3 532.4,334.4 530.6,335.9 531.2,338.3 529.2,336.9 527.2,338.3 527.8,335.9 526.0,334.4 528.3,334.3ZM495.0,338.6 495.9,340.8 498.2,340.9 496.4,342.4 497.0,344.8 495.0,343.4 493.0,344.8 493.6,342.4 491.8,340.9 494.1,340.8ZM493.0,346.6 493.9,348.8 496.2,348.9 494.4,350.4 495.0,352.8 493.0,351.4 491.0,352.8 491.6,350.4 489.8,348.9 492.1,348.8ZM508.0,296.6 508.9,298.8 511.2,298.9 509.4,300.4 510.0,302.8 508.0,301.4 506.0,302.8 506.6,300.4 504.8,298.9 507.1,298.8ZM512.0,292.6 512.9,294.8 515.2,294.9 513.4,296.4 514.0,298.8 512.0,297.4 510.0,298.8 510.6,296.4 508.8,294.9 511.1,294.8Z" fill="#ee2828" clip-path="url(#c21)"/>
<path d="M491.4,368.0 492.3,370.2 494.6,370.3 492.8,371.8 493.4,374.2 491.4,372.8 489.4,374.2 490.0,371.8 488.2,370.3 490.5,370.2ZM500.8,367.4 501.7,369.6 504.0,369.7 502.2,371.2 502.8,373.6 500.8,372.2 498.8,373.6 499.4,371.2 497.6,369.7 499.9,369.6ZM500.8,370.1 501.7,372.3 504.0,372.4 502.2,373.9 502.8,376.3 500.8,374.9 498.8,376.3 499.4,373.9 497.6,372.4 499.9,372.3ZM513.9,363.6 514.8,365.8 517.1,365.9 515.3,367.4 515.9,369.8 513.9,368.4 511.9,369.8 512.5,367.4 510.7,365.9 513.0,365.8ZM515.0,366.9 515.9,369.1 518.2,369.2 516.4,370.7 517.0,373.1 515.0,371.8 513.0,373.1 513.6,370.7 511.8,369.2 514.1,369.1ZM512.8,370.2 513.7,372.4 516.0,372.5 514.2,374.0 514.8,376.4 512.8,375.1 510.8,376.4 511.4,374.0 509.6,372.5 511.9,372.4ZM519.4,356.0 520.3,358.2 522.6,358.3 520.8,359.8 521.4,362.2 519.4,360.8 517.4,362.2 518.0,359.8 516.2,358.3 518.5,358.2ZM524.9,359.3 525.8,361.5 528.1,361.6 526.3,363.1 526.9,365.5 524.9,364.1 522.9,365.5 523.5,363.1 521.7,361.6 524.0,361.5ZM503.0,380.1 503.9,382.3 506.2,382.4 504.4,383.9 505.0,386.3 503.0,384.9 501.0,386.3 501.6,383.9 499.8,382.4 502.1,382.3ZM506.3,382.2 507.2,384.4 509.5,384.5 507.7,386.0 508.3,388.4 506.3,387.1 504.3,388.4 504.9,386.0 503.1,384.5 505.4,384.4ZM490.5,391.0 491.4,393.2 493.7,393.3 491.9,394.8 492.5,397.2 490.5,395.8 488.5,397.2 489.1,394.8 487.3,393.3 489.6,393.2ZM504.1,391.0 505.0,393.2 507.3,393.3 505.5,394.8 506.1,397.2 504.1,395.8 502.1,397.2 502.7,394.8 500.9,393.3 503.2,393.2ZM504.1,394.3 505.0,396.5 507.3,396.6 505.5,398.1 506.1,400.5 504.1,399.1 502.1,400.5 502.7,398.1 500.9,396.6 503.2,396.5ZM497.5,399.8 498.4,402.0 500.7,402.1 498.9,403.6 499.5,406.0 497.5,404.6 495.5,406.0 496.1,403.6 494.3,402.1 496.6,402.0ZM497.5,403.0 498.4,405.2 500.7,405.3 498.9,406.8 499.5,409.2 497.5,407.8 495.5,409.2 496.1,406.8 494.3,405.3 496.6,405.2ZM499.3,346.1 500.2,348.3 502.5,348.4 500.7,349.9 501.3,352.3 499.3,350.9 497.3,352.3 497.9,349.9 496.1,348.4 498.4,348.3ZM504.1,349.4 505.0,351.6 507.3,351.7 505.5,353.2 506.1,355.6 504.1,354.2 502.1,355.6 502.7,353.2 500.9,351.7 503.2,351.6ZM510.6,349.4 511.5,351.6 513.8,351.7 512.0,353.2 512.6,355.6 510.6,354.2 508.6,355.6 509.2,353.2 507.4,351.7 509.7,351.6ZM506.3,341.8 507.2,344.0 509.5,344.1 507.7,345.6 508.3,348.0 506.3,346.6 504.3,348.0 504.9,345.6 503.1,344.1 505.4,344.0ZM518.3,342.9 519.2,345.1 521.5,345.2 519.7,346.7 520.3,349.1 518.3,347.8 516.3,349.1 516.9,346.7 515.1,345.2 517.4,345.1ZM530.3,339.6 531.2,341.8 533.5,341.9 531.7,343.4 532.3,345.8 530.3,344.4 528.3,345.8 528.9,343.4 527.1,341.9 529.4,341.8ZM536.9,339.6 537.8,341.8 540.1,341.9 538.3,343.4 538.9,345.8 536.9,344.4 534.9,345.8 535.5,343.4 533.7,341.9 536.0,341.8ZM543.5,340.7 544.4,342.9 546.7,343.0 544.9,344.5 545.5,346.9 543.5,345.6 541.5,346.9 542.1,344.5 540.3,343.0 542.6,342.9ZM544.6,346.1 545.5,348.3 547.8,348.4 546.0,349.9 546.6,352.3 544.6,350.9 542.6,352.3 543.2,349.9 541.4,348.4 543.7,348.3ZM538.0,344.0 538.9,346.2 541.2,346.3 539.4,347.8 540.0,350.2 538.0,348.8 536.0,350.2 536.6,347.8 534.8,346.3 537.1,346.2ZM532.5,344.0 533.4,346.2 535.7,346.3 533.9,347.8 534.5,350.2 532.5,348.8 530.5,350.2 531.1,347.8 529.3,346.3 531.6,346.2ZM521.6,338.5 522.5,340.7 524.8,340.8 523.0,342.3 523.6,344.7 521.6,343.3 519.6,344.7 520.2,342.3 518.4,340.8 520.7,340.7ZM505.5,341.3 506.4,343.5 508.7,343.6 506.9,345.1 507.5,347.5 505.5,346.1 503.5,347.5 504.1,345.1 502.3,343.6 504.6,343.5ZM498.3,345.9 499.2,348.1 501.5,348.2 499.7,349.7 500.3,352.1 498.3,350.8 496.3,352.1 496.9,349.7 495.1,348.2 497.4,348.1ZM510.1,349.2 511.0,351.4 513.3,351.5 511.5,353.0 512.1,355.4 510.1,354.1 508.1,355.4 508.7,353.0 506.9,351.5 509.2,351.4ZM518.7,341.3 519.6,343.5 521.9,343.6 520.1,345.1 520.7,347.5 518.7,346.1 516.7,347.5 517.3,345.1 515.5,343.6 517.8,343.5ZM520.6,344.6 521.5,346.8 523.8,346.9 522.0,348.4 522.6,350.8 520.6,349.4 518.6,350.8 519.2,348.4 517.4,346.9 519.7,346.8ZM529.8,339.3 530.7,341.5 533.0,341.6 531.2,343.1 531.8,345.5 529.8,344.1 527.8,345.5 528.4,343.1 526.6,341.6 528.9,341.5ZM531.1,343.2 532.0,345.4 534.3,345.5 532.5,347.0 533.1,349.4 531.1,348.1 529.1,349.4 529.7,347.0 527.9,345.5 530.2,345.4ZM537.7,341.3 538.6,343.5 540.9,343.6 539.1,345.1 539.7,347.5 537.7,346.1 535.7,347.5 536.3,345.1 534.5,343.6 536.8,343.5ZM543.0,340.6 543.9,342.8 546.2,342.9 544.4,344.4 545.0,346.8 543.0,345.4 541.0,346.8 541.6,344.4 539.8,342.9 542.1,342.8ZM544.3,345.9 545.2,348.1 547.5,348.2 545.7,349.7 546.3,352.1 544.3,350.8 542.3,352.1 542.9,349.7 541.1,348.2 543.4,348.1ZM537.0,345.2 537.9,347.4 540.2,347.5 538.4,349.0 539.0,351.4 537.0,350.1 535.0,351.4 535.6,349.0 533.8,347.5 536.1,347.4ZM520.0,355.1 520.9,357.3 523.2,357.4 521.4,358.9 522.0,361.3 520.0,359.9 518.0,361.3 518.6,358.9 516.8,357.4 519.1,357.3ZM505.0,298.6 505.9,300.8 508.2,300.9 506.4,302.4 507.0,304.8 505.0,303.4 503.0,304.8 503.6,302.4 501.8,300.9 504.1,300.8ZM503.0,292.6 503.9,294.8 506.2,294.9 504.4,296.4 505.0,298.8 503.0,297.4 501.0,298.8 501.6,296.4 499.8,294.9 502.1,294.8Z" fill="#4472c4" clip-path="url(#c21)"/>
<path d="M263.82,432.36 L263.83,432.03 L263.84,431.04 L263.86,429.47 L263.89,427.41 L263.92,424.98 L263.97,422.27 L264.02,419.38 L264.08,416.39 L264.15,413.36 L264.22,410.32 L264.31,407.32 L264.40,404.38 L264.50,401.50 L264.61,398.70 L264.72,395.98 L264.85,393.35 L264.98,390.80 L265.12,388.33 L265.27,385.95 L265.42,383.64 L265.59,381.41 L265.76,379.26 L265.94,377.17 L266.13,375.15 L266.32,373.19 L266.53,371.29 L266.74,369.44 L266.96,367.65 L267.19,365.91 L267.43,364.22 L267.67,362.58 L267.92,360.98 L268.18,359.42 L268.45,357.91 L268.73,356.43 L269.01,354.99 L269.30,353.58 L269.60,352.21 L269.91,350.87 L270.23,349.56 L270.55,348.27 L270.88,347.02 L271.23,345.80 L271.57,344.59 L271.93,343.42 L272.29,342.27 L272.67,341.14 L273.05,340.03 L273.44,338.95 L273.83,337.88 L274.24,336.84 L274.65,335.81 L275.07,334.80 L275.50,333.81 L275.93,332.84 L276.38,331.89 L276.83,330.95 L277.29,330.02 L277.76,329.11 L278.24,328.22 L278.72,327.34 L279.21,326.47 L279.71,325.62 L280.22,324.78 L280.74,323.95 L281.26,323.13 L281.80,322.33 L282.34,321.54 L282.89,320.75 L283.44,319.98 L284.01,319.22 L284.58,318.48 L285.16,317.74 L285.75,317.01 L286.35,316.29 L286.95,315.57 L287.56,314.87 L288.18,314.18 L288.81,313.50 L289.45,312.82 L290.09,312.15 L290.75,311.49 L291.41,310.84 L292.08,310.19 L292.75,309.56 L293.44,308.93 L294.13,308.31 L294.83,307.69 L295.54,307.08 L296.26,306.48 L296.98,305.88 L297.71,305.29 L298.46,304.71 L299.20,304.13 L299.96,303.56 L300.73,303.00 L301.50,302.44 L302.28,301.89 L303.07,301.34 L303.87,300.79 L304.67,300.26 L305.48,299.72 L306.30,299.20 L307.13,298.68 L307.97,298.16 L308.82,297.65 L309.67,297.14 L310.53,296.64 L311.40,296.14 L312.28,295.64 L313.16,295.15 L314.05,294.67 L314.95,294.19 L315.86,293.71 L316.78,293.24 L317.71,292.77 L318.64,292.31 L319.58,291.85 L320.53,291.39 L321.49,290.94 L322.45,290.49 L323.42,290.04 L324.40,289.60 L325.39,289.16 L326.39,288.73 L327.40,288.29 L328.41,287.87 L329.43,287.44 L330.46,287.02 L331.50,286.60 L332.54,286.19 L333.59,285.77 L334.66,285.37 L335.73,284.96 L336.80,284.56 L337.89,284.16 L338.98,283.76 L340.08,283.37 L341.19,282.97 L342.31,282.59 L343.43,282.20 L344.57,281.82 L345.71,281.44 L346.86,281.06 L348.02,280.68 L349.18,280.31 L350.35,279.94 L351.54,279.57 L352.72,279.21 L353.92,278.84 L355.13,278.48 L356.34,278.13 L357.56,277.77 L358.79,277.42 L360.03,277.07 L361.27,276.72 L362.53,276.37 L363.79,276.03 L365.06,275.68 L366.34,275.34 L367.62,275.01 L368.91,274.67 L370.22,274.34 L371.53,274.00 L372.84,273.67 L374.17,273.35 L375.50,273.02 L376.84,272.70 L378.19,272.37 L379.55,272.05 L380.92,271.74 L382.29,271.42 L383.67,271.10 L385.06,270.79 L386.46,270.48 L387.86,270.17 L389.28,269.86 L390.70,269.56 L392.13,269.25 L393.57,268.95 L395.01,268.65 L396.47,268.35 L397.93,268.05 L399.40,267.76 L400.87,267.46 L402.36,267.17 L403.85,266.88 L405.36,266.59 L406.86,266.30 L408.38,266.01 L409.91,265.73 L411.44,265.45 L412.98,265.16 L414.53,264.88 L416.09,264.60 L417.66,264.33 L419.23,264.05 L420.81,263.77 L422.40,263.50 L424.00,263.23" fill="none" stroke="#7a7a7a" stroke-width="1.2" clip-path="url(#c11)"/>
<path d="M480.23,432.36 L480.23,431.89 L480.25,430.52 L480.27,428.39 L480.29,425.65 L480.33,422.50 L480.37,419.08 L480.43,415.53 L480.49,411.93 L480.56,408.36 L480.63,404.86 L480.72,401.44 L480.81,398.14 L480.91,394.95 L481.02,391.89 L481.13,388.93 L481.26,386.10 L481.39,383.37 L481.53,380.75 L481.68,378.23 L481.84,375.80 L482.00,373.47 L482.18,371.21 L482.36,369.04 L482.55,366.94 L482.74,364.91 L482.95,362.95 L483.16,361.05 L483.38,359.21 L483.61,357.43 L483.85,355.70 L484.09,354.01 L484.35,352.38 L484.61,350.79 L484.88,349.25 L485.15,347.74 L485.44,346.27 L485.73,344.84 L486.03,343.45 L486.34,342.09 L486.66,340.76 L486.99,339.46 L487.32,338.19 L487.66,336.95 L488.01,335.73 L488.37,334.54 L488.73,333.38 L489.11,332.24 L489.49,331.12 L489.88,330.03 L490.28,328.95 L490.68,327.90 L491.10,326.86 L491.52,325.85 L491.95,324.85 L492.39,323.87 L492.83,322.91 L493.29,321.96 L493.75,321.03 L494.22,320.11 L494.70,319.21 L495.19,318.33 L495.68,317.46 L496.18,316.60 L496.69,315.75 L497.21,314.92 L497.74,314.10 L498.27,313.29 L498.82,312.50 L499.37,311.71 L499.92,310.94 L500.49,310.17 L501.07,309.42 L501.65,308.68 L502.24,307.95 L502.84,307.22 L503.45,306.51 L504.06,305.80 L504.68,305.11 L505.31,304.42 L505.95,303.74 L506.60,303.07 L507.26,302.41 L507.92,301.76 L508.59,301.11 L509.27,300.47 L509.96,299.84 L510.65,299.21 L511.36,298.60 L512.07,297.99 L512.79,297.38 L513.51,296.78 L514.25,296.19 L514.99,295.61 L515.74,295.03 L516.50,294.46 L517.27,293.89 L518.05,293.33 L518.83,292.78 L519.62,292.23 L520.42,291.68 L521.23,291.14 L522.05,290.61 L522.87,290.08 L523.70,289.56 L524.54,289.04 L525.39,288.53 L526.25,288.02 L527.11,287.52 L527.98,287.02 L528.86,286.52 L529.75,286.03 L530.65,285.55 L531.55,285.06 L532.46,284.59 L533.38,284.11 L534.31,283.64 L535.25,283.18 L536.19,282.72 L537.15,282.26 L538.11,281.81 L539.08,281.36 L540.05,280.91 L541.04,280.47 L542.03,280.03 L543.03,279.59 L544.04,279.16 L545.06,278.73 L546.08,278.31 L547.11,277.88 L548.16,277.47 L549.20,277.05 L550.26,276.64 L551.33,276.23 L552.40,275.82 L553.48,275.42 L554.57,275.02 L555.67,274.62 L556.77,274.23 L557.89,273.83 L559.01,273.44 L560.14,273.06 L561.27,272.67 L562.42,272.29 L563.57,271.92 L564.73,271.54 L565.90,271.17 L567.08,270.80 L568.27,270.43 L569.46,270.06 L570.66,269.70 L571.87,269.34 L573.09,268.98 L574.32,268.62 L575.55,268.27 L576.79,267.92 L578.04,267.57 L579.30,267.22 L580.57,266.88 L581.84,266.54 L583.12,266.19 L584.41,265.86 L585.71,265.52 L587.02,265.19 L588.33,264.85 L589.65,264.52 L590.98,264.20 L592.32,263.87 L593.67,263.54 L595.02,263.22 L596.39,262.90 L597.76,262.58 L599.14,262.27 L600.52,261.95 L601.92,261.64 L603.32,261.33 L604.73,261.02 L606.15,260.71 L607.58,260.40 L609.01,260.10 L610.45,259.80 L611.90,259.50 L613.36,259.20 L614.83,258.90 L616.31,258.60 L617.79,258.31 L619.28,258.01 L620.78,257.72 L622.29,257.43 L623.80,257.15 L625.32,256.86 L626.86,256.57 L628.40,256.29 L629.94,256.01 L631.50,255.73 L633.06,255.45 L634.63,255.17 L636.21,254.89 L637.80,254.62 L639.40,254.34 L641.00,254.07" fill="none" stroke="#7a7a7a" stroke-width="1.2" clip-path="url(#c21)"/>
<text x="68.30" y="226.50" font-size="16" fill="#1e1e1e" textLength="73.5" lengthAdjust="spacing">Frequency</text>
<text x="143.80" y="226.50" font-size="16" fill="#1e1e1e">(</text>
<text x="149.80" y="226.50" font-size="16" fill="#1e1e1e" textLength="16.2" lengthAdjust="spacingAndGlyphs">cm</text>
<text x="166.10" y="220.20" font-size="8.8" fill="#1e1e1e" textLength="9.0" lengthAdjust="spacingAndGlyphs">&#8722;1</text>
<text x="176.60" y="226.50" font-size="16" fill="#1e1e1e">)</text>
<text x="285.00" y="226.50" font-size="16" fill="#1e1e1e" textLength="73.5" lengthAdjust="spacing">Frequency</text>
<text x="360.50" y="226.50" font-size="16" fill="#1e1e1e">(</text>
<text x="366.50" y="226.50" font-size="16" fill="#1e1e1e" textLength="16.2" lengthAdjust="spacingAndGlyphs">cm</text>
<text x="382.80" y="220.20" font-size="8.8" fill="#1e1e1e" textLength="9.0" lengthAdjust="spacingAndGlyphs">&#8722;1</text>
<text x="393.30" y="226.50" font-size="16" fill="#1e1e1e">)</text>
<text x="68.70" y="454.00" font-size="16" fill="#1e1e1e" textLength="73.5" lengthAdjust="spacing">Frequency</text>
<text x="144.20" y="454.00" font-size="16" fill="#1e1e1e">(</text>
<text x="150.20" y="454.00" font-size="16" fill="#1e1e1e" textLength="16.2" lengthAdjust="spacingAndGlyphs">cm</text>
<text x="166.50" y="447.70" font-size="8.8" fill="#1e1e1e" textLength="9.0" lengthAdjust="spacingAndGlyphs">&#8722;1</text>
<text x="177.00" y="454.00" font-size="16" fill="#1e1e1e">)</text>
<text x="284.60" y="454.00" font-size="16" fill="#1e1e1e" textLength="73.5" lengthAdjust="spacing">Frequency</text>
<text x="360.10" y="454.00" font-size="16" fill="#1e1e1e">(</text>
<text x="366.10" y="454.00" font-size="16" fill="#1e1e1e" textLength="16.2" lengthAdjust="spacingAndGlyphs">cm</text>
<text x="382.40" y="447.70" font-size="8.8" fill="#1e1e1e" textLength="9.0" lengthAdjust="spacingAndGlyphs">&#8722;1</text>
<text x="392.90" y="454.00" font-size="16" fill="#1e1e1e">)</text>
<text x="501.60" y="454.00" font-size="16" fill="#1e1e1e" textLength="73.5" lengthAdjust="spacing">Frequency</text>
<text x="577.10" y="454.00" font-size="16" fill="#1e1e1e">(</text>
<text x="583.10" y="454.00" font-size="16" fill="#1e1e1e" textLength="16.2" lengthAdjust="spacingAndGlyphs">cm</text>
<text x="599.40" y="447.70" font-size="8.8" fill="#1e1e1e" textLength="9.0" lengthAdjust="spacingAndGlyphs">&#8722;1</text>
<text x="609.90" y="454.00" font-size="16" fill="#1e1e1e">)</text>
<text x="531.40" y="225.20" font-size="16" fill="#1e1e1e" textLength="23.3" lengthAdjust="spacingAndGlyphs">MFP</text>
<text x="558.00" y="225.20" font-size="16" fill="#1e1e1e">(</text>
<text x="563.90" y="225.20" font-size="16" fill="#1e1e1e" textLength="16.8" lengthAdjust="spacingAndGlyphs">nm</text>
<text x="581.10" y="225.20" font-size="16" fill="#1e1e1e">)</text>
<g transform="translate(13.00,93.65) rotate(-90)"><text x="-18.8" y="0" font-size="17.5" fill="#1e1e1e">&#954;</text><text x="-9.8" y="4.3" font-size="11.5" fill="#1e1e1e" textLength="5.6" lengthAdjust="spacingAndGlyphs">C</text><line x1="-2.85" y1="0.3" x2="3.85" y2="-13" stroke="#1e1e1e" stroke-width="1.0"/><text x="3.9" y="0" font-size="17.5" fill="#1e1e1e">&#954;</text><text x="12.6" y="3.8" font-size="11.5" fill="#1e1e1e" textLength="5.6" lengthAdjust="spacingAndGlyphs">L</text></g>
<g transform="translate(229.50,92.00) rotate(-90)"><text x="-18.8" y="0" font-size="17.5" fill="#1e1e1e">&#954;</text><text x="-9.8" y="4.3" font-size="11.5" fill="#1e1e1e" textLength="5.6" lengthAdjust="spacingAndGlyphs">C</text><line x1="-2.85" y1="0.3" x2="3.85" y2="-13" stroke="#1e1e1e" stroke-width="1.0"/><text x="3.9" y="0" font-size="17.5" fill="#1e1e1e">&#954;</text><text x="12.6" y="3.8" font-size="11.5" fill="#1e1e1e" textLength="5.6" lengthAdjust="spacingAndGlyphs">L</text></g>
<g transform="translate(446.20,95.60) rotate(-90)"><text x="-30.5" y="0" font-size="17" fill="#1e1e1e">&#954;</text><text x="-21.3" y="3.3" font-size="10.5" fill="#1e1e1e">L</text><text x="-14.2" y="0" font-size="16" fill="#1e1e1e" textLength="44" lengthAdjust="spacingAndGlyphs">(W/mK)</text></g>
<g transform="translate(32.70,325.00) rotate(-90)"><text x="-32.2" y="0" font-size="16" fill="#1e1e1e">v</text><text x="-24.6" y="-7.0" font-size="12" fill="#1e1e1e" textLength="10" lengthAdjust="spacingAndGlyphs">ph</text><text x="-14.6" y="0" font-size="16" fill="#1e1e1e" textLength="45.5" lengthAdjust="spacing">(km/s)</text></g>
<g transform="translate(235.40,326.85) rotate(-90)"><text x="-33.2" y="0" font-size="16" fill="#1e1e1e" textLength="24.2" lengthAdjust="spacing">SRs</text><text x="-8.1" y="0" font-size="16" fill="#1e1e1e">(</text><text x="-0.8" y="0" font-size="16" fill="#1e1e1e" textLength="16" lengthAdjust="spacing">ps</text><text x="16.2" y="-8.8" font-size="10" fill="#1e1e1e" textLength="9" lengthAdjust="spacing">&#8722;1</text><text x="26.9" y="0" font-size="16" fill="#1e1e1e">)</text></g>
<g transform="translate(451.40,326.85) rotate(-90)"><text x="-33.2" y="0" font-size="16" fill="#1e1e1e" textLength="24.2" lengthAdjust="spacing">SRs</text><text x="-8.1" y="0" font-size="16" fill="#1e1e1e">(</text><text x="-0.8" y="0" font-size="16" fill="#1e1e1e" textLength="16" lengthAdjust="spacing">ps</text><text x="16.2" y="-8.8" font-size="10" fill="#1e1e1e" textLength="9" lengthAdjust="spacing">&#8722;1</text><text x="26.9" y="0" font-size="16" fill="#1e1e1e">)</text></g>
<text x="52.0" y="20.3" font-size="16.5" fill="#1e1e1e" textLength="19" lengthAdjust="spacing">(a)</text>
<text x="268.6" y="20.3" font-size="16.5" fill="#1e1e1e" textLength="19.4" lengthAdjust="spacing">(b)</text>
<text x="486.5" y="20.5" font-size="16.5" fill="#1e1e1e" textLength="18.5" lengthAdjust="spacing">(c)</text>
<text x="51.3" y="247.7" font-size="16.5" fill="#1e1e1e" textLength="20.3" lengthAdjust="spacing">(d)</text>
<text x="270.6" y="247.2" font-size="16.5" fill="#1e1e1e" textLength="19.6" lengthAdjust="spacing">(e)</text>
<text x="486.6" y="247.7" font-size="16.5" fill="#1e1e1e" textLength="20.3" lengthAdjust="spacing">(f)</text>
<line x1="93.10" y1="20.00" x2="118.90" y2="20.00" stroke="#e8302f" stroke-width="1.6" />
<line x1="93.10" y1="32.90" x2="118.90" y2="32.90" stroke="#2f5fbd" stroke-width="1.6" />
<text x="124.5" y="24.6" font-size="12.5" fill="#1e1e1e">3ph</text>
<text x="124.5" y="37.5" font-size="12.5" fill="#1e1e1e" textLength="43" lengthAdjust="spacing">3ph, 4ph</text>
<line x1="312.80" y1="17.30" x2="338.30" y2="17.30" stroke="#e8302f" stroke-width="1.6" />
<line x1="312.80" y1="31.20" x2="338.30" y2="31.20" stroke="#2f5fbd" stroke-width="1.6" />
<text x="344.2" y="21.9" font-size="12.5" fill="#1e1e1e">3ph</text>
<text x="344.2" y="35.8" font-size="12.5" fill="#1e1e1e" textLength="43" lengthAdjust="spacing">3ph, 4ph</text>
<line x1="511.40" y1="18.70" x2="537.20" y2="18.70" stroke="#e8302f" stroke-width="1.6" />
<line x1="511.40" y1="32.00" x2="537.20" y2="32.00" stroke="#e8302f" stroke-width="1.6" stroke-dasharray="4.5,3.5"/>
<text x="543.7" y="23.299999999999997" font-size="12.5" fill="#1e1e1e">3ph</text>
<text x="543.7" y="36.6" font-size="12.5" fill="#1e1e1e" textLength="43" lengthAdjust="spacing">3ph, 4ph</text>
<text x="172.3" y="183.2" font-size="16" fill="#1e1e1e" textLength="29" lengthAdjust="spacingAndGlyphs">K<tspan font-size="10.4" dy="3.2">3</tspan><tspan dy="-3.2">Bi</tspan></text>
<text x="379.0" y="182.7" font-size="16" fill="#1e1e1e" textLength="37.5" lengthAdjust="spacingAndGlyphs">Rb<tspan font-size="10.4" dy="3.2">3</tspan><tspan dy="-3.2">Bi</tspan></text>
<text x="378.0" y="409.0" font-size="16" fill="#1e1e1e" textLength="37.3" lengthAdjust="spacingAndGlyphs">Rb<tspan font-size="10.4" dy="3.2">3</tspan><tspan dy="-3.2">Bi</tspan></text>
<text x="603.2" y="409.0" font-size="16" fill="#1e1e1e" textLength="29.7" lengthAdjust="spacingAndGlyphs">K<tspan font-size="10.4" dy="3.2">3</tspan><tspan dy="-3.2">Bi</tspan></text>
<text x="604.0" y="70.3" font-size="15" fill="#e8302f" textLength="29.2" lengthAdjust="spacingAndGlyphs">K<tspan font-size="9.8" dy="3.0">3</tspan><tspan dy="-3.0">Bi</tspan></text>
<text x="587.3" y="181.9" font-size="15" fill="#2f5fbd" textLength="38" lengthAdjust="spacingAndGlyphs">Rb<tspan font-size="9.8" dy="3.0">3</tspan><tspan dy="-3.0">Bi</tspan></text>
<path d="M154.2,235.5 155.1,237.7 157.4,237.8 155.6,239.3 156.2,241.7 154.2,240.3 152.2,241.7 152.8,239.3 151.0,237.8 153.3,237.7ZM356.2,238.6 357.1,240.8 359.4,240.9 357.6,242.4 358.2,244.8 356.2,243.4 354.2,244.8 354.8,242.4 353.0,240.9 355.3,240.8ZM559.3,238.1 560.2,240.3 562.5,240.4 560.7,241.9 561.3,244.3 559.3,242.9 557.3,244.3 557.9,241.9 556.1,240.4 558.4,240.3Z" fill="#ee2828"/>
<path d="M154.2,252.3 155.1,254.5 157.4,254.6 155.6,256.1 156.2,258.5 154.2,257.1 152.2,258.5 152.8,256.1 151.0,254.6 153.3,254.5ZM356.2,251.9 357.1,254.1 359.4,254.2 357.6,255.7 358.2,258.1 356.2,256.8 354.2,258.1 354.8,255.7 353.0,254.2 355.3,254.1ZM559.3,251.8 560.2,254.0 562.5,254.1 560.7,255.6 561.3,258.0 559.3,256.6 557.3,258.0 557.9,255.6 556.1,254.1 558.4,254.0Z" fill="#4472c4"/>
<text x="172.6" y="243.6" font-size="12.5" fill="#1e1e1e" textLength="22" lengthAdjust="spacingAndGlyphs">K<tspan font-size="8.1" dy="2.5">3</tspan><tspan dy="-2.5">Bi</tspan></text>
<text x="172.6" y="260.1" font-size="12.5" fill="#1e1e1e" textLength="28.8" lengthAdjust="spacingAndGlyphs">Rb<tspan font-size="8.1" dy="2.5">3</tspan><tspan dy="-2.5">Bi</tspan></text>
<text x="375" y="246.3" font-size="12.5" fill="#1e1e1e">3ph</text>
<text x="375" y="259.3" font-size="12.5" fill="#1e1e1e">4ph</text>
<text x="578" y="247.2" font-size="12.5" fill="#1e1e1e">3ph</text>
<text x="578" y="260.2" font-size="12.5" fill="#1e1e1e">4ph</text>
<line x1="631" y1="30.3" x2="627.13" y2="52.59" stroke="#e8302f" stroke-width="1.4"/>
<path d="M626.10,58.50 L624.57,52.14 L626.99,53.36 L629.69,53.03Z" fill="#e8302f"/>
<line x1="632.6" y1="95.8" x2="625.75" y2="78.86" stroke="#e8302f" stroke-width="1.4"/>
<path d="M623.50,73.30 L628.16,77.89 L625.46,78.14 L623.34,79.84Z" fill="#e8302f"/>
<line x1="621.8" y1="89.7" x2="608.87" y2="161.10" stroke="#2f5fbd" stroke-width="1.4"/>
<path d="M607.80,167.00 L606.31,160.63 L608.73,161.86 L611.43,161.56Z" fill="#2f5fbd"/>
<line x1="591.4" y1="135.8" x2="598.57" y2="161.23" stroke="#2f5fbd" stroke-width="1.4" stroke-dasharray="4,3"/>
<path d="M600.20,167.00 L596.07,161.93 L598.78,161.98 L601.07,160.52Z" fill="#2f5fbd"/>
</svg></body></html>
